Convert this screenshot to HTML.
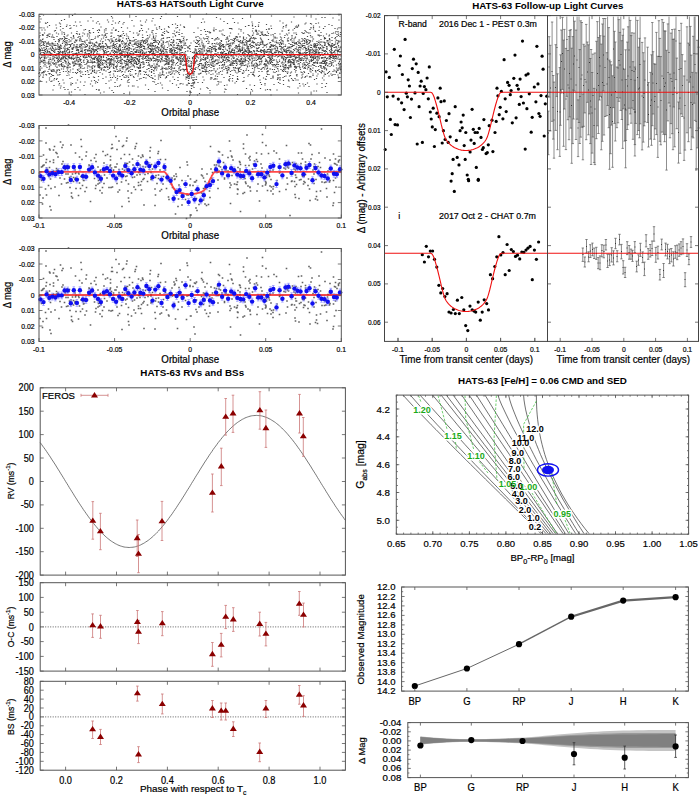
<!DOCTYPE html>
<html><head><meta charset="utf-8"><style>
html,body{margin:0;padding:0;background:#fff;width:700px;height:795px;overflow:hidden}
svg{display:block;font-family:"Liberation Sans",sans-serif}
</style></head><body>
<svg width="700" height="795" viewBox="0 0 700 795">
<path d="M39 73.5h1.2M39.5 50h1.2M39.5 37h1.2M39.5 57h1.2M39.5 76.5h1.2M39.5 45h1.2M39.5 48.5h1.2M39.5 51h1.2M39.5 72.5h1.2M40 44h1.2M40 22h1.2M40 69.5h1.2M40 58h1.2M40 62.5h1.2M40 64h1.2M40 35.5h1.2M40 51.5h1.2M40 50h1.2M40 16.5h1.2M40 49.5h1.2M40 33h1.2M40 70.5h1.2M40.5 59h1.2M40.5 58.5h1.2M40.5 53.5h1.2M40.5 50.5h1.2M40.5 40h1.2M40.5 81h1.2M40.5 75h1.2M40.5 66.5h1.2M40.5 46h1.2M40.5 49.5h1.2M40.5 62h1.2M41 43h1.2M41 19h1.2M41 40.5h1.2M41 52.5h1.2M41 60.5h1.2M41 62h1.2M41.5 45.5h1.2M41.5 57.5h1.2M41.5 48h1.2M41.5 73h1.2M41.5 48h1.2M41.5 61.5h1.2M42 30h1.2M42 61.5h1.2M42 57h1.2M42 50.5h1.2M42 55.5h1.2M42 42h1.2M42.5 34.5h1.2M42.5 72.5h1.2M42.5 49h1.2M42.5 39.5h1.2M42.5 35h1.2M43 45h1.2M43 39h1.2M43 77h1.2M43 50.5h1.2M43 73h1.2M43 41.5h1.2M43 34.5h1.2M43 62h1.2M43 39h1.2M43 60h1.2M43 52.5h1.2M43 77.5h1.2M43 35.5h1.2M43.5 15h1.2M43.5 75h1.2M43.5 42.5h1.2M43.5 60.5h1.2M43.5 45h1.2M43.5 71.5h1.2M43.5 60.5h1.2M43.5 44h1.2M43.5 63h1.2M44 28h1.2M44 55.5h1.2M44 57h1.2M44 72.5h1.2M44 47.5h1.2M44 43.5h1.2M44 53h1.2M44 47.5h1.2M44 66h1.2M44 52.5h1.2M44 48h1.2M44.5 33h1.2M44.5 60.5h1.2M44.5 60h1.2M44.5 45.5h1.2M44.5 58.5h1.2M44.5 58h1.2M44.5 53.5h1.2M44.5 60h1.2M44.5 50.5h1.2M44.5 57.5h1.2M45 49.5h1.2M45 71h1.2M45 42h1.2M45 62.5h1.2M45 51h1.2M45 71.5h1.2M45 63h1.2M45 56h1.2M45 61h1.2M45 30h1.2M45 41.5h1.2M45 64.5h1.2M45.5 51.5h1.2M45.5 42h1.2M45.5 58h1.2M45.5 56h1.2M45.5 23h1.2M45.5 56h1.2M45.5 49.5h1.2M46 53h1.2M46 66h1.2M46 47h1.2M46 74.5h1.2M46 23.5h1.2M46.5 46h1.2M46.5 82h1.2M46.5 58h1.2M46.5 75h1.2M46.5 44h1.2M46.5 53h1.2M46.5 48.5h1.2M47 50h1.2M47 67.5h1.2M47 63h1.2M47 44h1.2M47 37.5h1.2M47 43h1.2M47 55h1.2M47 35.5h1.2M47 53h1.2M47 46.5h1.2M47.5 52h1.2M47.5 51h1.2M47.5 22.5h1.2M47.5 35h1.2M47.5 27h1.2M48 35h1.2M48 71.5h1.2M48 57h1.2M48 43h1.2M48 36h1.2M48 46.5h1.2M48.5 42h1.2M48.5 62h1.2M48.5 64h1.2M48.5 55h1.2M49 34h1.2M49 63h1.2M49 43.5h1.2M49 54.5h1.2M49 59.5h1.2M49 73.5h1.2M49 51.5h1.2M49 53h1.2M49 44.5h1.2M49 61h1.2M49 69.5h1.2M49 49h1.2M49.5 68h1.2M49.5 36.5h1.2M49.5 51.5h1.2M49.5 78h1.2M49.5 54.5h1.2M49.5 66.5h1.2M49.5 78h1.2M49.5 74h1.2M49.5 25.5h1.2M49.5 80h1.2M50 52.5h1.2M50 55.5h1.2M50 73.5h1.2M50 58h1.2M50 65h1.2M50 45.5h1.2M50 34h1.2M50 63.5h1.2M50.5 59.5h1.2M50.5 53h1.2M50.5 55.5h1.2M50.5 58h1.2M50.5 58h1.2M50.5 44h1.2M50.5 48h1.2M51 76.5h1.2M51 49h1.2M51 81.5h1.2M51 53.5h1.2M51 62h1.2M51 70h1.2M51 65h1.2M51.5 74.5h1.2M51.5 37h1.2M51.5 50h1.2M51.5 70.5h1.2M51.5 46h1.2M51.5 50h1.2M51.5 55h1.2M51.5 71.5h1.2M52 71.5h1.2M52 44h1.2M52 43h1.2M52 54h1.2M52 46h1.2M52 50.5h1.2M52 60h1.2M52 81h1.2M52.5 35h1.2M52.5 50.5h1.2M52.5 75.5h1.2M52.5 43h1.2M52.5 47h1.2M52.5 71h1.2M52.5 44h1.2M52.5 48h1.2M52.5 37h1.2M53 48.5h1.2M53 69.5h1.2M53 63.5h1.2M53 37h1.2M53 58h1.2M53 62.5h1.2M53 59h1.2M53 59h1.2M53 48.5h1.2M53 58.5h1.2M53 90h1.2M53 43.5h1.2M53 56.5h1.2M53 55h1.2M53.5 75.5h1.2M53.5 45h1.2M53.5 49h1.2M53.5 51.5h1.2M54 39.5h1.2M54 64.5h1.2M54 51h1.2M54 70h1.2M54 80h1.2M54 37.5h1.2M54 59h1.2M54 71.5h1.2M54 55h1.2M54 70.5h1.2M54 85.5h1.2M54.5 78.5h1.2M54.5 57h1.2M54.5 52.5h1.2M54.5 61h1.2M54.5 60.5h1.2M54.5 45.5h1.2M54.5 50h1.2M54.5 31h1.2M54.5 63.5h1.2M55 52h1.2M55 44h1.2M55 50h1.2M55 57.5h1.2M55.5 66h1.2M55.5 64h1.2M55.5 30.5h1.2M55.5 55.5h1.2M55.5 41.5h1.2M55.5 45.5h1.2M55.5 48h1.2M56 62.5h1.2M56 62.5h1.2M56 14.5h1.2M56 25h1.2M56 72h1.2M56 55.5h1.2M56 49.5h1.2M56 45.5h1.2M56.5 33h1.2M56.5 54h1.2M56.5 73h1.2M56.5 28h1.2M56.5 79.5h1.2M56.5 58.5h1.2M56.5 64h1.2M57 54.5h1.2M57 71h1.2M57 49h1.2M57 56h1.2M57 70h1.2M57 57.5h1.2M57 67.5h1.2M57 67h1.2M57 36.5h1.2M57 78.5h1.2M57.5 45h1.2M57.5 75h1.2M57.5 61h1.2M57.5 58h1.2M57.5 43.5h1.2M57.5 70h1.2M58 60h1.2M58 46.5h1.2M58 49h1.2M58 53.5h1.2M58 51.5h1.2M58 62.5h1.2M58 58.5h1.2M58 53.5h1.2M58 47h1.2M58.5 49.5h1.2M58.5 81.5h1.2M58.5 51.5h1.2M58.5 59.5h1.2M58.5 34h1.2M58.5 41h1.2M58.5 65h1.2M58.5 39.5h1.2M58.5 61.5h1.2M58.5 45h1.2M59 41.5h1.2M59 57h1.2M59 47.5h1.2M59 53.5h1.2M59 55.5h1.2M59 52.5h1.2M59 42h1.2M59 56h1.2M59 54h1.2M59 69.5h1.2M59 49.5h1.2M59 75h1.2M59 39.5h1.2M59 56.5h1.2M59 85h1.2M59.5 60.5h1.2M59.5 61h1.2M59.5 61h1.2M59.5 23h1.2M59.5 49h1.2M59.5 58h1.2M59.5 83.5h1.2M59.5 52.5h1.2M59.5 70.5h1.2M59.5 40.5h1.2M59.5 46.5h1.2M59.5 66h1.2M60 47.5h1.2M60 64.5h1.2M60 74.5h1.2M60 48.5h1.2M60 50h1.2M60 47.5h1.2M60 38.5h1.2M60 54.5h1.2M60 72.5h1.2M60 53h1.2M60 52h1.2M60 48.5h1.2M60.5 26.5h1.2M60.5 51.5h1.2M60.5 59h1.2M60.5 24h1.2M60.5 59.5h1.2M60.5 88h1.2M60.5 30h1.2M60.5 46h1.2M60.5 45h1.2M61 48h1.2M61 39h1.2M61 60h1.2M61 86h1.2M61 61.5h1.2M61.5 64.5h1.2M61.5 65.5h1.2M61.5 66h1.2M61.5 63.5h1.2M61.5 69h1.2M61.5 20.5h1.2M61.5 48.5h1.2M61.5 46h1.2M61.5 58h1.2M61.5 39h1.2M61.5 59h1.2M62 39h1.2M62 34h1.2M62 58.5h1.2M62 52.5h1.2M62 58h1.2M62 55.5h1.2M62 32h1.2M62 57.5h1.2M62 55h1.2M62.5 52.5h1.2M62.5 38.5h1.2M62.5 51.5h1.2M62.5 43.5h1.2M62.5 66.5h1.2M62.5 54h1.2M63 65h1.2M63 62.5h1.2M63 56.5h1.2M63 28.5h1.2M63 53h1.2M63 59h1.2M63 80h1.2M63 42h1.2M63.5 58h1.2M63.5 48h1.2M63.5 69h1.2M63.5 56h1.2M63.5 58h1.2M63.5 40.5h1.2M63.5 71.5h1.2M63.5 57.5h1.2M63.5 67h1.2M64 51.5h1.2M64 32.5h1.2M64 52h1.2M64 67h1.2M64 87.5h1.2M64 36.5h1.2M64 83h1.2M64.5 57h1.2M64.5 46h1.2M64.5 37h1.2M64.5 60.5h1.2M64.5 34.5h1.2M64.5 66h1.2M64.5 39.5h1.2M64.5 41.5h1.2M64.5 19.5h1.2M64.5 51h1.2M64.5 51.5h1.2M64.5 54h1.2M64.5 34h1.2M65 48.5h1.2M65 66.5h1.2M65 89.5h1.2M65 56h1.2M65 38h1.2M65 38.5h1.2M65 43h1.2M65 50h1.2M65 52h1.2M65 61h1.2M65 47h1.2M65 60h1.2M65 49.5h1.2M65.5 54h1.2M65.5 58.5h1.2M65.5 52h1.2M65.5 44.5h1.2M65.5 57.5h1.2M65.5 53.5h1.2M65.5 41h1.2M65.5 61.5h1.2M65.5 63h1.2M65.5 45h1.2M65.5 38.5h1.2M66 55.5h1.2M66 71.5h1.2M66 42.5h1.2M66 52h1.2M66 58.5h1.2M66 56h1.2M66 54.5h1.2M66 38.5h1.2M66.5 62h1.2M66.5 43h1.2M66.5 45h1.2M66.5 26.5h1.2M66.5 51h1.2M66.5 58.5h1.2M67 38.5h1.2M67 25h1.2M67 67h1.2M67 50.5h1.2M67 67.5h1.2M67 59h1.2M67 45h1.2M67 42h1.2M67 48.5h1.2M67 40.5h1.2M67 75.5h1.2M67 64h1.2M67 36h1.2M67 68h1.2M67.5 70h1.2M67.5 54h1.2M67.5 49h1.2M67.5 56h1.2M67.5 49.5h1.2M67.5 56h1.2M67.5 44h1.2M68 73h1.2M68 67h1.2M68 65.5h1.2M68 68h1.2M68 48h1.2M68 52.5h1.2M68 35h1.2M68 60h1.2M68 89.5h1.2M68.5 71.5h1.2M68.5 49.5h1.2M68.5 62h1.2M68.5 65h1.2M68.5 63h1.2M68.5 56.5h1.2M68.5 57.5h1.2M69 75h1.2M69 44.5h1.2M69 42h1.2M69 58h1.2M69 55h1.2M69 56.5h1.2M69 54h1.2M69 39.5h1.2M69.5 52.5h1.2M69.5 50h1.2M69.5 63.5h1.2M69.5 47.5h1.2M69.5 57.5h1.2M69.5 58h1.2M69.5 55.5h1.2M69.5 51.5h1.2M69.5 44.5h1.2M70 41h1.2M70 64h1.2M70 72h1.2M70 67h1.2M70 58.5h1.2M70 64.5h1.2M70 67.5h1.2M70 78.5h1.2M70 28.5h1.2M70 25.5h1.2M70 67.5h1.2M70.5 58h1.2M70.5 45h1.2M70.5 70h1.2M70.5 46.5h1.2M70.5 45.5h1.2M71 85h1.2M71 37.5h1.2M71 41h1.2M71 84.5h1.2M71 95h1.2M71 83h1.2M71 44.5h1.2M71 28h1.2M71.5 52h1.2M71.5 92h1.2M71.5 33h1.2M71.5 59h1.2M71.5 58h1.2M71.5 57h1.2M72 43.5h1.2M72 39h1.2M72 77.5h1.2M72 58h1.2M72 49h1.2M72 48h1.2M72.5 54h1.2M72.5 55h1.2M72.5 51.5h1.2M72.5 54h1.2M72.5 83.5h1.2M72.5 43.5h1.2M72.5 62h1.2M72.5 15.5h1.2M72.5 49.5h1.2M73 56h1.2M73 62.5h1.2M73 49h1.2M73 58.5h1.2M73 72.5h1.2M73 63.5h1.2M73 48h1.2M73 69h1.2M73.5 55.5h1.2M73.5 36.5h1.2M73.5 38h1.2M73.5 35.5h1.2M73.5 47.5h1.2M73.5 59.5h1.2M73.5 45h1.2M73.5 54.5h1.2M73.5 66h1.2M74 62h1.2M74 47h1.2M74 58h1.2M74 25.5h1.2M74 65h1.2M74 38h1.2M74 53.5h1.2M74.5 62h1.2M74.5 42h1.2M74.5 45h1.2M74.5 65h1.2M74.5 58.5h1.2M74.5 65.5h1.2M75 61h1.2M75 63.5h1.2M75 14h1.2M75 89.5h1.2M75 62h1.2M75 42.5h1.2M75 42.5h1.2M75.5 40h1.2M75.5 22h1.2M75.5 63.5h1.2M75.5 72.5h1.2M75.5 53.5h1.2M76 41h1.2M76 64.5h1.2M76 63.5h1.2M76 58h1.2M76 57h1.2M76 83h1.2M76 58h1.2M76 46.5h1.2M76 47h1.2M76 48h1.2M76 54h1.2M76.5 53h1.2M76.5 41h1.2M76.5 40.5h1.2M76.5 33.5h1.2M76.5 60h1.2M76.5 54h1.2M76.5 50.5h1.2M76.5 73.5h1.2M76.5 26h1.2M77 50h1.2M77 49.5h1.2M77 31.5h1.2M77 45h1.2M77 55.5h1.2M77 59h1.2M77 53.5h1.2M77 48h1.2M77 49.5h1.2M77 46.5h1.2M77 44.5h1.2M77 61h1.2M77 40h1.2M77.5 57h1.2M77.5 34h1.2M77.5 72.5h1.2M77.5 80h1.2M77.5 49.5h1.2M77.5 69.5h1.2M77.5 55.5h1.2M77.5 57.5h1.2M78 87.5h1.2M78 64.5h1.2M78 63h1.2M78 50.5h1.2M78 70.5h1.2M78 47.5h1.2M78 37.5h1.2M78 61h1.2M78.5 61.5h1.2M78.5 57.5h1.2M78.5 50.5h1.2M78.5 52.5h1.2M78.5 52.5h1.2M78.5 49.5h1.2M78.5 54h1.2M78.5 52h1.2M79 66h1.2M79 69h1.2M79 59.5h1.2M79 52.5h1.2M79 36.5h1.2M79 61h1.2M79 54h1.2M79.5 71.5h1.2M79.5 64.5h1.2M79.5 34h1.2M79.5 40h1.2M79.5 58h1.2M79.5 34.5h1.2M79.5 66h1.2M79.5 46.5h1.2M79.5 47h1.2M79.5 45h1.2M80 65h1.2M80 38.5h1.2M80 41h1.2M80 59h1.2M80 46.5h1.2M80 54h1.2M80 90h1.2M80 63.5h1.2M80 22h1.2M80 41h1.2M80.5 44.5h1.2M80.5 67h1.2M80.5 71h1.2M80.5 65h1.2M80.5 56.5h1.2M80.5 60.5h1.2M80.5 48h1.2M80.5 37h1.2M80.5 68h1.2M80.5 60.5h1.2M80.5 51.5h1.2M80.5 39h1.2M80.5 73h1.2M80.5 82h1.2M80.5 60h1.2M80.5 76h1.2M80.5 60h1.2M80.5 61h1.2M81 25.5h1.2M81 46h1.2M81 68h1.2M81 59.5h1.2M81 64.5h1.2M81 51.5h1.2M81 50h1.2M81.5 40h1.2M81.5 48h1.2M81.5 40h1.2M81.5 76.5h1.2M81.5 62.5h1.2M81.5 45.5h1.2M81.5 44h1.2M82 66h1.2M82 41.5h1.2M82 54h1.2M82 50.5h1.2M82 44.5h1.2M82 72h1.2M82 51.5h1.2M82.5 52h1.2M82.5 49h1.2M82.5 36h1.2M83 56h1.2M83 41.5h1.2M83 33h1.2M83 74.5h1.2M83 47h1.2M83 56h1.2M83 68.5h1.2M83 43.5h1.2M83.5 57.5h1.2M83.5 61h1.2M83.5 61h1.2M83.5 56.5h1.2M84 60h1.2M84 44.5h1.2M84 30h1.2M84 62.5h1.2M84 85.5h1.2M84.5 53h1.2M84.5 42h1.2M84.5 50.5h1.2M84.5 34h1.2M84.5 68h1.2M84.5 55.5h1.2M85 82h1.2M85 46h1.2M85 41h1.2M85 49.5h1.2M85 64.5h1.2M85 47.5h1.2M85 57h1.2M85 94.5h1.2M85 58h1.2M85.5 74.5h1.2M85.5 29.5h1.2M85.5 43h1.2M85.5 52.5h1.2M85.5 51h1.2M85.5 71.5h1.2M85.5 52.5h1.2M86 53.5h1.2M86 47h1.2M86 49.5h1.2M86 49.5h1.2M86 57.5h1.2M86 46.5h1.2M86.5 64h1.2M86.5 56h1.2M86.5 44.5h1.2M87 40.5h1.2M87 40h1.2M87 46.5h1.2M87 59.5h1.2M87 63h1.2M87 57.5h1.2M87.5 70.5h1.2M87.5 36h1.2M87.5 34h1.2M87.5 61.5h1.2M87.5 45.5h1.2M87.5 54h1.2M87.5 54.5h1.2M87.5 68h1.2M87.5 51h1.2M87.5 45h1.2M87.5 34h1.2M87.5 50h1.2M87.5 66h1.2M88 50h1.2M88 50h1.2M88 72h1.2M88 60.5h1.2M88 62.5h1.2M88 66h1.2M88 54.5h1.2M88 21h1.2M88.5 56h1.2M88.5 62h1.2M88.5 53.5h1.2M88.5 56.5h1.2M88.5 74.5h1.2M88.5 55h1.2M89 66h1.2M89 43h1.2M89 51h1.2M89 54.5h1.2M89 77.5h1.2M89 31h1.2M89 48h1.2M89 42.5h1.2M89 56.5h1.2M89 34h1.2M89 74.5h1.2M89 38h1.2M89 50h1.2M89.5 57h1.2M89.5 48.5h1.2M89.5 53.5h1.2M89.5 36h1.2M89.5 30.5h1.2M89.5 46h1.2M89.5 32.5h1.2M89.5 50.5h1.2M90 70h1.2M90 62.5h1.2M90 42h1.2M90 54h1.2M90 67h1.2M90 47h1.2M90 40h1.2M90 43.5h1.2M90.5 57h1.2M90.5 33h1.2M90.5 55.5h1.2M90.5 42h1.2M90.5 60h1.2M90.5 51h1.2M90.5 84h1.2M91 52.5h1.2M91 17.5h1.2M91 50h1.2M91 43h1.2M91 73.5h1.2M91 62h1.2M91.5 52.5h1.2M91.5 58h1.2M91.5 53h1.2M91.5 51.5h1.2M91.5 39.5h1.2M91.5 57h1.2M91.5 45.5h1.2M91.5 48.5h1.2M91.5 73h1.2M91.5 81h1.2M92 62.5h1.2M92 69h1.2M92 61h1.2M92 51h1.2M92 66.5h1.2M92 62.5h1.2M92 67.5h1.2M92 55h1.2M92.5 86h1.2M92.5 68.5h1.2M92.5 71.5h1.2M92.5 63h1.2M92.5 49.5h1.2M92.5 70.5h1.2M92.5 58.5h1.2M92.5 58.5h1.2M92.5 43h1.2M93 65.5h1.2M93 47h1.2M93 71h1.2M93 44h1.2M93 48.5h1.2M93 49.5h1.2M93 39.5h1.2M93 62h1.2M93 59.5h1.2M93 47h1.2M93 28.5h1.2M93 21h1.2M93.5 58.5h1.2M93.5 53.5h1.2M93.5 32.5h1.2M93.5 77h1.2M93.5 51h1.2M94 52.5h1.2M94 58h1.2M94 46.5h1.2M94 55.5h1.2M94 49.5h1.2M94 62.5h1.2M94 46h1.2M94 50h1.2M94.5 58h1.2M94.5 45h1.2M94.5 44h1.2M94.5 59.5h1.2M94.5 51.5h1.2M94.5 71h1.2M94.5 77.5h1.2M94.5 67h1.2M94.5 80.5h1.2M94.5 58.5h1.2M94.5 72.5h1.2M94.5 70h1.2M94.5 61.5h1.2M94.5 66.5h1.2M95 45h1.2M95 66h1.2M95 57h1.2M95 57.5h1.2M95 51h1.2M95 38.5h1.2M95 54.5h1.2M95 62.5h1.2M95.5 83h1.2M95.5 45.5h1.2M95.5 54.5h1.2M95.5 37h1.2M95.5 57.5h1.2M95.5 49.5h1.2M96 73h1.2M96 81.5h1.2M96 56.5h1.2M96 55h1.2M96 45.5h1.2M96 50.5h1.2M96 47h1.2M96 42.5h1.2M96.5 50.5h1.2M96.5 50h1.2M96.5 73h1.2M96.5 23h1.2M96.5 89.5h1.2M96.5 42h1.2M96.5 58.5h1.2M97 54h1.2M97 59.5h1.2M97 60.5h1.2M97 58.5h1.2M97 71h1.2M97 43h1.2M97 49h1.2M97 53h1.2M97 63h1.2M97.5 51.5h1.2M97.5 46.5h1.2M97.5 58h1.2M97.5 30.5h1.2M97.5 82.5h1.2M97.5 65h1.2M98 61h1.2M98 49h1.2M98 62h1.2M98 61.5h1.2M98 57.5h1.2M98 63h1.2M98 67h1.2M98 48h1.2M98 36h1.2M98 48h1.2M98 59.5h1.2M98 37h1.2M98 21.5h1.2M98 66h1.2M98.5 56.5h1.2M98.5 80h1.2M98.5 46h1.2M98.5 60.5h1.2M98.5 67.5h1.2M98.5 65h1.2M98.5 56.5h1.2M98.5 32.5h1.2M98.5 66h1.2M98.5 64.5h1.2M98.5 59h1.2M98.5 76.5h1.2M99 44h1.2M99 89.5h1.2M99 46h1.2M99 48.5h1.2M99 45h1.2M99 63.5h1.2M99 70.5h1.2M99 61h1.2M99 61.5h1.2M99 54h1.2M99 90.5h1.2M99 29.5h1.2M99 54h1.2M99 55.5h1.2M99.5 61.5h1.2M99.5 64.5h1.2M99.5 55.5h1.2M99.5 61.5h1.2M99.5 45h1.2M99.5 59h1.2M99.5 24h1.2M99.5 68h1.2M99.5 67.5h1.2M99.5 66.5h1.2M99.5 30.5h1.2M99.5 35.5h1.2M100 50h1.2M100 46.5h1.2M100 54.5h1.2M100 55h1.2M100 54.5h1.2M100 56.5h1.2M100 65.5h1.2M100 58h1.2M100 62h1.2M100 67.5h1.2M100 72.5h1.2M100 43.5h1.2M100.5 93h1.2M100.5 41h1.2M100.5 44h1.2M100.5 60.5h1.2M100.5 47.5h1.2M100.5 62.5h1.2M100.5 48h1.2M100.5 55h1.2M101 69h1.2M101 57h1.2M101 63.5h1.2M101 46.5h1.2M101 27h1.2M101 65h1.2M101 59.5h1.2M101 54.5h1.2M101.5 61h1.2M101.5 59h1.2M101.5 57.5h1.2M101.5 69h1.2M101.5 39h1.2M101.5 56.5h1.2M101.5 70h1.2M101.5 47h1.2M101.5 57h1.2M102 68h1.2M102 49h1.2M102 68h1.2M102 46h1.2M102 35h1.2M102.5 47h1.2M102.5 64.5h1.2M102.5 43.5h1.2M102.5 42h1.2M102.5 62.5h1.2M102.5 35h1.2M102.5 74h1.2M103 49.5h1.2M103 63.5h1.2M103 63.5h1.2M103 60.5h1.2M103 65h1.2M103 78.5h1.2M103 41.5h1.2M103.5 56.5h1.2M103.5 56h1.2M103.5 48h1.2M103.5 38h1.2M103.5 46.5h1.2M103.5 50.5h1.2M103.5 57.5h1.2M103.5 60h1.2M103.5 46h1.2M103.5 51h1.2M104 36h1.2M104 92h1.2M104 70.5h1.2M104 52h1.2M104 69.5h1.2M104 67.5h1.2M104 53.5h1.2M104 51h1.2M104 47h1.2M104.5 60.5h1.2M104.5 30h1.2M104.5 53h1.2M104.5 32h1.2M104.5 66.5h1.2M104.5 51.5h1.2M105 63h1.2M105 67h1.2M105 46.5h1.2M105 46.5h1.2M105 35h1.2M105 53h1.2M105 52.5h1.2M105 63h1.2M105.5 43.5h1.2M105.5 35.5h1.2M105.5 48.5h1.2M105.5 61.5h1.2M105.5 34h1.2M105.5 50.5h1.2M105.5 40h1.2M105.5 61.5h1.2M105.5 67.5h1.2M106 83.5h1.2M106 37.5h1.2M106 71h1.2M106 60.5h1.2M106 61h1.2M106 60.5h1.2M106 30h1.2M106 77h1.2M106 44h1.2M106 28.5h1.2M106.5 37h1.2M106.5 62h1.2M106.5 53h1.2M106.5 45h1.2M106.5 64.5h1.2M106.5 57.5h1.2M107 46h1.2M107 51.5h1.2M107 63h1.2M107 33.5h1.2M107 66.5h1.2M107 52h1.2M107 49h1.2M107 49h1.2M107 59h1.2M107 66h1.2M107.5 20h1.2M107.5 55.5h1.2M107.5 55h1.2M107.5 47.5h1.2M107.5 46.5h1.2M107.5 60h1.2M107.5 67.5h1.2M108 47h1.2M108 69.5h1.2M108 60h1.2M108 60h1.2M108 67h1.2M108 39.5h1.2M108 60h1.2M108.5 63h1.2M108.5 58.5h1.2M108.5 22h1.2M108.5 59.5h1.2M108.5 56h1.2M108.5 51.5h1.2M109 58.5h1.2M109 81h1.2M109 72.5h1.2M109 46.5h1.2M109 48h1.2M109 40h1.2M109.5 64.5h1.2M109.5 68h1.2M109.5 41h1.2M109.5 63h1.2M109.5 58.5h1.2M109.5 59h1.2M109.5 54h1.2M109.5 68.5h1.2M109.5 65.5h1.2M109.5 88h1.2M110 67h1.2M110 72.5h1.2M110 62.5h1.2M110 48.5h1.2M110 60.5h1.2M110 61h1.2M110 54h1.2M110 47h1.2M110 75h1.2M110 75h1.2M110 64h1.2M110 61.5h1.2M110.5 59.5h1.2M110.5 43h1.2M110.5 64.5h1.2M110.5 62.5h1.2M110.5 71.5h1.2M110.5 77.5h1.2M110.5 56.5h1.2M110.5 53h1.2M111 63h1.2M111 46h1.2M111 59h1.2M111 36.5h1.2M111 39h1.2M111 63.5h1.2M111 80h1.2M111 60h1.2M111 33h1.2M111.5 55h1.2M111.5 16.5h1.2M111.5 66h1.2M111.5 58.5h1.2M111.5 36h1.2M111.5 61h1.2M111.5 42h1.2M111.5 56.5h1.2M111.5 56.5h1.2M111.5 51h1.2M112 39h1.2M112 90.5h1.2M112 30h1.2M112 50.5h1.2M112 40.5h1.2M112 64.5h1.2M112 59.5h1.2M112 33h1.2M112 24.5h1.2M112.5 77.5h1.2M112.5 64h1.2M112.5 18h1.2M112.5 57h1.2M112.5 54.5h1.2M112.5 46h1.2M112.5 41.5h1.2M112.5 41h1.2M112.5 48h1.2M113 45h1.2M113 41h1.2M113 21h1.2M113 60h1.2M113 52h1.2M113 50h1.2M113.5 92.5h1.2M113.5 68h1.2M113.5 74h1.2M113.5 43.5h1.2M113.5 52.5h1.2M113.5 45.5h1.2M113.5 64.5h1.2M113.5 66h1.2M113.5 28h1.2M113.5 66h1.2M113.5 67.5h1.2M113.5 47.5h1.2M114 44.5h1.2M114 58h1.2M114 47.5h1.2M114 59h1.2M114 68.5h1.2M114 54.5h1.2M114 37.5h1.2M114 61h1.2M114 65h1.2M114 64.5h1.2M114 42h1.2M114 55h1.2M114 63h1.2M114 55.5h1.2M114 76h1.2M114 71h1.2M114.5 51.5h1.2M114.5 50.5h1.2M114.5 54.5h1.2M114.5 46h1.2M114.5 53.5h1.2M114.5 46.5h1.2M115 48.5h1.2M115 86.5h1.2M115 61h1.2M115 71h1.2M115 82.5h1.2M115.5 71.5h1.2M115.5 48.5h1.2M115.5 66.5h1.2M115.5 56.5h1.2M115.5 23h1.2M115.5 61h1.2M115.5 52h1.2M115.5 40h1.2M115.5 52.5h1.2M115.5 30.5h1.2M115.5 77.5h1.2M115.5 44.5h1.2M115.5 30.5h1.2M116 51.5h1.2M116 29.5h1.2M116 41.5h1.2M116 30.5h1.2M116 39.5h1.2M116 41.5h1.2M116 67h1.2M116 57h1.2M116 47h1.2M116 56.5h1.2M116 52h1.2M116.5 39h1.2M116.5 41.5h1.2M116.5 46h1.2M116.5 62.5h1.2M116.5 58.5h1.2M116.5 55h1.2M116.5 68h1.2M116.5 49h1.2M117 80h1.2M117 65.5h1.2M117 56.5h1.2M117 49.5h1.2M117 69.5h1.2M117 58.5h1.2M117 57h1.2M117 52h1.2M117 49.5h1.2M117 50h1.2M117 53h1.2M117 66.5h1.2M117 43.5h1.2M117.5 56h1.2M117.5 64h1.2M117.5 78.5h1.2M117.5 78.5h1.2M117.5 76h1.2M117.5 86.5h1.2M117.5 61.5h1.2M117.5 71.5h1.2M117.5 59h1.2M117.5 52h1.2M118 35.5h1.2M118 41h1.2M118 50h1.2M118 60.5h1.2M118 47.5h1.2M118.5 31.5h1.2M118.5 23h1.2M118.5 62.5h1.2M118.5 40.5h1.2M118.5 71h1.2M118.5 58h1.2M118.5 49.5h1.2M118.5 40h1.2M118.5 48.5h1.2M119 36h1.2M119 52h1.2M119 50.5h1.2M119 52h1.2M119 46.5h1.2M119 40h1.2M119 38h1.2M119 46.5h1.2M119 41h1.2M119 57.5h1.2M119 51.5h1.2M119 50h1.2M119.5 21.5h1.2M119.5 46h1.2M119.5 53.5h1.2M119.5 71h1.2M119.5 41.5h1.2M119.5 62h1.2M119.5 40.5h1.2M119.5 86h1.2M119.5 21.5h1.2M119.5 40.5h1.2M119.5 45h1.2M120 44.5h1.2M120 69h1.2M120 55h1.2M120 45.5h1.2M120 47h1.2M120 53.5h1.2M120 66.5h1.2M120 50.5h1.2M120 36.5h1.2M120 55h1.2M120 76.5h1.2M120 39.5h1.2M120 60.5h1.2M120 40.5h1.2M120 45h1.2M120 45h1.2M120.5 46h1.2M120.5 63.5h1.2M120.5 49h1.2M120.5 50.5h1.2M120.5 70.5h1.2M120.5 49h1.2M120.5 85h1.2M120.5 49.5h1.2M120.5 60h1.2M120.5 50h1.2M120.5 60.5h1.2M120.5 49.5h1.2M120.5 56.5h1.2M120.5 35.5h1.2M120.5 58h1.2M121 36.5h1.2M121 52.5h1.2M121 66h1.2M121 57.5h1.2M121 61.5h1.2M121 53.5h1.2M121 63h1.2M121.5 55.5h1.2M121.5 51h1.2M121.5 72h1.2M121.5 79.5h1.2M121.5 43h1.2M121.5 54h1.2M121.5 41.5h1.2M121.5 60h1.2M121.5 27.5h1.2M122 52h1.2M122 53.5h1.2M122 54h1.2M122 59h1.2M122 68h1.2M122 63h1.2M122 52h1.2M122 35h1.2M122 55.5h1.2M122 64h1.2M122.5 59.5h1.2M122.5 47.5h1.2M122.5 41h1.2M122.5 44h1.2M122.5 40.5h1.2M122.5 75.5h1.2M122.5 71.5h1.2M122.5 54.5h1.2M122.5 75.5h1.2M122.5 67h1.2M122.5 55.5h1.2M122.5 44h1.2M123 67.5h1.2M123 24h1.2M123 31.5h1.2M123 41.5h1.2M123 52h1.2M123 49.5h1.2M123 69h1.2M123 51h1.2M123 38h1.2M123.5 33.5h1.2M123.5 55h1.2M123.5 66.5h1.2M123.5 74.5h1.2M124 46h1.2M124 57h1.2M124 93.5h1.2M124 22.5h1.2M124 67h1.2M124 55h1.2M124 52h1.2M124 77h1.2M124 43h1.2M124 60.5h1.2M124.5 49h1.2M124.5 60.5h1.2M124.5 54.5h1.2M124.5 56.5h1.2M124.5 63h1.2M124.5 35.5h1.2M124.5 56.5h1.2M124.5 43h1.2M124.5 47.5h1.2M125 77.5h1.2M125 72h1.2M125 55.5h1.2M125 54h1.2M125 47.5h1.2M125 44.5h1.2M125 49.5h1.2M125 57.5h1.2M125 57.5h1.2M125 61.5h1.2M125 52h1.2M125.5 43.5h1.2M125.5 61.5h1.2M125.5 65.5h1.2M125.5 67h1.2M125.5 46.5h1.2M125.5 56.5h1.2M126 51h1.2M126 61h1.2M126 61.5h1.2M126 75.5h1.2M126 65h1.2M126 43.5h1.2M126 45h1.2M126 63.5h1.2M126 70h1.2M126.5 48.5h1.2M126.5 38.5h1.2M126.5 43h1.2M126.5 77h1.2M126.5 39h1.2M126.5 55.5h1.2M126.5 69h1.2M126.5 65h1.2M126.5 64h1.2M126.5 61.5h1.2M126.5 62h1.2M126.5 34h1.2M127 52.5h1.2M127 49.5h1.2M127 46h1.2M127 59.5h1.2M127 36h1.2M127 49.5h1.2M127.5 65h1.2M127.5 53h1.2M127.5 41h1.2M127.5 64.5h1.2M127.5 28h1.2M127.5 82h1.2M127.5 56.5h1.2M127.5 69h1.2M127.5 52.5h1.2M127.5 64h1.2M127.5 59.5h1.2M127.5 57h1.2M127.5 62h1.2M127.5 48.5h1.2M127.5 48.5h1.2M127.5 54h1.2M127.5 68h1.2M127.5 58h1.2M127.5 55.5h1.2M128 47h1.2M128 68h1.2M128 51h1.2M128 59.5h1.2M128 80.5h1.2M128 54.5h1.2M128 76h1.2M128.5 44h1.2M128.5 77.5h1.2M128.5 56h1.2M128.5 86h1.2M128.5 71.5h1.2M128.5 55.5h1.2M128.5 60.5h1.2M128.5 66h1.2M128.5 38.5h1.2M128.5 37h1.2M128.5 57h1.2M128.5 44.5h1.2M128.5 45h1.2M128.5 64h1.2M128.5 61.5h1.2M129 55h1.2M129 53h1.2M129 68h1.2M129 62h1.2M129 49.5h1.2M129 48h1.2M129 47.5h1.2M129 79.5h1.2M129 50.5h1.2M129 82.5h1.2M129 44h1.2M129 70.5h1.2M129.5 60h1.2M129.5 45.5h1.2M129.5 47.5h1.2M129.5 62.5h1.2M129.5 43h1.2M129.5 55.5h1.2M129.5 40.5h1.2M129.5 60.5h1.2M129.5 40h1.2M130 42.5h1.2M130 54.5h1.2M130 48.5h1.2M130 74h1.2M130 53h1.2M130 62.5h1.2M130 58h1.2M130 31.5h1.2M130 67h1.2M130 53.5h1.2M130 41h1.2M130.5 71.5h1.2M130.5 43h1.2M130.5 61.5h1.2M130.5 62.5h1.2M130.5 43.5h1.2M130.5 40.5h1.2M130.5 67h1.2M130.5 75.5h1.2M130.5 71.5h1.2M131 69.5h1.2M131 53.5h1.2M131 51.5h1.2M131 56h1.2M131 56.5h1.2M131 64h1.2M131 59.5h1.2M131.5 57h1.2M131.5 49h1.2M131.5 49h1.2M131.5 49h1.2M131.5 57.5h1.2M131.5 61.5h1.2M131.5 56.5h1.2M131.5 63h1.2M131.5 60h1.2M131.5 58h1.2M131.5 63.5h1.2M132 51.5h1.2M132 45h1.2M132 59.5h1.2M132 20.5h1.2M132 54.5h1.2M132 75h1.2M132 66h1.2M132 41h1.2M132.5 58h1.2M132.5 69.5h1.2M132.5 58h1.2M132.5 86h1.2M132.5 41h1.2M133 53.5h1.2M133 57.5h1.2M133 61.5h1.2M133 53h1.2M133 46.5h1.2M133 64.5h1.2M133 60h1.2M133 58.5h1.2M133 55h1.2M133.5 60.5h1.2M133.5 49.5h1.2M133.5 41h1.2M133.5 37.5h1.2M133.5 65.5h1.2M133.5 50h1.2M133.5 53.5h1.2M133.5 33h1.2M133.5 76.5h1.2M133.5 76.5h1.2M134 49h1.2M134 26h1.2M134 53h1.2M134 41h1.2M134 63h1.2M134 54.5h1.2M134 77.5h1.2M134 44.5h1.2M134 66h1.2M134 86h1.2M134.5 44.5h1.2M134.5 67h1.2M134.5 59.5h1.2M134.5 44h1.2M134.5 40h1.2M134.5 63.5h1.2M134.5 57.5h1.2M134.5 63.5h1.2M135 58h1.2M135 51.5h1.2M135 43h1.2M135 62h1.2M135 60.5h1.2M135 49h1.2M135.5 61.5h1.2M135.5 70.5h1.2M135.5 57.5h1.2M135.5 52.5h1.2M135.5 74h1.2M136 58h1.2M136 39.5h1.2M136 44.5h1.2M136 51.5h1.2M136 52.5h1.2M136 43.5h1.2M136 16.5h1.2M136 73.5h1.2M136 47.5h1.2M136 42h1.2M136 63.5h1.2M136.5 51.5h1.2M136.5 64.5h1.2M136.5 62h1.2M136.5 59h1.2M136.5 62h1.2M136.5 62.5h1.2M136.5 52.5h1.2M136.5 63.5h1.2M136.5 63h1.2M136.5 51h1.2M136.5 45h1.2M136.5 56h1.2M137 67h1.2M137 33h1.2M137 49.5h1.2M137 42h1.2M137 50.5h1.2M137 52h1.2M137 80.5h1.2M137 50.5h1.2M137.5 45.5h1.2M137.5 58.5h1.2M137.5 47.5h1.2M137.5 56h1.2M137.5 59.5h1.2M137.5 64.5h1.2M138 67.5h1.2M138 60.5h1.2M138 41h1.2M138 47h1.2M138 43.5h1.2M138 76h1.2M138 35.5h1.2M138 87h1.2M138 35h1.2M138 41h1.2M138.5 74h1.2M138.5 63.5h1.2M138.5 45h1.2M138.5 46.5h1.2M138.5 68.5h1.2M138.5 61.5h1.2M138.5 54.5h1.2M138.5 56h1.2M138.5 68.5h1.2M138.5 46.5h1.2M138.5 52h1.2M138.5 52.5h1.2M139 54.5h1.2M139 62h1.2M139 67.5h1.2M139 50.5h1.2M139 61h1.2M139 72h1.2M139 43h1.2M139 60h1.2M139 34h1.2M139 57h1.2M139 41h1.2M139 50h1.2M139 44.5h1.2M139.5 59.5h1.2M139.5 66h1.2M139.5 70.5h1.2M139.5 46.5h1.2M139.5 59h1.2M139.5 31.5h1.2M139.5 79h1.2M139.5 57h1.2M139.5 56h1.2M139.5 66h1.2M139.5 71h1.2M139.5 59h1.2M139.5 61.5h1.2M139.5 48h1.2M140 68.5h1.2M140 56h1.2M140 52h1.2M140 30.5h1.2M140 63h1.2M140 53h1.2M140.5 53h1.2M140.5 47.5h1.2M140.5 65.5h1.2M140.5 51h1.2M140.5 74h1.2M140.5 44h1.2M140.5 52h1.2M140.5 45.5h1.2M140.5 67h1.2M140.5 70.5h1.2M140.5 46h1.2M140.5 65h1.2M140.5 43h1.2M140.5 67.5h1.2M140.5 21h1.2M140.5 45h1.2M140.5 55.5h1.2M140.5 64.5h1.2M140.5 71.5h1.2M141 42.5h1.2M141 25h1.2M141 51h1.2M141 49.5h1.2M141 56.5h1.2M141 41h1.2M141 47.5h1.2M141 78.5h1.2M141 40.5h1.2M141.5 44.5h1.2M141.5 62.5h1.2M141.5 28.5h1.2M141.5 46.5h1.2M141.5 47h1.2M142 50h1.2M142 58.5h1.2M142 41h1.2M142 54.5h1.2M142 25.5h1.2M142 54h1.2M142 50h1.2M142 45h1.2M142.5 35h1.2M142.5 37.5h1.2M142.5 40h1.2M142.5 30.5h1.2M142.5 52h1.2M142.5 50.5h1.2M142.5 53h1.2M143 56h1.2M143 62.5h1.2M143 37.5h1.2M143 59.5h1.2M143 67.5h1.2M143 57h1.2M143 64h1.2M143 54h1.2M143 58h1.2M143 46h1.2M143 61.5h1.2M143.5 46h1.2M143.5 43h1.2M143.5 43h1.2M143.5 77.5h1.2M143.5 52h1.2M143.5 46.5h1.2M143.5 48.5h1.2M143.5 42h1.2M143.5 41h1.2M144 71.5h1.2M144 66.5h1.2M144 64.5h1.2M144 63h1.2M144 77.5h1.2M144 55.5h1.2M144.5 40.5h1.2M144.5 48h1.2M144.5 49h1.2M144.5 58.5h1.2M144.5 46.5h1.2M144.5 54h1.2M144.5 74.5h1.2M144.5 58.5h1.2M144.5 53h1.2M145 41.5h1.2M145 41.5h1.2M145 43.5h1.2M145.5 72.5h1.2M145.5 53h1.2M145.5 85h1.2M145.5 57.5h1.2M145.5 56.5h1.2M145.5 40h1.2M145.5 43.5h1.2M145.5 22h1.2M146 49h1.2M146 53h1.2M146 42.5h1.2M146 53h1.2M146 58.5h1.2M146 60.5h1.2M146 60.5h1.2M146 56.5h1.2M146 72h1.2M146 78h1.2M146 72h1.2M146.5 74.5h1.2M146.5 62.5h1.2M146.5 20h1.2M146.5 56.5h1.2M146.5 39h1.2M146.5 52h1.2M146.5 32h1.2M147 69.5h1.2M147 60h1.2M147 42h1.2M147 54.5h1.2M147 40.5h1.2M147 60.5h1.2M147 55.5h1.2M147.5 45h1.2M147.5 41h1.2M147.5 44.5h1.2M147.5 35.5h1.2M148 56.5h1.2M148 44h1.2M148 60h1.2M148 75.5h1.2M148 38h1.2M148 57.5h1.2M148 47.5h1.2M148 39h1.2M148 49h1.2M148 65.5h1.2M148 56h1.2M148 56h1.2M148.5 47.5h1.2M148.5 75h1.2M148.5 62.5h1.2M148.5 29h1.2M148.5 89.5h1.2M148.5 47h1.2M148.5 46.5h1.2M148.5 58.5h1.2M148.5 51.5h1.2M148.5 44h1.2M148.5 60.5h1.2M148.5 68.5h1.2M149 68.5h1.2M149 46h1.2M149 64h1.2M149 64.5h1.2M149 51.5h1.2M149 55.5h1.2M149 60.5h1.2M149.5 53h1.2M149.5 71h1.2M149.5 65h1.2M149.5 48.5h1.2M149.5 52h1.2M149.5 45h1.2M149.5 37h1.2M149.5 76.5h1.2M150 59h1.2M150 35h1.2M150 58h1.2M150 61h1.2M150 66h1.2M150.5 49.5h1.2M150.5 59h1.2M150.5 58.5h1.2M150.5 44h1.2M150.5 52.5h1.2M150.5 52.5h1.2M150.5 48.5h1.2M150.5 51h1.2M150.5 52h1.2M150.5 45.5h1.2M151 46h1.2M151 44h1.2M151 77.5h1.2M151 67h1.2M151 45.5h1.2M151 43h1.2M151 46.5h1.2M151 67.5h1.2M151.5 67h1.2M151.5 59h1.2M151.5 60.5h1.2M151.5 50h1.2M151.5 51.5h1.2M151.5 75.5h1.2M151.5 72.5h1.2M151.5 59.5h1.2M151.5 69.5h1.2M151.5 49.5h1.2M151.5 71.5h1.2M151.5 50.5h1.2M152 32.5h1.2M152 21h1.2M152 69.5h1.2M152 51h1.2M152 31h1.2M152 48h1.2M152 39h1.2M152 53.5h1.2M152 65.5h1.2M152.5 46h1.2M152.5 66h1.2M152.5 49h1.2M152.5 43.5h1.2M152.5 78h1.2M152.5 45h1.2M152.5 55h1.2M152.5 78.5h1.2M153 18.5h1.2M153 54h1.2M153 58.5h1.2M153 34h1.2M153 81.5h1.2M153 57h1.2M153 53h1.2M153 50h1.2M153 30.5h1.2M153 78.5h1.2M153 45.5h1.2M153.5 49h1.2M153.5 36.5h1.2M153.5 40.5h1.2M153.5 52h1.2M153.5 37.5h1.2M153.5 57h1.2M153.5 51.5h1.2M153.5 70.5h1.2M153.5 45.5h1.2M153.5 67.5h1.2M153.5 36h1.2M153.5 58h1.2M153.5 61h1.2M153.5 42.5h1.2M154 71h1.2M154 40.5h1.2M154 53.5h1.2M154 46.5h1.2M154 64h1.2M154 38.5h1.2M154 73.5h1.2M154.5 69h1.2M154.5 82h1.2M154.5 49h1.2M154.5 58.5h1.2M154.5 55.5h1.2M154.5 60.5h1.2M154.5 42.5h1.2M154.5 40h1.2M155 79.5h1.2M155 68h1.2M155 66h1.2M155 48h1.2M155 60.5h1.2M155 68.5h1.2M155 40.5h1.2M155 25h1.2M155 76h1.2M155 67.5h1.2M155 54h1.2M155 58.5h1.2M155 42h1.2M155 91.5h1.2M155.5 50.5h1.2M155.5 46h1.2M155.5 40h1.2M155.5 50h1.2M155.5 42h1.2M155.5 61h1.2M155.5 38h1.2M155.5 45.5h1.2M155.5 55.5h1.2M156 84.5h1.2M156 48h1.2M156 33.5h1.2M156 36h1.2M156 67h1.2M156 41h1.2M156 41.5h1.2M156 52h1.2M156 59.5h1.2M156 50.5h1.2M156.5 28h1.2M156.5 64h1.2M156.5 70h1.2M156.5 52h1.2M156.5 59h1.2M157 66h1.2M157 48h1.2M157 47.5h1.2M157 64.5h1.2M157 64.5h1.2M157 56.5h1.2M157 57h1.2M157 29.5h1.2M157 60.5h1.2M157 42.5h1.2M157 68h1.2M157 68h1.2M157.5 64h1.2M157.5 46.5h1.2M157.5 59.5h1.2M157.5 46.5h1.2M157.5 62h1.2M157.5 56h1.2M158 57.5h1.2M158 52.5h1.2M158 40.5h1.2M158 83.5h1.2M158 51.5h1.2M158 48h1.2M158.5 77h1.2M158.5 44.5h1.2M158.5 43.5h1.2M158.5 61.5h1.2M158.5 75h1.2M158.5 79h1.2M158.5 49.5h1.2M159 65.5h1.2M159 60.5h1.2M159 48h1.2M159 66.5h1.2M159 47.5h1.2M159 50.5h1.2M159 59.5h1.2M159 56.5h1.2M159 60.5h1.2M159 56.5h1.2M159.5 57h1.2M159.5 42.5h1.2M159.5 54h1.2M159.5 26.5h1.2M159.5 28h1.2M159.5 41.5h1.2M160 76h1.2M160 73h1.2M160 53.5h1.2M160 55.5h1.2M160 75h1.2M160.5 51h1.2M160.5 50.5h1.2M160.5 62h1.2M160.5 50h1.2M160.5 61h1.2M160.5 83h1.2M160.5 18.5h1.2M160.5 77.5h1.2M160.5 49.5h1.2M160.5 49.5h1.2M161 58.5h1.2M161 40h1.2M161 49h1.2M161 46h1.2M161 53.5h1.2M161 69.5h1.2M161.5 47h1.2M161.5 29.5h1.2M161.5 16.5h1.2M161.5 75h1.2M161.5 44h1.2M161.5 51.5h1.2M161.5 59h1.2M161.5 59.5h1.2M161.5 54h1.2M161.5 52.5h1.2M161.5 56h1.2M161.5 45.5h1.2M161.5 40h1.2M162 68.5h1.2M162 67h1.2M162 58h1.2M162 38.5h1.2M162 47h1.2M162 34.5h1.2M162 51h1.2M162 45.5h1.2M162 59.5h1.2M162 85h1.2M162 35.5h1.2M162 61h1.2M162.5 88h1.2M162.5 51h1.2M162.5 69h1.2M162.5 71h1.2M162.5 57h1.2M162.5 74.5h1.2M162.5 73h1.2M162.5 55h1.2M162.5 61h1.2M163 47h1.2M163 54h1.2M163 44.5h1.2M163 35.5h1.2M163 43h1.2M163 50h1.2M163 72h1.2M163 32.5h1.2M163 47.5h1.2M163 68h1.2M163 55h1.2M163 51.5h1.2M163 54.5h1.2M163 41h1.2M163.5 38h1.2M163.5 75h1.2M163.5 53.5h1.2M163.5 48.5h1.2M163.5 51.5h1.2M163.5 43h1.2M163.5 38.5h1.2M163.5 50h1.2M163.5 42h1.2M164 53h1.2M164 61h1.2M164 75h1.2M164 60.5h1.2M164.5 29h1.2M164.5 65h1.2M164.5 68.5h1.2M164.5 48h1.2M164.5 33.5h1.2M164.5 31.5h1.2M164.5 46h1.2M165 58.5h1.2M165 49.5h1.2M165 61h1.2M165 55.5h1.2M165 53h1.2M165.5 56.5h1.2M165.5 64.5h1.2M165.5 49.5h1.2M165.5 78h1.2M165.5 64h1.2M165.5 56.5h1.2M166 14h1.2M166 42.5h1.2M166 51.5h1.2M166 59.5h1.2M166 50h1.2M166 59.5h1.2M166 69.5h1.2M166 54.5h1.2M166 68h1.2M166 61.5h1.2M166 58h1.2M166 69h1.2M166.5 55.5h1.2M166.5 31h1.2M166.5 59h1.2M166.5 59.5h1.2M166.5 63h1.2M166.5 73h1.2M166.5 76.5h1.2M166.5 77.5h1.2M166.5 56.5h1.2M166.5 64h1.2M167 41.5h1.2M167 63.5h1.2M167 63.5h1.2M167 49.5h1.2M167 59.5h1.2M167 61h1.2M167 53h1.2M167 52h1.2M167 61.5h1.2M167 56.5h1.2M167 60h1.2M167 61.5h1.2M167 38h1.2M167.5 47.5h1.2M167.5 55h1.2M167.5 69h1.2M167.5 32h1.2M167.5 57.5h1.2M168 75.5h1.2M168 55.5h1.2M168 56.5h1.2M168 64.5h1.2M168 42h1.2M168 62.5h1.2M168 90.5h1.2M168 69h1.2M168 37.5h1.2M168.5 62.5h1.2M168.5 26.5h1.2M168.5 59h1.2M168.5 32.5h1.2M168.5 44h1.2M168.5 63.5h1.2M168.5 67h1.2M169 60.5h1.2M169 73h1.2M169 27.5h1.2M169 62.5h1.2M169 62h1.2M169 66.5h1.2M169 64.5h1.2M169 46h1.2M169 27.5h1.2M169 72h1.2M169 58h1.2M169 63.5h1.2M169.5 41h1.2M169.5 51h1.2M169.5 68.5h1.2M169.5 37.5h1.2M169.5 59h1.2M170 51h1.2M170 61.5h1.2M170 48.5h1.2M170 52.5h1.2M170 49h1.2M170 50.5h1.2M170 81h1.2M170.5 52h1.2M170.5 44.5h1.2M170.5 52h1.2M170.5 74.5h1.2M170.5 72h1.2M170.5 49.5h1.2M170.5 45h1.2M171 67h1.2M171 42.5h1.2M171 60.5h1.2M171 67.5h1.2M171 69.5h1.2M171.5 45.5h1.2M171.5 39.5h1.2M171.5 66.5h1.2M171.5 48.5h1.2M171.5 74h1.2M171.5 54h1.2M171.5 52h1.2M171.5 61h1.2M171.5 45h1.2M171.5 57h1.2M171.5 65h1.2M171.5 69h1.2M171.5 50.5h1.2M172 62h1.2M172 60h1.2M172 64.5h1.2M172 51.5h1.2M172 71h1.2M172 60h1.2M172 49.5h1.2M172 61.5h1.2M172 54h1.2M172 53h1.2M172 59h1.2M172 53.5h1.2M172.5 53.5h1.2M172.5 63h1.2M172.5 47h1.2M172.5 50.5h1.2M172.5 43h1.2M172.5 24.5h1.2M172.5 83.5h1.2M172.5 73h1.2M172.5 68h1.2M173 37h1.2M173 56h1.2M173 47h1.2M173 65h1.2M173 57.5h1.2M173 42h1.2M173 33.5h1.2M173 77h1.2M173.5 40.5h1.2M173.5 61h1.2M173.5 71h1.2M173.5 63h1.2M173.5 60h1.2M173.5 42.5h1.2M173.5 40h1.2M173.5 55h1.2M174 56h1.2M174 54h1.2M174 55h1.2M174 53h1.2M174 45.5h1.2M174 68.5h1.2M174 49.5h1.2M174 41h1.2M174 49h1.2M174 62.5h1.2M174 47.5h1.2M174 44.5h1.2M174 71h1.2M174.5 68.5h1.2M174.5 51.5h1.2M174.5 50.5h1.2M174.5 34h1.2M174.5 50.5h1.2M174.5 31h1.2M174.5 74h1.2M174.5 34h1.2M174.5 79.5h1.2M174.5 68h1.2M175 53h1.2M175 54.5h1.2M175 50.5h1.2M175.5 50.5h1.2M175.5 24h1.2M175.5 48h1.2M175.5 65h1.2M175.5 35.5h1.2M175.5 56h1.2M175.5 36h1.2M175.5 56h1.2M176 72h1.2M176 52.5h1.2M176 28h1.2M176 57.5h1.2M176 58.5h1.2M176 70.5h1.2M176.5 43h1.2M176.5 63.5h1.2M176.5 57.5h1.2M176.5 48.5h1.2M176.5 85h1.2M176.5 52.5h1.2M176.5 32.5h1.2M177 56.5h1.2M177 32h1.2M177 57.5h1.2M177 45.5h1.2M177 53.5h1.2M177 39.5h1.2M177 47.5h1.2M177 53h1.2M177 59h1.2M177.5 47.5h1.2M177.5 62.5h1.2M177.5 48h1.2M177.5 27.5h1.2M177.5 25.5h1.2M177.5 58h1.2M177.5 16.5h1.2M177.5 52h1.2M177.5 47.5h1.2M177.5 71.5h1.2M178 65.5h1.2M178 59.5h1.2M178 77.5h1.2M178 45h1.2M178 80.5h1.2M178 39.5h1.2M178 46h1.2M178 49.5h1.2M178.5 87.5h1.2M178.5 45.5h1.2M178.5 73h1.2M178.5 60h1.2M178.5 43.5h1.2M179 48.5h1.2M179 68.5h1.2M179 45.5h1.2M179 68h1.2M179 59h1.2M179 72.5h1.2M179 34.5h1.2M179 61h1.2M179 32.5h1.2M179 70h1.2M179.5 59h1.2M179.5 49.5h1.2M179.5 39.5h1.2M179.5 30h1.2M179.5 41.5h1.2M179.5 74.5h1.2M179.5 57.5h1.2M179.5 34.5h1.2M179.5 47h1.2M179.5 54h1.2M179.5 51h1.2M179.5 59h1.2M180 55.5h1.2M180 41h1.2M180 64h1.2M180 66.5h1.2M180 67h1.2M180 55h1.2M180 84h1.2M180 49h1.2M180 53h1.2M180 57h1.2M180 66.5h1.2M180.5 58.5h1.2M180.5 42h1.2M180.5 25h1.2M180.5 63h1.2M180.5 70.5h1.2M180.5 60.5h1.2M180.5 40h1.2M180.5 41.5h1.2M180.5 61.5h1.2M180.5 50h1.2M181 46h1.2M181 47h1.2M181 53h1.2M181 60.5h1.2M181 83.5h1.2M181 69.5h1.2M181 49.5h1.2M181 64.5h1.2M181 57h1.2M181 50.5h1.2M181 43h1.2M181 59h1.2M181.5 45.5h1.2M181.5 45.5h1.2M181.5 41.5h1.2M181.5 63h1.2M181.5 56h1.2M181.5 48h1.2M182 52.5h1.2M182 42h1.2M182 36.5h1.2M182 61.5h1.2M182 33.5h1.2M182.5 55.5h1.2M182.5 54.5h1.2M182.5 61.5h1.2M182.5 61h1.2M182.5 47h1.2M182.5 48h1.2M182.5 52.5h1.2M182.5 58.5h1.2M183 40.5h1.2M183 65.5h1.2M183 69.5h1.2M183 84h1.2M183 69h1.2M183 59.5h1.2M183.5 75h1.2M183.5 58h1.2M183.5 65h1.2M183.5 38.5h1.2M184 56.5h1.2M184 27h1.2M184 57.5h1.2M184 60.5h1.2M184 37h1.2M184 69.5h1.2M184 40h1.2M184 60h1.2M184 45.5h1.2M184 26.5h1.2M184 42h1.2M184 71h1.2M184 53h1.2M184 44h1.2M184.5 27.5h1.2M184.5 70h1.2M184.5 61.5h1.2M184.5 56h1.2M184.5 55.5h1.2M184.5 65h1.2M185 58.5h1.2M185 54.5h1.2M185 48.5h1.2M185 53h1.2M185 44h1.2M185.5 59h1.2M185.5 65h1.2M185.5 69.5h1.2M185.5 61.5h1.2M185.5 51.5h1.2M185.5 43h1.2M185.5 64h1.2M186 77h1.2M186 62h1.2M186 45.5h1.2M186 79h1.2M186 61h1.2M186 65.5h1.2M186 74.5h1.2M186.5 85h1.2M186.5 69h1.2M186.5 65.5h1.2M186.5 60h1.2M186.5 62h1.2M186.5 40h1.2M186.5 68.5h1.2M186.5 77.5h1.2M186.5 55h1.2M187 64h1.2M187 69.5h1.2M187 77h1.2M187 58.5h1.2M187 39.5h1.2M187 77.5h1.2M187 61.5h1.2M187 63.5h1.2M187 61h1.2M187 71h1.2M187 91.5h1.2M187.5 57h1.2M187.5 47h1.2M187.5 73.5h1.2M187.5 59h1.2M187.5 66h1.2M187.5 75h1.2M187.5 51h1.2M187.5 85h1.2M188 78h1.2M188 66h1.2M188 48h1.2M188 51h1.2M188 76h1.2M188.5 73.5h1.2M188.5 80.5h1.2M188.5 73h1.2M188.5 47h1.2M188.5 83h1.2M188.5 76.5h1.2M188.5 83.5h1.2M188.5 62h1.2M188.5 74h1.2M188.5 60.5h1.2M189 66.5h1.2M189 65h1.2M189 57h1.2M189 78.5h1.2M189.5 78h1.2M189.5 76h1.2M189.5 66.5h1.2M189.5 83.5h1.2M189.5 78h1.2M189.5 95.5h1.2M189.5 46h1.2M189.5 75h1.2M189.5 48.5h1.2M189.5 72h1.2M189.5 58.5h1.2M190 74.5h1.2M190 91h1.2M190 49h1.2M190 45.5h1.2M190 66h1.2M190 67h1.2M190 92h1.2M190 61h1.2M190.5 92h1.2M190.5 69.5h1.2M190.5 73.5h1.2M190.5 51.5h1.2M191 66.5h1.2M191 43h1.2M191 63.5h1.2M191 92.5h1.2M191 85.5h1.2M191.5 64h1.2M191.5 70.5h1.2M191.5 86h1.2M191.5 62h1.2M191.5 62h1.2M191.5 76h1.2M191.5 78h1.2M191.5 68.5h1.2M191.5 65.5h1.2M191.5 88.5h1.2M191.5 67h1.2M191.5 61.5h1.2M192 72.5h1.2M192 83.5h1.2M192 77.5h1.2M192 77.5h1.2M192 71.5h1.2M192 85.5h1.2M192.5 57.5h1.2M192.5 73h1.2M192.5 72h1.2M192.5 52.5h1.2M192.5 58.5h1.2M193 75h1.2M193 80.5h1.2M193 60h1.2M193 69.5h1.2M193 79.5h1.2M193 73.5h1.2M193 73h1.2M193 86h1.2M193 63h1.2M193 68.5h1.2M193 82.5h1.2M193.5 68.5h1.2M193.5 84h1.2M193.5 58h1.2M193.5 56.5h1.2M193.5 80.5h1.2M194 83h1.2M194 75h1.2M194 53h1.2M194 65.5h1.2M194 63.5h1.2M194 71.5h1.2M194 52h1.2M194 61.5h1.2M194 77.5h1.2M194 87.5h1.2M194 41h1.2M194 32.5h1.2M194 73h1.2M194.5 82h1.2M194.5 52.5h1.2M194.5 71.5h1.2M194.5 60.5h1.2M194.5 64h1.2M194.5 63h1.2M194.5 83h1.2M194.5 55.5h1.2M195 69.5h1.2M195 62h1.2M195 49h1.2M195 57h1.2M195 68.5h1.2M195 79.5h1.2M195 53h1.2M195 51h1.2M195.5 63h1.2M195.5 49h1.2M195.5 58.5h1.2M195.5 55h1.2M195.5 42.5h1.2M195.5 46.5h1.2M195.5 69.5h1.2M196 61.5h1.2M196 37h1.2M196 55h1.2M196 46.5h1.2M196 57h1.2M196 49.5h1.2M196 54h1.2M196 67.5h1.2M196 37.5h1.2M196 50.5h1.2M196.5 79.5h1.2M196.5 53h1.2M196.5 56h1.2M196.5 43.5h1.2M196.5 54.5h1.2M196.5 77h1.2M196.5 40h1.2M196.5 52h1.2M196.5 52h1.2M196.5 60h1.2M197 46.5h1.2M197 61h1.2M197 60.5h1.2M197 54h1.2M197 53h1.2M197.5 95h1.2M197.5 53h1.2M197.5 43h1.2M197.5 57h1.2M197.5 40.5h1.2M197.5 54h1.2M197.5 46.5h1.2M198 42h1.2M198 28h1.2M198 64.5h1.2M198 68h1.2M198 82.5h1.2M198 36.5h1.2M198.5 51.5h1.2M198.5 66.5h1.2M198.5 41h1.2M198.5 58h1.2M198.5 41.5h1.2M198.5 49h1.2M198.5 74h1.2M198.5 44.5h1.2M199 54h1.2M199 65h1.2M199.5 40.5h1.2M199.5 38h1.2M199.5 93.5h1.2M199.5 65.5h1.2M199.5 50.5h1.2M199.5 54h1.2M199.5 65.5h1.2M199.5 74h1.2M199.5 44h1.2M199.5 63.5h1.2M199.5 69.5h1.2M199.5 65h1.2M200 63.5h1.2M200 51h1.2M200 70h1.2M200 53h1.2M200 46h1.2M200 54h1.2M200 46.5h1.2M200 61.5h1.2M200 52h1.2M200 48.5h1.2M200.5 89h1.2M200.5 60h1.2M200.5 57h1.2M200.5 73.5h1.2M201 34.5h1.2M201 30.5h1.2M201 55h1.2M201 59h1.2M201 73h1.2M201 39h1.2M201 60.5h1.2M201 39h1.2M201 49h1.2M201 63.5h1.2M201.5 65h1.2M201.5 49h1.2M201.5 22.5h1.2M201.5 63.5h1.2M201.5 49h1.2M201.5 52h1.2M202 67h1.2M202 50h1.2M202 59h1.2M202 65h1.2M202 49h1.2M202 42.5h1.2M202 53.5h1.2M202 68h1.2M202 68.5h1.2M202 41h1.2M202 44h1.2M202 68h1.2M202.5 71h1.2M202.5 71.5h1.2M202.5 46h1.2M202.5 82.5h1.2M202.5 52h1.2M203 59.5h1.2M203 48h1.2M203 19h1.2M203 55h1.2M203 52h1.2M203 52h1.2M203 77h1.2M203 54h1.2M203 45.5h1.2M203 68.5h1.2M203 65.5h1.2M203.5 56h1.2M203.5 44h1.2M203.5 59.5h1.2M203.5 57.5h1.2M203.5 38h1.2M203.5 71.5h1.2M203.5 46h1.2M203.5 65h1.2M204 80h1.2M204 60h1.2M204 68h1.2M204 47h1.2M204 50h1.2M204 67h1.2M204 55.5h1.2M204.5 48h1.2M204.5 66.5h1.2M204.5 39h1.2M204.5 51h1.2M204.5 22h1.2M204.5 29.5h1.2M204.5 67h1.2M205 71.5h1.2M205 46h1.2M205 59h1.2M205 54.5h1.2M205 58.5h1.2M205 63h1.2M205 69.5h1.2M205 66h1.2M205.5 64h1.2M205.5 65h1.2M205.5 58.5h1.2M205.5 31.5h1.2M205.5 62.5h1.2M205.5 58h1.2M205.5 60h1.2M205.5 72h1.2M205.5 71h1.2M205.5 54h1.2M205.5 58.5h1.2M206 38.5h1.2M206 64h1.2M206 57.5h1.2M206 34.5h1.2M206 59h1.2M206 54h1.2M206 67h1.2M206 53.5h1.2M206.5 55h1.2M206.5 61.5h1.2M206.5 71.5h1.2M206.5 14h1.2M206.5 68h1.2M206.5 50h1.2M206.5 41.5h1.2M206.5 74h1.2M206.5 53h1.2M206.5 70h1.2M207 67.5h1.2M207 36.5h1.2M207 87.5h1.2M207 53h1.2M207 51h1.2M207.5 57h1.2M207.5 58.5h1.2M207.5 65h1.2M207.5 38.5h1.2M207.5 62.5h1.2M207.5 51.5h1.2M207.5 31.5h1.2M208 40h1.2M208 58h1.2M208 56h1.2M208 71.5h1.2M208 43.5h1.2M208 50.5h1.2M208 48.5h1.2M208 55h1.2M208 88.5h1.2M208 48h1.2M208.5 64.5h1.2M208.5 37h1.2M208.5 50.5h1.2M208.5 55h1.2M209 41.5h1.2M209 62h1.2M209 32h1.2M209 73h1.2M209 51.5h1.2M209 43h1.2M209 52h1.2M209 66.5h1.2M209 52h1.2M209.5 51h1.2M209.5 46.5h1.2M209.5 70.5h1.2M209.5 32h1.2M209.5 49h1.2M209.5 60h1.2M209.5 60h1.2M209.5 50.5h1.2M209.5 65h1.2M210 33h1.2M210 51h1.2M210 90.5h1.2M210 93h1.2M210 48.5h1.2M210.5 55.5h1.2M210.5 55h1.2M210.5 57h1.2M210.5 79h1.2M210.5 63h1.2M210.5 63h1.2M210.5 46.5h1.2M210.5 32.5h1.2M211 55.5h1.2M211 79h1.2M211 64.5h1.2M211 52h1.2M211 63h1.2M211 74.5h1.2M211 67.5h1.2M211 57.5h1.2M211 71h1.2M211 77.5h1.2M211 53h1.2M211.5 50h1.2M211.5 59.5h1.2M211.5 47.5h1.2M211.5 60h1.2M211.5 65.5h1.2M211.5 49h1.2M211.5 56h1.2M212 38.5h1.2M212 51.5h1.2M212 78h1.2M212 59h1.2M212 62h1.2M212 44h1.2M212 70.5h1.2M212.5 56h1.2M212.5 61.5h1.2M212.5 47.5h1.2M212.5 38.5h1.2M212.5 43.5h1.2M212.5 58h1.2M213 65.5h1.2M213 59h1.2M213 58h1.2M213 58.5h1.2M213 63h1.2M213 63.5h1.2M213 66.5h1.2M213 64h1.2M213 46h1.2M213 57h1.2M213 74h1.2M213 61.5h1.2M213 46h1.2M213 49h1.2M213.5 49h1.2M213.5 55.5h1.2M213.5 30h1.2M214 66.5h1.2M214 61h1.2M214 30h1.2M214 46.5h1.2M214 48.5h1.2M214 70h1.2M214 68.5h1.2M214 79.5h1.2M214 46.5h1.2M214 31h1.2M214 28h1.2M214.5 43.5h1.2M214.5 61.5h1.2M214.5 40h1.2M214.5 40h1.2M214.5 62h1.2M215 53.5h1.2M215 50h1.2M215 56.5h1.2M215 65h1.2M215 48h1.2M215 40h1.2M215 46h1.2M215 78.5h1.2M215.5 61h1.2M215.5 49h1.2M215.5 76h1.2M215.5 51.5h1.2M215.5 50.5h1.2M215.5 60h1.2M215.5 72h1.2M215.5 79h1.2M215.5 50h1.2M216 44h1.2M216 38.5h1.2M216 60h1.2M216 39h1.2M216 46.5h1.2M216 29.5h1.2M216 71h1.2M216 51h1.2M216.5 54h1.2M216.5 17.5h1.2M216.5 63.5h1.2M216.5 55.5h1.2M216.5 49.5h1.2M217 64h1.2M217 85h1.2M217 43h1.2M217 60h1.2M217 74h1.2M217 39h1.2M217 79h1.2M217.5 63.5h1.2M217.5 60h1.2M217.5 69h1.2M217.5 37.5h1.2M217.5 76.5h1.2M217.5 56.5h1.2M218 54h1.2M218 52.5h1.2M218 63.5h1.2M218 44.5h1.2M218 62h1.2M218 44.5h1.2M218 81.5h1.2M218.5 39h1.2M218.5 48.5h1.2M218.5 57.5h1.2M218.5 49h1.2M218.5 84h1.2M219 82h1.2M219 39h1.2M219 54.5h1.2M219 48h1.2M219 56h1.2M219 62.5h1.2M219 74h1.2M219 47.5h1.2M219 72.5h1.2M219 48h1.2M219 43.5h1.2M219 60h1.2M219.5 68h1.2M219.5 65.5h1.2M219.5 58h1.2M219.5 55h1.2M219.5 49h1.2M219.5 45.5h1.2M219.5 31h1.2M220 49.5h1.2M220 46.5h1.2M220 42.5h1.2M220 45h1.2M220 44.5h1.2M220 47h1.2M220.5 49h1.2M220.5 48.5h1.2M220.5 52.5h1.2M220.5 19h1.2M220.5 49.5h1.2M220.5 71.5h1.2M220.5 62h1.2M221 31h1.2M221 53h1.2M221 53.5h1.2M221 48h1.2M221 43.5h1.2M221 46.5h1.2M221 40.5h1.2M221 57h1.2M221 82h1.2M221.5 52h1.2M221.5 45.5h1.2M221.5 57.5h1.2M221.5 55.5h1.2M221.5 58h1.2M221.5 40.5h1.2M221.5 62.5h1.2M221.5 41.5h1.2M222 65.5h1.2M222 67.5h1.2M222 34h1.2M222 74.5h1.2M222 55h1.2M222 58h1.2M222 68.5h1.2M222 74.5h1.2M222 57h1.2M222 54.5h1.2M222.5 61.5h1.2M222.5 44.5h1.2M222.5 52.5h1.2M222.5 56.5h1.2M222.5 53.5h1.2M222.5 49.5h1.2M222.5 71h1.2M222.5 64.5h1.2M223 61h1.2M223 52.5h1.2M223 59.5h1.2M223 30h1.2M223 45.5h1.2M223 49.5h1.2M223 35h1.2M223 46.5h1.2M223.5 55h1.2M223.5 60h1.2M223.5 60.5h1.2M223.5 47.5h1.2M223.5 52h1.2M223.5 50h1.2M223.5 67h1.2M223.5 44.5h1.2M223.5 65h1.2M224 21.5h1.2M224 77.5h1.2M224 57h1.2M224 58h1.2M224 58h1.2M224 54h1.2M224 69.5h1.2M224 46.5h1.2M224.5 56.5h1.2M224.5 64h1.2M224.5 92h1.2M224.5 65h1.2M224.5 35.5h1.2M224.5 62.5h1.2M224.5 57.5h1.2M224.5 51.5h1.2M224.5 85.5h1.2M225 60.5h1.2M225 47h1.2M225 56h1.2M225 89h1.2M225.5 68h1.2M225.5 49h1.2M225.5 60h1.2M225.5 53.5h1.2M226 89.5h1.2M226 55.5h1.2M226 45h1.2M226 39.5h1.2M226 68.5h1.2M226 58h1.2M226 66.5h1.2M226.5 62h1.2M226.5 55h1.2M226.5 68.5h1.2M226.5 59h1.2M226.5 38h1.2M226.5 57.5h1.2M226.5 57.5h1.2M226.5 42h1.2M226.5 53.5h1.2M227 70h1.2M227 44h1.2M227 38h1.2M227 70.5h1.2M227 85h1.2M227 50h1.2M227 73h1.2M227.5 39h1.2M227.5 71h1.2M227.5 50.5h1.2M227.5 59.5h1.2M227.5 37h1.2M227.5 44.5h1.2M227.5 61h1.2M227.5 71h1.2M227.5 44.5h1.2M227.5 23.5h1.2M227.5 73h1.2M227.5 72.5h1.2M227.5 55h1.2M228 39h1.2M228 57h1.2M228 56.5h1.2M228 68h1.2M228 57.5h1.2M228 66h1.2M228.5 52.5h1.2M228.5 61h1.2M228.5 67.5h1.2M228.5 55h1.2M228.5 46.5h1.2M228.5 41.5h1.2M228.5 53.5h1.2M228.5 60h1.2M228.5 44h1.2M228.5 69.5h1.2M229 51.5h1.2M229 80.5h1.2M229 40.5h1.2M229 70h1.2M229 58h1.2M229 79.5h1.2M229 54.5h1.2M229 48h1.2M229 54h1.2M229 57.5h1.2M229 46.5h1.2M229 51.5h1.2M229 58h1.2M229 45h1.2M229.5 28.5h1.2M229.5 60.5h1.2M229.5 45.5h1.2M229.5 81h1.2M229.5 76.5h1.2M229.5 48h1.2M229.5 51h1.2M229.5 68h1.2M229.5 49h1.2M229.5 36h1.2M229.5 49h1.2M230 78.5h1.2M230 52h1.2M230 65h1.2M230 62h1.2M230 64.5h1.2M230 55h1.2M230 43.5h1.2M230 48h1.2M230 65.5h1.2M230.5 53h1.2M230.5 33h1.2M230.5 28.5h1.2M230.5 45h1.2M230.5 71.5h1.2M230.5 74.5h1.2M231 64.5h1.2M231 39.5h1.2M231 46h1.2M231 56h1.2M231 65.5h1.2M231 52h1.2M231 63.5h1.2M231 43h1.2M231 52.5h1.2M231 64h1.2M231.5 28.5h1.2M231.5 52h1.2M231.5 59h1.2M231.5 62h1.2M231.5 55.5h1.2M231.5 51h1.2M232 49.5h1.2M232 55h1.2M232 29h1.2M232 70.5h1.2M232 50.5h1.2M232.5 64h1.2M232.5 57h1.2M232.5 40h1.2M232.5 63h1.2M232.5 63h1.2M232.5 52.5h1.2M232.5 40h1.2M232.5 44h1.2M232.5 55h1.2M232.5 81h1.2M232.5 49h1.2M232.5 78.5h1.2M232.5 57h1.2M233 50.5h1.2M233 49h1.2M233 75.5h1.2M233 63h1.2M233 63h1.2M233 43h1.2M233 42.5h1.2M233 62h1.2M233 65.5h1.2M233 60.5h1.2M233 18.5h1.2M233.5 67.5h1.2M233.5 56h1.2M233.5 58.5h1.2M233.5 52.5h1.2M233.5 54.5h1.2M233.5 40.5h1.2M234 38.5h1.2M234 70h1.2M234 57.5h1.2M234 43h1.2M234 58.5h1.2M234 53.5h1.2M234 57.5h1.2M234 63.5h1.2M234 61.5h1.2M234 68h1.2M234.5 63.5h1.2M234.5 39h1.2M234.5 41.5h1.2M234.5 51h1.2M234.5 22.5h1.2M234.5 52.5h1.2M234.5 50h1.2M234.5 50h1.2M234.5 40h1.2M234.5 53h1.2M235 47.5h1.2M235 60.5h1.2M235 70.5h1.2M235 53h1.2M235 83h1.2M235.5 38.5h1.2M235.5 55h1.2M235.5 37h1.2M235.5 67.5h1.2M235.5 72h1.2M235.5 61h1.2M236 46.5h1.2M236 60h1.2M236 60h1.2M236 62h1.2M236 61h1.2M236 68.5h1.2M236 48.5h1.2M236 45.5h1.2M236.5 45.5h1.2M236.5 36.5h1.2M236.5 40h1.2M236.5 81.5h1.2M236.5 56h1.2M236.5 62h1.2M236.5 65.5h1.2M236.5 63.5h1.2M237 62h1.2M237 53h1.2M237 59h1.2M237 51.5h1.2M237 62h1.2M237 58.5h1.2M237 47.5h1.2M237 37.5h1.2M237 73h1.2M237.5 46.5h1.2M237.5 76.5h1.2M237.5 40h1.2M237.5 37h1.2M237.5 59.5h1.2M237.5 79.5h1.2M237.5 49h1.2M237.5 64h1.2M237.5 94.5h1.2M237.5 54.5h1.2M237.5 78.5h1.2M238 54.5h1.2M238 68.5h1.2M238 40h1.2M238 23h1.2M238 68h1.2M238 49h1.2M238 79.5h1.2M238.5 70.5h1.2M238.5 50.5h1.2M238.5 69.5h1.2M238.5 60h1.2M238.5 34h1.2M238.5 72h1.2M238.5 46.5h1.2M238.5 41.5h1.2M238.5 51.5h1.2M238.5 57h1.2M239 53.5h1.2M239 71.5h1.2M239 61.5h1.2M239 60h1.2M239 50.5h1.2M239 68.5h1.2M239 29h1.2M239 45.5h1.2M239 44.5h1.2M239 46.5h1.2M239.5 68h1.2M239.5 51h1.2M239.5 61h1.2M239.5 49.5h1.2M239.5 55h1.2M239.5 41.5h1.2M239.5 48h1.2M240 37h1.2M240 71.5h1.2M240 36.5h1.2M240 49h1.2M240 62h1.2M240 67.5h1.2M240 64.5h1.2M240 43h1.2M240 46.5h1.2M240.5 50h1.2M240.5 52h1.2M240.5 63.5h1.2M240.5 51h1.2M240.5 42h1.2M240.5 40.5h1.2M240.5 61h1.2M241 56.5h1.2M241 66h1.2M241 29.5h1.2M241 60h1.2M241 69.5h1.2M241 31h1.2M241 61.5h1.2M241 59.5h1.2M241 56h1.2M241 58.5h1.2M241.5 59.5h1.2M241.5 59h1.2M241.5 64h1.2M241.5 50.5h1.2M242 63.5h1.2M242 48h1.2M242 54.5h1.2M242 43.5h1.2M242 58h1.2M242 62.5h1.2M242 50h1.2M242 50h1.2M242 42.5h1.2M242 65.5h1.2M242.5 49h1.2M242.5 73h1.2M242.5 41h1.2M242.5 61h1.2M242.5 49.5h1.2M242.5 52.5h1.2M242.5 41.5h1.2M242.5 61.5h1.2M242.5 18.5h1.2M242.5 53h1.2M242.5 47h1.2M242.5 73.5h1.2M242.5 50.5h1.2M242.5 54h1.2M243 52.5h1.2M243 81.5h1.2M243 64h1.2M243 54h1.2M243 42.5h1.2M243 54h1.2M243 55h1.2M243 73.5h1.2M243 63h1.2M243 45h1.2M243.5 37h1.2M243.5 59h1.2M243.5 40h1.2M243.5 61.5h1.2M243.5 37.5h1.2M243.5 52.5h1.2M243.5 70.5h1.2M243.5 38.5h1.2M243.5 33h1.2M244 56h1.2M244 55h1.2M244 65.5h1.2M244 81h1.2M244 51.5h1.2M244 43h1.2M244 61h1.2M244 72h1.2M244 77.5h1.2M244 48h1.2M244.5 51h1.2M244.5 44.5h1.2M244.5 53h1.2M244.5 65.5h1.2M244.5 59h1.2M245 61h1.2M245 57h1.2M245 53.5h1.2M245 45h1.2M245 39.5h1.2M245 49.5h1.2M245 54h1.2M245 45.5h1.2M245 62h1.2M245.5 51.5h1.2M245.5 58h1.2M245.5 26.5h1.2M245.5 65h1.2M245.5 50.5h1.2M245.5 60.5h1.2M245.5 42h1.2M245.5 59.5h1.2M246 70.5h1.2M246 51h1.2M246 55h1.2M246 65h1.2M246.5 43h1.2M246.5 88.5h1.2M246.5 69h1.2M246.5 38h1.2M246.5 43h1.2M246.5 51h1.2M246.5 52h1.2M246.5 40.5h1.2M246.5 45h1.2M247 44h1.2M247 60.5h1.2M247 42h1.2M247 54.5h1.2M247 47h1.2M247 52h1.2M247 56.5h1.2M247 48.5h1.2M247.5 67h1.2M247.5 66h1.2M247.5 50h1.2M247.5 41.5h1.2M247.5 46h1.2M247.5 55.5h1.2M248 76h1.2M248 52.5h1.2M248 58h1.2M248 48h1.2M248 47.5h1.2M248 58h1.2M248 64h1.2M248 34.5h1.2M248 41h1.2M248.5 41h1.2M248.5 46.5h1.2M248.5 25.5h1.2M248.5 50h1.2M248.5 53.5h1.2M248.5 48.5h1.2M248.5 61.5h1.2M248.5 70.5h1.2M248.5 58.5h1.2M248.5 41.5h1.2M249 41.5h1.2M249 56h1.2M249 50.5h1.2M249 35.5h1.2M249 74.5h1.2M249 25.5h1.2M249 63h1.2M249 54.5h1.2M249 51h1.2M249 49h1.2M249 52h1.2M249.5 59h1.2M249.5 66h1.2M249.5 60h1.2M249.5 52.5h1.2M249.5 41h1.2M249.5 40h1.2M249.5 50.5h1.2M249.5 51h1.2M249.5 51h1.2M249.5 57h1.2M249.5 36h1.2M249.5 44.5h1.2M249.5 59h1.2M250 40h1.2M250 45h1.2M250 85h1.2M250 51.5h1.2M250 56.5h1.2M250 52.5h1.2M250 56h1.2M250 55h1.2M250 52.5h1.2M250 39h1.2M250.5 52h1.2M250.5 46.5h1.2M250.5 38.5h1.2M250.5 60h1.2M250.5 44h1.2M250.5 41h1.2M251 37h1.2M251 72.5h1.2M251 48h1.2M251.5 58h1.2M251.5 54.5h1.2M251.5 53h1.2M251.5 89.5h1.2M251.5 63h1.2M251.5 51.5h1.2M251.5 38h1.2M251.5 45.5h1.2M251.5 56h1.2M251.5 58h1.2M251.5 55h1.2M252 22h1.2M252 66h1.2M252 56h1.2M252 65.5h1.2M252 47.5h1.2M252 56h1.2M252 64h1.2M252 62h1.2M252 42.5h1.2M252.5 24h1.2M252.5 41h1.2M252.5 91h1.2M252.5 31h1.2M252.5 74.5h1.2M252.5 59h1.2M252.5 68.5h1.2M252.5 45.5h1.2M252.5 35.5h1.2M252.5 26h1.2M252.5 31h1.2M252.5 61h1.2M252.5 25.5h1.2M252.5 53h1.2M253 56h1.2M253 28.5h1.2M253 35h1.2M253 46h1.2M253 42h1.2M253 38.5h1.2M253 58h1.2M253 73h1.2M253.5 74.5h1.2M253.5 65h1.2M253.5 66h1.2M253.5 43h1.2M253.5 50.5h1.2M253.5 72h1.2M253.5 33h1.2M253.5 42h1.2M253.5 37.5h1.2M253.5 46.5h1.2M254 60.5h1.2M254 66h1.2M254 51.5h1.2M254 72h1.2M254 75.5h1.2M254.5 42.5h1.2M254.5 39h1.2M254.5 85.5h1.2M254.5 52h1.2M254.5 68h1.2M254.5 52h1.2M254.5 51h1.2M254.5 58h1.2M254.5 70h1.2M254.5 76h1.2M254.5 52h1.2M254.5 47h1.2M254.5 64h1.2M254.5 47h1.2M255 60h1.2M255 53.5h1.2M255 67.5h1.2M255 60h1.2M255 38h1.2M255 67.5h1.2M255.5 44h1.2M255.5 55h1.2M255.5 31h1.2M255.5 66h1.2M255.5 26.5h1.2M256 30h1.2M256 66h1.2M256 63h1.2M256 38.5h1.2M256 58h1.2M256 45h1.2M256 56h1.2M256.5 48h1.2M256.5 30.5h1.2M256.5 63.5h1.2M256.5 31.5h1.2M256.5 53.5h1.2M256.5 60.5h1.2M256.5 54.5h1.2M256.5 51h1.2M256.5 45.5h1.2M257 66.5h1.2M257 55.5h1.2M257 64h1.2M257 65h1.2M257 34.5h1.2M257 44h1.2M257 33h1.2M257 48.5h1.2M257 50h1.2M257.5 59.5h1.2M257.5 33h1.2M257.5 50.5h1.2M257.5 64.5h1.2M257.5 68h1.2M258 45h1.2M258 57h1.2M258 65.5h1.2M258 42.5h1.2M258 51.5h1.2M258 56h1.2M258 48.5h1.2M258 57h1.2M258.5 59h1.2M258.5 34h1.2M258.5 48h1.2M258.5 58.5h1.2M258.5 76.5h1.2M258.5 26.5h1.2M258.5 25h1.2M259 31h1.2M259 51.5h1.2M259 22.5h1.2M259 68.5h1.2M259 47.5h1.2M259 71.5h1.2M259 57.5h1.2M259 45h1.2M259.5 65h1.2M259.5 61.5h1.2M259.5 45.5h1.2M259.5 75.5h1.2M259.5 56.5h1.2M259.5 55h1.2M259.5 62h1.2M259.5 58h1.2M260 35.5h1.2M260 64h1.2M260 59h1.2M260 80h1.2M260 43h1.2M260.5 35.5h1.2M260.5 44.5h1.2M260.5 50.5h1.2M260.5 51.5h1.2M260.5 82.5h1.2M260.5 38h1.2M260.5 43h1.2M260.5 88.5h1.2M261 55.5h1.2M261 69.5h1.2M261 57h1.2M261 32h1.2M261 44.5h1.2M261 42h1.2M261 39h1.2M261 59.5h1.2M261 64h1.2M261 61.5h1.2M261 49.5h1.2M261 55.5h1.2M261 58.5h1.2M261 52h1.2M261.5 62h1.2M261.5 58.5h1.2M261.5 52.5h1.2M261.5 40h1.2M261.5 33h1.2M261.5 50.5h1.2M261.5 61h1.2M261.5 61h1.2M261.5 69h1.2M261.5 84.5h1.2M262 61h1.2M262 42h1.2M262 34.5h1.2M262 54.5h1.2M262 71.5h1.2M262.5 43h1.2M262.5 41h1.2M262.5 68h1.2M262.5 57.5h1.2M262.5 32h1.2M262.5 50.5h1.2M262.5 34h1.2M263 47.5h1.2M263 44h1.2M263 51h1.2M263 35h1.2M263 44.5h1.2M263 42h1.2M263 44h1.2M263 56.5h1.2M263 56h1.2M263.5 56.5h1.2M263.5 78h1.2M263.5 51.5h1.2M263.5 51h1.2M263.5 67.5h1.2M264 46h1.2M264 35.5h1.2M264 50h1.2M264 64.5h1.2M264 55.5h1.2M264 56.5h1.2M264 54.5h1.2M264 52h1.2M264 53h1.2M264 56.5h1.2M264.5 53.5h1.2M264.5 63.5h1.2M264.5 56.5h1.2M264.5 45h1.2M264.5 45.5h1.2M264.5 64h1.2M264.5 49.5h1.2M264.5 69h1.2M265 34.5h1.2M265 45.5h1.2M265 51h1.2M265 85h1.2M265 52h1.2M265 67h1.2M265 64h1.2M265 83.5h1.2M265 65h1.2M265.5 34.5h1.2M265.5 61.5h1.2M265.5 59h1.2M265.5 90h1.2M265.5 79h1.2M266 45h1.2M266 66h1.2M266 52h1.2M266 79.5h1.2M266 35.5h1.2M266 64h1.2M266 65.5h1.2M266 60.5h1.2M266.5 44.5h1.2M266.5 47h1.2M266.5 24.5h1.2M266.5 76.5h1.2M266.5 60h1.2M266.5 35.5h1.2M266.5 65h1.2M266.5 52.5h1.2M266.5 69h1.2M266.5 29.5h1.2M267 61h1.2M267 73h1.2M267 51h1.2M267 61.5h1.2M267 71.5h1.2M267.5 74.5h1.2M267.5 68h1.2M267.5 55h1.2M267.5 32h1.2M267.5 44h1.2M267.5 62h1.2M267.5 49.5h1.2M267.5 44h1.2M267.5 89.5h1.2M267.5 66h1.2M267.5 68.5h1.2M267.5 52h1.2M268 57.5h1.2M268 63h1.2M268 63.5h1.2M268 55.5h1.2M268 71.5h1.2M268 63h1.2M268 70.5h1.2M268 35.5h1.2M268.5 39.5h1.2M268.5 55h1.2M268.5 49.5h1.2M268.5 33.5h1.2M269 57h1.2M269 74.5h1.2M269 29.5h1.2M269 64h1.2M269 49h1.2M269 62h1.2M269 28.5h1.2M269 53h1.2M269 57.5h1.2M269 57.5h1.2M269 51.5h1.2M269.5 61h1.2M269.5 56h1.2M269.5 58h1.2M269.5 58h1.2M269.5 43h1.2M270 52h1.2M270 60.5h1.2M270 58h1.2M270 69h1.2M270 47.5h1.2M270 89.5h1.2M270 46.5h1.2M270 59h1.2M270 49.5h1.2M270.5 63.5h1.2M270.5 69h1.2M270.5 47.5h1.2M270.5 90h1.2M270.5 42.5h1.2M270.5 50h1.2M270.5 49.5h1.2M270.5 58h1.2M270.5 59.5h1.2M270.5 62.5h1.2M270.5 59h1.2M271 35h1.2M271 46h1.2M271 95h1.2M271 55h1.2M271 52.5h1.2M271 44.5h1.2M271 78.5h1.2M271 61h1.2M271 51.5h1.2M271 26h1.2M271 46.5h1.2M271 56h1.2M271 51h1.2M271.5 52h1.2M271.5 28.5h1.2M271.5 61h1.2M271.5 45h1.2M271.5 52h1.2M271.5 62h1.2M271.5 45.5h1.2M271.5 16h1.2M271.5 59.5h1.2M271.5 53h1.2M272 49h1.2M272 64.5h1.2M272 57h1.2M272 58h1.2M272 40.5h1.2M272 50h1.2M272 57.5h1.2M272.5 55h1.2M272.5 46h1.2M272.5 53.5h1.2M272.5 56h1.2M272.5 40h1.2M272.5 69.5h1.2M272.5 55h1.2M272.5 58.5h1.2M272.5 62.5h1.2M272.5 53.5h1.2M273 78h1.2M273 45h1.2M273 65h1.2M273 76h1.2M273 60.5h1.2M273 56h1.2M273 41.5h1.2M273 66h1.2M273 77h1.2M273 34.5h1.2M273.5 46.5h1.2M273.5 46h1.2M273.5 40h1.2M273.5 36h1.2M273.5 54h1.2M273.5 72h1.2M273.5 60h1.2M274 49h1.2M274 64.5h1.2M274 38h1.2M274 84.5h1.2M274.5 60h1.2M274.5 69.5h1.2M274.5 45.5h1.2M274.5 52.5h1.2M274.5 64.5h1.2M275 72.5h1.2M275 54h1.2M275 65h1.2M275 42h1.2M275 67h1.2M275 52h1.2M275 33.5h1.2M275 65h1.2M275 48h1.2M275 37h1.2M275 52.5h1.2M275 56.5h1.2M275.5 52.5h1.2M275.5 52h1.2M275.5 45h1.2M275.5 65.5h1.2M275.5 38h1.2M275.5 49h1.2M275.5 65.5h1.2M276 50.5h1.2M276 46.5h1.2M276 55.5h1.2M276 52.5h1.2M276.5 64.5h1.2M276.5 41h1.2M276.5 67h1.2M276.5 50.5h1.2M276.5 71.5h1.2M276.5 42.5h1.2M276.5 60h1.2M276.5 50.5h1.2M276.5 52h1.2M276.5 67h1.2M277 47h1.2M277 64.5h1.2M277 55h1.2M277 61.5h1.2M277 63h1.2M277 43h1.2M277 90h1.2M277 38h1.2M277.5 79.5h1.2M277.5 50h1.2M277.5 48.5h1.2M277.5 68.5h1.2M277.5 48h1.2M277.5 57h1.2M278 62.5h1.2M278 74.5h1.2M278 69h1.2M278 43h1.2M278 78.5h1.2M278 66.5h1.2M278 77.5h1.2M278 75.5h1.2M278 51h1.2M278.5 56.5h1.2M278.5 71h1.2M278.5 52h1.2M278.5 53h1.2M278.5 64.5h1.2M278.5 82.5h1.2M279 43h1.2M279 56h1.2M279.5 40.5h1.2M279.5 44.5h1.2M279.5 51.5h1.2M279.5 46.5h1.2M279.5 60h1.2M279.5 55h1.2M279.5 61.5h1.2M280 55h1.2M280 80h1.2M280 79h1.2M280 21h1.2M280 46h1.2M280 74.5h1.2M280 83.5h1.2M280 46.5h1.2M280 52h1.2M280 77.5h1.2M280 34h1.2M280.5 66h1.2M280.5 66.5h1.2M280.5 37h1.2M280.5 49h1.2M280.5 52.5h1.2M280.5 42.5h1.2M281 52.5h1.2M281 43.5h1.2M281 39.5h1.2M281 69.5h1.2M281 56h1.2M281 46.5h1.2M281 42h1.2M281.5 56h1.2M281.5 47h1.2M281.5 50h1.2M281.5 47h1.2M281.5 58h1.2M281.5 38h1.2M281.5 44.5h1.2M281.5 63h1.2M282 58h1.2M282 40.5h1.2M282 53h1.2M282 43.5h1.2M282 31h1.2M282 52h1.2M282 63h1.2M282 57.5h1.2M282 48.5h1.2M282 48h1.2M282 56.5h1.2M282.5 70.5h1.2M282.5 71h1.2M282.5 31h1.2M282.5 58h1.2M282.5 53.5h1.2M282.5 52h1.2M282.5 62h1.2M282.5 53.5h1.2M283 66.5h1.2M283 77.5h1.2M283 41h1.2M283 23h1.2M283 56h1.2M283 47.5h1.2M283 65h1.2M283 42h1.2M283 65h1.2M283 28h1.2M283 64.5h1.2M283.5 69.5h1.2M283.5 58h1.2M283.5 60h1.2M283.5 44h1.2M283.5 80.5h1.2M283.5 49.5h1.2M283.5 71.5h1.2M283.5 59h1.2M283.5 26.5h1.2M283.5 84.5h1.2M284 63h1.2M284 51h1.2M284 50h1.2M284 67h1.2M284 58h1.2M284 68h1.2M284 46.5h1.2M284 63h1.2M284 49h1.2M284.5 70h1.2M284.5 68h1.2M284.5 76.5h1.2M284.5 51.5h1.2M284.5 50.5h1.2M284.5 37.5h1.2M284.5 56.5h1.2M284.5 70h1.2M285 35.5h1.2M285 60h1.2M285 51h1.2M285 65.5h1.2M285.5 61h1.2M285.5 59.5h1.2M285.5 45h1.2M285.5 46.5h1.2M285.5 57.5h1.2M285.5 71.5h1.2M285.5 69h1.2M285.5 67.5h1.2M285.5 62h1.2M285.5 64.5h1.2M286 52.5h1.2M286 52h1.2M286 51h1.2M286 52.5h1.2M286 65h1.2M286 54.5h1.2M286 51.5h1.2M286 49.5h1.2M286 25.5h1.2M286 57.5h1.2M286 59h1.2M286 66h1.2M286 65.5h1.2M286 27h1.2M286 76h1.2M286.5 52h1.2M286.5 53h1.2M286.5 34h1.2M286.5 58h1.2M286.5 25h1.2M286.5 34h1.2M286.5 51h1.2M287 52.5h1.2M287 52h1.2M287 48.5h1.2M287 55.5h1.2M287 72h1.2M287 68h1.2M287 50.5h1.2M287.5 67.5h1.2M287.5 73.5h1.2M287.5 35h1.2M287.5 55.5h1.2M287.5 57.5h1.2M287.5 39h1.2M287.5 41h1.2M288 48h1.2M288 40.5h1.2M288 56h1.2M288 86.5h1.2M288 63h1.2M288 72h1.2M288 50.5h1.2M288 61.5h1.2M288 47h1.2M288.5 60.5h1.2M288.5 60h1.2M288.5 80h1.2M288.5 61h1.2M288.5 68h1.2M288.5 30.5h1.2M288.5 62h1.2M288.5 38h1.2M288.5 41h1.2M288.5 69h1.2M289 50h1.2M289 81h1.2M289 51h1.2M289 43.5h1.2M289 33h1.2M289 62.5h1.2M289 30h1.2M289 50.5h1.2M289 65.5h1.2M289 56h1.2M289 48h1.2M289 67h1.2M289 54.5h1.2M289 57.5h1.2M289.5 59.5h1.2M289.5 87h1.2M289.5 54h1.2M289.5 47h1.2M289.5 52.5h1.2M289.5 47.5h1.2M289.5 76h1.2M290 47h1.2M290 61.5h1.2M290 60.5h1.2M290 60h1.2M290 52.5h1.2M290 62h1.2M290 47h1.2M290 67h1.2M290 56h1.2M290 55.5h1.2M290.5 75.5h1.2M290.5 65.5h1.2M290.5 51h1.2M290.5 64.5h1.2M290.5 57.5h1.2M290.5 44.5h1.2M290.5 63h1.2M290.5 40h1.2M290.5 73h1.2M290.5 64.5h1.2M291 51.5h1.2M291 66.5h1.2M291 67h1.2M291 56h1.2M291 48h1.2M291 51h1.2M291 57h1.2M291 39.5h1.2M291 61.5h1.2M291 54h1.2M291 65h1.2M291 55h1.2M291.5 78.5h1.2M291.5 57h1.2M291.5 46.5h1.2M291.5 57h1.2M291.5 54h1.2M291.5 62h1.2M291.5 22h1.2M291.5 72h1.2M292 38.5h1.2M292 52.5h1.2M292 37h1.2M292 44.5h1.2M292 35.5h1.2M292 63h1.2M292 59.5h1.2M292 41h1.2M292 52h1.2M292.5 46.5h1.2M292.5 52.5h1.2M292.5 46h1.2M292.5 42.5h1.2M292.5 80h1.2M292.5 62.5h1.2M293 56.5h1.2M293 63h1.2M293 30h1.2M293 54h1.2M293 55h1.2M293 60h1.2M293 59h1.2M293 56.5h1.2M293 45.5h1.2M293.5 49.5h1.2M293.5 80.5h1.2M293.5 60.5h1.2M293.5 64.5h1.2M293.5 52h1.2M293.5 54h1.2M293.5 63h1.2M293.5 62.5h1.2M294 63.5h1.2M294 39h1.2M294 62.5h1.2M294 17h1.2M294 33h1.2M294 61h1.2M294 56.5h1.2M294 45.5h1.2M294 41h1.2M294 62h1.2M294 39h1.2M294 42.5h1.2M294.5 66.5h1.2M294.5 69.5h1.2M294.5 43.5h1.2M294.5 55.5h1.2M294.5 28.5h1.2M294.5 50.5h1.2M294.5 64.5h1.2M295 38h1.2M295 66.5h1.2M295 67.5h1.2M295 57h1.2M295 60h1.2M295 49h1.2M295 55h1.2M295 66h1.2M295 59.5h1.2M295 78.5h1.2M295 44h1.2M295.5 57.5h1.2M295.5 57h1.2M295.5 54.5h1.2M295.5 37h1.2M295.5 43h1.2M295.5 72h1.2M295.5 27h1.2M295.5 66.5h1.2M295.5 58.5h1.2M296 70.5h1.2M296 68h1.2M296 48.5h1.2M296 80h1.2M296 68.5h1.2M296 33h1.2M296.5 52h1.2M296.5 47h1.2M296.5 42.5h1.2M296.5 34.5h1.2M296.5 43.5h1.2M296.5 62h1.2M296.5 58h1.2M296.5 57h1.2M296.5 75h1.2M296.5 67.5h1.2M296.5 26h1.2M297 66.5h1.2M297 27.5h1.2M297 60.5h1.2M297 74.5h1.2M297 49.5h1.2M297 44.5h1.2M297 76h1.2M297.5 57.5h1.2M297.5 50h1.2M297.5 27h1.2M297.5 55h1.2M298 41.5h1.2M298 80h1.2M298 51.5h1.2M298 61h1.2M298 88h1.2M298 61.5h1.2M298 64h1.2M298.5 48h1.2M298.5 50.5h1.2M298.5 26h1.2M298.5 50.5h1.2M298.5 25h1.2M298.5 45.5h1.2M298.5 93h1.2M298.5 52.5h1.2M299 55.5h1.2M299 43.5h1.2M299 56.5h1.2M299 66.5h1.2M299 54h1.2M299 59h1.2M299 57.5h1.2M299 61h1.2M299 54h1.2M299 63.5h1.2M299 40h1.2M299 52.5h1.2M299 49.5h1.2M299 59.5h1.2M299 42.5h1.2M299 43.5h1.2M299 47.5h1.2M299.5 53h1.2M299.5 67h1.2M299.5 83.5h1.2M299.5 40h1.2M299.5 55.5h1.2M299.5 46h1.2M299.5 65h1.2M299.5 53h1.2M299.5 59h1.2M300 52h1.2M300 86h1.2M300 53.5h1.2M300 58h1.2M300 68h1.2M300 42h1.2M300 55h1.2M300 67.5h1.2M300 47.5h1.2M300.5 53h1.2M300.5 50h1.2M300.5 58.5h1.2M300.5 60.5h1.2M300.5 62.5h1.2M300.5 69.5h1.2M300.5 43.5h1.2M301 45h1.2M301 48h1.2M301 47h1.2M301 59.5h1.2M301 72h1.2M301 54h1.2M301 47h1.2M301 55h1.2M301 54h1.2M301.5 60.5h1.2M301.5 54h1.2M301.5 55h1.2M301.5 78h1.2M301.5 60h1.2M301.5 54h1.2M302 41.5h1.2M302 32.5h1.2M302 72.5h1.2M302 75h1.2M302 60h1.2M302 58.5h1.2M302 57.5h1.2M302 57.5h1.2M302 45h1.2M302 38.5h1.2M302.5 45.5h1.2M302.5 67h1.2M302.5 46.5h1.2M302.5 55h1.2M302.5 40h1.2M302.5 64h1.2M302.5 77h1.2M302.5 45.5h1.2M303 49h1.2M303 40h1.2M303 66h1.2M303 53.5h1.2M303 53h1.2M303 33.5h1.2M303 84h1.2M303 33.5h1.2M303 43.5h1.2M303 74h1.2M303.5 33.5h1.2M303.5 40h1.2M303.5 54.5h1.2M303.5 45.5h1.2M303.5 60.5h1.2M304 47.5h1.2M304 62.5h1.2M304 56.5h1.2M304 68.5h1.2M304 47.5h1.2M304 64h1.2M304 58.5h1.2M304 59h1.2M304 45.5h1.2M304 58.5h1.2M304 45.5h1.2M304 71.5h1.2M304 86h1.2M304.5 54.5h1.2M304.5 67.5h1.2M304.5 41h1.2M304.5 43.5h1.2M304.5 40.5h1.2M304.5 65h1.2M304.5 52.5h1.2M304.5 38.5h1.2M304.5 56.5h1.2M304.5 64h1.2M304.5 67.5h1.2M304.5 72.5h1.2M304.5 33h1.2M305 55.5h1.2M305 57h1.2M305 24h1.2M305 77.5h1.2M305 42h1.2M305 54h1.2M305 64.5h1.2M305 46h1.2M305 30.5h1.2M305 46h1.2M305 47.5h1.2M305 55.5h1.2M305.5 76.5h1.2M305.5 48h1.2M305.5 84.5h1.2M305.5 39h1.2M305.5 51h1.2M305.5 68.5h1.2M305.5 49h1.2M305.5 65h1.2M305.5 67h1.2M306 58.5h1.2M306 60.5h1.2M306 62h1.2M306 58h1.2M306 23h1.2M306 52.5h1.2M306 53.5h1.2M306 31.5h1.2M306.5 40.5h1.2M306.5 59h1.2M306.5 50.5h1.2M306.5 65.5h1.2M306.5 43h1.2M306.5 42h1.2M306.5 16h1.2M306.5 55h1.2M306.5 50h1.2M306.5 52.5h1.2M306.5 48.5h1.2M306.5 50h1.2M307 32.5h1.2M307 62.5h1.2M307 59h1.2M307 56h1.2M307 76h1.2M307 39.5h1.2M307 41.5h1.2M307 50h1.2M307 44.5h1.2M307 55h1.2M307 42h1.2M307.5 52.5h1.2M307.5 58h1.2M307.5 50h1.2M307.5 42h1.2M307.5 69h1.2M307.5 64.5h1.2M307.5 83h1.2M307.5 36.5h1.2M308 64h1.2M308 67h1.2M308 44h1.2M308 54.5h1.2M308 47h1.2M308.5 47h1.2M308.5 67.5h1.2M308.5 48.5h1.2M308.5 33h1.2M308.5 40h1.2M308.5 73.5h1.2M308.5 49h1.2M308.5 49.5h1.2M309 65.5h1.2M309 60h1.2M309 46h1.2M309 63.5h1.2M309 43.5h1.2M309 51h1.2M309 51.5h1.2M309 86.5h1.2M309 67h1.2M309.5 42.5h1.2M309.5 40.5h1.2M309.5 63h1.2M309.5 53h1.2M309.5 77h1.2M309.5 53.5h1.2M309.5 63h1.2M309.5 61.5h1.2M309.5 53.5h1.2M309.5 55.5h1.2M310 71h1.2M310 49.5h1.2M310 29.5h1.2M310 51h1.2M310 33h1.2M310 52h1.2M310 76.5h1.2M310 49.5h1.2M310 42h1.2M310 50.5h1.2M310 49.5h1.2M310 40.5h1.2M310 52.5h1.2M310 69h1.2M310.5 41h1.2M310.5 57.5h1.2M310.5 35.5h1.2M310.5 23.5h1.2M310.5 45h1.2M310.5 68.5h1.2M310.5 56.5h1.2M310.5 47.5h1.2M311 37h1.2M311 69.5h1.2M311 54h1.2M311 60h1.2M311 50h1.2M311 27.5h1.2M311 77h1.2M311 61h1.2M311 45h1.2M311 66h1.2M311 47.5h1.2M311 28h1.2M311 72h1.2M311.5 55.5h1.2M311.5 59.5h1.2M311.5 61.5h1.2M311.5 24h1.2M311.5 47.5h1.2M311.5 45.5h1.2M311.5 60.5h1.2M311.5 50h1.2M312 58h1.2M312 52.5h1.2M312 56h1.2M312 57h1.2M312.5 60.5h1.2M312.5 52h1.2M312.5 49h1.2M312.5 64.5h1.2M312.5 41h1.2M312.5 70.5h1.2M312.5 37h1.2M313 65h1.2M313 57.5h1.2M313 74h1.2M313 54h1.2M313 50h1.2M313 75.5h1.2M313 39h1.2M313 68h1.2M313.5 62.5h1.2M313.5 59h1.2M313.5 60h1.2M313.5 52h1.2M313.5 46h1.2M313.5 57h1.2M313.5 29h1.2M313.5 27.5h1.2M313.5 39h1.2M313.5 50.5h1.2M313.5 26h1.2M313.5 54h1.2M314 54h1.2M314 44h1.2M314 47h1.2M314 55h1.2M314 63.5h1.2M314 54h1.2M314 91h1.2M314 58h1.2M314 56.5h1.2M314 65.5h1.2M314 44.5h1.2M314.5 46h1.2M314.5 65.5h1.2M314.5 62.5h1.2M314.5 51.5h1.2M314.5 79.5h1.2M314.5 45.5h1.2M315 53.5h1.2M315 53.5h1.2M315 55h1.2M315 47.5h1.2M315 31h1.2M315 50h1.2M315 47h1.2M315 43.5h1.2M315 58.5h1.2M315.5 58.5h1.2M315.5 51h1.2M315.5 62h1.2M315.5 70.5h1.2M315.5 46h1.2M315.5 71h1.2M315.5 51h1.2M315.5 71h1.2M315.5 57.5h1.2M315.5 52.5h1.2M315.5 31.5h1.2M315.5 44.5h1.2M315.5 45.5h1.2M316 23.5h1.2M316 66.5h1.2M316 63h1.2M316 19h1.2M316 62.5h1.2M316 72h1.2M316 57h1.2M316 56.5h1.2M316 51h1.2M316 54h1.2M316 49h1.2M316 52h1.2M316.5 54h1.2M316.5 60h1.2M316.5 47.5h1.2M316.5 52.5h1.2M316.5 91h1.2M316.5 46h1.2M316.5 78.5h1.2M317 76h1.2M317 50h1.2M317 41.5h1.2M317 50h1.2M317 43.5h1.2M317 49.5h1.2M317 84h1.2M317 45.5h1.2M317 52h1.2M317.5 56.5h1.2M317.5 59h1.2M317.5 70.5h1.2M317.5 62h1.2M317.5 45.5h1.2M317.5 63.5h1.2M317.5 62.5h1.2M318 74h1.2M318 60.5h1.2M318 35h1.2M318 56.5h1.2M318 54h1.2M318 57.5h1.2M318 14.5h1.2M318 44.5h1.2M318 70.5h1.2M318 55h1.2M318.5 52.5h1.2M318.5 51h1.2M318.5 42.5h1.2M318.5 47.5h1.2M318.5 48h1.2M318.5 66.5h1.2M318.5 23h1.2M319 53.5h1.2M319 41h1.2M319 35h1.2M319 59h1.2M319 30.5h1.2M319 69.5h1.2M319 35.5h1.2M319.5 49h1.2M319.5 58h1.2M319.5 56h1.2M319.5 49.5h1.2M319.5 63h1.2M319.5 63h1.2M319.5 52.5h1.2M319.5 36h1.2M319.5 71.5h1.2M319.5 27h1.2M319.5 43h1.2M320 48h1.2M320 52.5h1.2M320 45h1.2M320 65.5h1.2M320.5 44.5h1.2M320.5 55.5h1.2M320.5 42h1.2M320.5 47.5h1.2M321 39.5h1.2M321 32.5h1.2M321 72.5h1.2M321 65.5h1.2M321 42h1.2M321 63.5h1.2M321 72h1.2M321 62.5h1.2M321 67.5h1.2M321 66.5h1.2M321 48.5h1.2M321 35.5h1.2M321.5 62.5h1.2M321.5 72.5h1.2M321.5 73h1.2M321.5 57.5h1.2M321.5 58h1.2M322 52.5h1.2M322 70.5h1.2M322 53h1.2M322 63h1.2M322 42h1.2M322 87.5h1.2M322 83.5h1.2M322 17.5h1.2M322 45.5h1.2M322 50h1.2M322 58.5h1.2M322 68.5h1.2M322 70.5h1.2M322 57.5h1.2M322 46h1.2M322.5 50.5h1.2M322.5 71.5h1.2M322.5 78h1.2M322.5 61.5h1.2M322.5 57.5h1.2M323 60.5h1.2M323 50h1.2M323 47h1.2M323 48h1.2M323 60.5h1.2M323 55.5h1.2M323 63.5h1.2M323 61.5h1.2M323.5 67h1.2M323.5 28.5h1.2M323.5 63.5h1.2M323.5 36h1.2M323.5 66.5h1.2M324 51.5h1.2M324 50.5h1.2M324 42h1.2M324 42.5h1.2M324 47.5h1.2M324 59h1.2M324 72h1.2M324 61.5h1.2M324 57.5h1.2M324 80h1.2M324 68h1.2M324 47.5h1.2M324 76h1.2M324.5 69h1.2M324.5 67h1.2M324.5 61h1.2M324.5 38h1.2M324.5 45.5h1.2M324.5 62.5h1.2M324.5 37.5h1.2M324.5 61h1.2M324.5 53.5h1.2M324.5 39h1.2M324.5 74h1.2M324.5 63.5h1.2M325 51.5h1.2M325 44.5h1.2M325 57h1.2M325 62h1.2M325 26.5h1.2M325 43.5h1.2M325 45.5h1.2M325 17.5h1.2M325 38h1.2M325 74h1.2M325 42.5h1.2M325.5 64h1.2M325.5 60.5h1.2M325.5 57h1.2M325.5 86.5h1.2M325.5 53h1.2M325.5 74.5h1.2M325.5 38.5h1.2M325.5 65.5h1.2M325.5 68h1.2M325.5 61.5h1.2M325.5 57.5h1.2M325.5 50.5h1.2M326 63.5h1.2M326 64.5h1.2M326.5 70h1.2M326.5 46.5h1.2M326.5 58.5h1.2M326.5 69h1.2M326.5 83.5h1.2M326.5 51.5h1.2M326.5 34h1.2M326.5 54.5h1.2M326.5 48h1.2M326.5 60h1.2M326.5 62.5h1.2M327 58.5h1.2M327 63h1.2M327 49.5h1.2M327 48.5h1.2M327 60.5h1.2M327 42h1.2M327 63h1.2M327 54.5h1.2M327 46.5h1.2M327 40.5h1.2M327 92.5h1.2M327 48h1.2M327.5 73.5h1.2M327.5 53h1.2M327.5 58h1.2M327.5 65.5h1.2M328 40.5h1.2M328 66h1.2M328 43.5h1.2M328 54h1.2M328 41h1.2M328.5 44h1.2M328.5 44.5h1.2M328.5 43h1.2M328.5 72.5h1.2M329 64h1.2M329 57h1.2M329 36h1.2M329 59h1.2M329 45.5h1.2M329 76h1.2M329 24.5h1.2M329.5 44.5h1.2M329.5 56.5h1.2M329.5 38.5h1.2M329.5 35h1.2M329.5 55h1.2M329.5 39.5h1.2M329.5 58.5h1.2M329.5 71.5h1.2M329.5 50.5h1.2M330 42h1.2M330 46h1.2M330 63.5h1.2M330 55.5h1.2M330 66.5h1.2M330 61.5h1.2M330 52h1.2M330 14.5h1.2M330 40h1.2M330.5 57.5h1.2M330.5 59h1.2M330.5 56.5h1.2M331 52h1.2M331 74h1.2M331 51.5h1.2M331 55.5h1.2M331 53h1.2M331 47h1.2M331 62h1.2M331 49.5h1.2M331 46.5h1.2M331 45.5h1.2M331 55.5h1.2M331.5 65.5h1.2M331.5 54h1.2M331.5 65h1.2M331.5 49h1.2M331.5 44h1.2M331.5 46h1.2M331.5 50h1.2M331.5 48h1.2M331.5 52.5h1.2M331.5 54.5h1.2M331.5 57.5h1.2M331.5 63h1.2M331.5 52.5h1.2M332 45.5h1.2M332 54.5h1.2M332 50.5h1.2M332 64h1.2M332 54.5h1.2M332 75.5h1.2M332 25.5h1.2M332 33.5h1.2M332 40.5h1.2M332 37.5h1.2M332.5 60.5h1.2M332.5 43.5h1.2M332.5 56h1.2M332.5 46.5h1.2M332.5 53h1.2M333 55.5h1.2M333 18h1.2M333 55h1.2M333 62.5h1.2M333 45h1.2M333 58.5h1.2M333 57h1.2M333 74.5h1.2M333 71.5h1.2M333.5 58.5h1.2M333.5 55h1.2M333.5 56.5h1.2M333.5 66h1.2M333.5 33h1.2M333.5 52.5h1.2M334 70h1.2M334 61h1.2M334 47.5h1.2M334 52h1.2M334 57h1.2M334 45h1.2M334 57.5h1.2M334 45.5h1.2M334.5 56.5h1.2M334.5 51h1.2M334.5 51.5h1.2M334.5 47.5h1.2M334.5 59h1.2M334.5 44.5h1.2M335 74.5h1.2M335 56.5h1.2M335 28.5h1.2M335 53h1.2M335 53h1.2M335 71h1.2M335 71h1.2M335 38.5h1.2M335.5 50h1.2M335.5 42h1.2M335.5 44h1.2M335.5 37.5h1.2M335.5 56h1.2M335.5 33h1.2M335.5 58.5h1.2M335.5 61h1.2M336 55h1.2M336 40h1.2M336 50.5h1.2M336 31.5h1.2M336 57h1.2M336 47.5h1.2M336 46.5h1.2M336.5 47h1.2M336.5 65h1.2M336.5 56.5h1.2M336.5 68h1.2M336.5 71.5h1.2M336.5 72.5h1.2M337 40.5h1.2M337 49h1.2M337 70h1.2M337 58h1.2M337 34.5h1.2M337 59h1.2M337 36.5h1.2M337.5 53h1.2M337.5 29h1.2M337.5 50.5h1.2M337.5 43h1.2M337.5 51.5h1.2M337.5 44h1.2M338 70.5h1.2M338 75h1.2M338 55h1.2M338 31.5h1.2M338 32h1.2M338 69h1.2M338 55h1.2M338 43h1.2M338 31.5h1.2M338.5 50h1.2M338.5 51h1.2M338.5 35.5h1.2M338.5 45.5h1.2M338.5 47h1.2M338.5 51.5h1.2M338.5 41h1.2M338.5 78h1.2M338.5 35.5h1.2M338.5 77h1.2M338.5 57h1.2M338.5 63.5h1.2M338.5 47h1.2M338.5 34h1.2M338.5 51h1.2M338.5 50.5h1.2M339 59.5h1.2M339 51.5h1.2M339 59h1.2M339 15h1.2M339 65h1.2M339 20h1.2M339 63h1.2M339 69h1.2M339 42h1.2M339.5 52h1.2M339.5 67h1.2M339.5 73h1.2M339.5 55h1.2M339.5 49.5h1.2M339.5 61.5h1.2M340 48h1.2M340 77.5h1.2M340 52h1.2M340 65h1.2M340 73.5h1.2M340 36.5h1.2M340 60h1.2M340 64.5h1.2M340.5 52h1.2M340.5 69.5h1.2M340.5 47h1.2M340.5 59h1.2M340.5 70h1.2M340.5 65h1.2M340.5 68h1.2M340.5 63.5h1.2M340.5 32.5h1.2M340.5 34.5h1.2M341 51.5h1.2M341 47h1.2M341 66.5h1.2M341 56h1.2M341 72h1.2M341 69.5h1.2" stroke="#2a2a2a" stroke-width="1.2" transform="translate(-0.6 0)" stroke-opacity="0.85"/>
<path d="M39 54.7 L184.8 54.7 L185 54.8 L185.2 55.4 L185.4 56.3 L185.5 57.5 L185.7 58.9 L185.9 60.4 L186.1 62 L186.2 63.7 L186.4 65.4 L186.6 66.9 L186.8 68.4 L186.9 69.7 L187.1 70.5 L187.3 71.1 L187.5 71.5 L187.6 71.9 L187.8 72.3 L188 72.6 L188.1 72.9 L188.3 73.1 L188.5 73.3 L188.7 73.5 L188.8 73.7 L189 73.8 L189.2 73.9 L189.4 74 L189.5 74.1 L189.7 74.1 L189.9 74.1 L190.1 74.2 L190.2 74.1 L190.4 74.1 L190.6 74.1 L190.8 74 L190.9 73.9 L191.1 73.8 L191.3 73.7 L191.4 73.5 L191.6 73.3 L191.8 73.1 L192 72.9 L192.1 72.6 L192.3 72.3 L192.5 71.9 L192.7 71.5 L192.8 71.1 L193 70.5 L193.2 69.7 L193.4 68.4 L193.5 66.9 L193.7 65.4 L193.9 63.7 L194.1 62 L194.2 60.4 L194.4 58.9 L194.6 57.5 L194.7 56.3 L194.9 55.4 L195.1 54.8 L195.3 54.7 L341.3 54.7" fill="none" stroke="#f01010" stroke-width="1.3"/>
<rect x="39" y="14.3" width="302.3" height="80.7" fill="none" stroke="#555" stroke-width="1"/>
<path d="M69.2 95v-3.5M69.2 14.3v3.5M129.7 95v-3.5M129.7 14.3v3.5M190.2 95v-3.5M190.2 14.3v3.5M250.6 95v-3.5M250.6 14.3v3.5M311.1 95v-3.5M311.1 14.3v3.5M39 14.3h3.5M341.3 14.3h-3.5M39 27.8h3.5M341.3 27.8h-3.5M39 41.2h3.5M341.3 41.2h-3.5M39 54.7h3.5M341.3 54.7h-3.5M39 68.1h3.5M341.3 68.1h-3.5M39 81.5h3.5M341.3 81.5h-3.5M39 95h3.5M341.3 95h-3.5" stroke="#555" stroke-width="0.8" fill="none"/>
<text x="34.6" y="17" font-size="7.6" text-anchor="end" textLength="15.59" lengthAdjust="spacingAndGlyphs" stroke="#000" stroke-width="0.2">-0.03</text>
<text x="34.6" y="30.4" font-size="7.6" text-anchor="end" textLength="15.59" lengthAdjust="spacingAndGlyphs" stroke="#000" stroke-width="0.2">-0.02</text>
<text x="34.6" y="43.9" font-size="7.6" text-anchor="end" textLength="15.59" lengthAdjust="spacingAndGlyphs" stroke="#000" stroke-width="0.2">-0.01</text>
<text x="34.6" y="57.4" font-size="7.6" text-anchor="end" textLength="3.8" lengthAdjust="spacingAndGlyphs" stroke="#000" stroke-width="0.2">0</text>
<text x="34.6" y="70.8" font-size="7.6" text-anchor="end" textLength="13.31" lengthAdjust="spacingAndGlyphs" stroke="#000" stroke-width="0.2">0.01</text>
<text x="34.6" y="84.2" font-size="7.6" text-anchor="end" textLength="13.31" lengthAdjust="spacingAndGlyphs" stroke="#000" stroke-width="0.2">0.02</text>
<text x="34.6" y="97.7" font-size="7.6" text-anchor="end" textLength="13.31" lengthAdjust="spacingAndGlyphs" stroke="#000" stroke-width="0.2">0.03</text>
<text x="69.2" y="105.2" font-size="7.6" text-anchor="middle" textLength="11.79" lengthAdjust="spacingAndGlyphs" stroke="#000" stroke-width="0.2">-0.4</text>
<text x="129.7" y="105.2" font-size="7.6" text-anchor="middle" textLength="11.79" lengthAdjust="spacingAndGlyphs" stroke="#000" stroke-width="0.2">-0.2</text>
<text x="190.2" y="105.2" font-size="7.6" text-anchor="middle" textLength="3.8" lengthAdjust="spacingAndGlyphs" stroke="#000" stroke-width="0.2">0</text>
<text x="250.6" y="105.2" font-size="7.6" text-anchor="middle" textLength="9.51" lengthAdjust="spacingAndGlyphs" stroke="#000" stroke-width="0.2">0.2</text>
<text x="311.1" y="105.2" font-size="7.6" text-anchor="middle" textLength="9.51" lengthAdjust="spacingAndGlyphs" stroke="#000" stroke-width="0.2">0.4</text>
<text x="190.2" y="115.6" font-size="10.2" text-anchor="middle" textLength="57.7" lengthAdjust="spacingAndGlyphs" stroke="#000" stroke-width="0.2">Orbital phase</text>
<text x="11.3" y="54.6" font-size="10" text-anchor="middle" textLength="26.5" lengthAdjust="spacingAndGlyphs" transform="rotate(-90 11.3 54.6)" stroke="#000" stroke-width="0.2">&#916; mag</text>
<path d="M39.5 173h1.6M40 195h1.6M41.5 167h1.6M41.5 180.5h1.6M42.5 166.5h1.6M42.5 179h1.6M42.5 204h1.6M43 198h1.6M43 165.5h1.6M43.5 155h1.6M44 165h1.6M45.5 189h1.6M46 162.5h1.6M46 143h1.6M46 128h1.6M46.5 195h1.6M46.5 159.5h1.6M46.5 168h1.6M47.5 169.5h1.6M48.5 185.5h1.6M48.5 176h1.6M49.5 149h1.6M49.5 167.5h1.6M50 161.5h1.6M50 206.5h1.6M50 150h1.6M50.5 179h1.6M51 210h1.6M51 188.5h1.6M52.5 174.5h1.6M53 172h1.6M53.5 162.5h1.6M53.5 171h1.6M53.5 160h1.6M53.5 150h1.6M54.5 146.5h1.6M55 187h1.6M56 152.5h1.6M56.5 170.5h1.6M56.5 168.5h1.6M57 153.5h1.6M58 157h1.6M58 170h1.6M59 195.5h1.6M60 178h1.6M60.5 142h1.6M61.5 184h1.6M62 164h1.6M62 147.5h1.6M63 145h1.6M63 161.5h1.6M64.5 166h1.6M64.5 179h1.6M65.5 169.5h1.6M66 174h1.6M66.5 183h1.6M67 165.5h1.6M68 182.5h1.6M68 174h1.6M68.5 125h1.6M69 168h1.6M69.5 166.5h1.6M69.5 177.5h1.6M70 187.5h1.6M70.5 179.5h1.6M71 145h1.6M71 176.5h1.6M71.5 193h1.6M71.5 196.5h1.6M72.5 198h1.6M72.5 174h1.6M73.5 181.5h1.6M73.5 177.5h1.6M75 179h1.6M75 170h1.6M75 179.5h1.6M75.5 173.5h1.6M75.5 178h1.6M75.5 153h1.6M76 172.5h1.6M76 188.5h1.6M78.5 195.5h1.6M78.5 173h1.6M79 174h1.6M79.5 183h1.6M79.5 157h1.6M80.5 188.5h1.6M81 139.5h1.6M81 176.5h1.6M81.5 146.5h1.6M82 159.5h1.6M82.5 185.5h1.6M83 178h1.6M83.5 180.5h1.6M84 180.5h1.6M85 191.5h1.6M85.5 175.5h1.6M86 156h1.6M86.5 187.5h1.6M86.5 152h1.6M87.5 177h1.6M89 165h1.6M89.5 165.5h1.6M90.5 201.5h1.6M91 168.5h1.6M91 160.5h1.6M91 169h1.6M92.5 166h1.6M94.5 158h1.6M94.5 178.5h1.6M95.5 188.5h1.6M96 161.5h1.6M96 154.5h1.6M96 185.5h1.6M98 184h1.6M98 167h1.6M98.5 180.5h1.6M98.5 177.5h1.6M99.5 183h1.6M100 190.5h1.6M100 178h1.6M100 179.5h1.6M100 171.5h1.6M100.5 170h1.6M100.5 176.5h1.6M100.5 170.5h1.6M101 181.5h1.6M102 193h1.6M102.5 187.5h1.6M103 151.5h1.6M104 163h1.6M104 183.5h1.6M104.5 175h1.6M105.5 155.5h1.6M107 178h1.6M107.5 154.5h1.6M107.5 172h1.6M109 172h1.6M109 170h1.6M109 187.5h1.6M110 166h1.6M110.5 156.5h1.6M110.5 165h1.6M110.5 160h1.6M111 187.5h1.6M111.5 168h1.6M111.5 148.5h1.6M112 144.5h1.6M112.5 148h1.6M112.5 187h1.6M113.5 170h1.6M113.5 171.5h1.6M115 167h1.6M116 167h1.6M116 136.5h1.6M117 164h1.6M117 183.5h1.6M117 149.5h1.6M118 192h1.6M119 169.5h1.6M119 141h1.6M119 176h1.6M119.5 190h1.6M121 158.5h1.6M121.5 182h1.6M121.5 175h1.6M122 206.5h1.6M122.5 169h1.6M122.5 146.5h1.6M123.5 145.5h1.6M123.5 175h1.6M124.5 170.5h1.6M124.5 154.5h1.6M125 163.5h1.6M125.5 176.5h1.6M126 163.5h1.6M126 180.5h1.6M126.5 141h1.6M127 138h1.6M127 176h1.6M127 168.5h1.6M127.5 163.5h1.6M128 191h1.6M128.5 184h1.6M128.5 198h1.6M129 201.5h1.6M129.5 154.5h1.6M129.5 162h1.6M131.5 193h1.6M132.5 177.5h1.6M132.5 159h1.6M133 165h1.6M134 187h1.6M134.5 177h1.6M135 148.5h1.6M135.5 146.5h1.6M135.5 189.5h1.6M136.5 143.5h1.6M137 175h1.6M137.5 163h1.6M138.5 172.5h1.6M138.5 156h1.6M138.5 182.5h1.6M138.5 185.5h1.6M139.5 172h1.6M140 165h1.6M140 170h1.6M140 174.5h1.6M140.5 185h1.6M141 157.5h1.6M141.5 181.5h1.6M141.5 190h1.6M142.5 155h1.6M143 156.5h1.6M143 179.5h1.6M143 166.5h1.6M144 178.5h1.6M144 205h1.6M145 174.5h1.6M145.5 167h1.6M146.5 161h1.6M147.5 181.5h1.6M148 173.5h1.6M148 164h1.6M149.5 169.5h1.6M150 157.5h1.6M150 151h1.6M150.5 147.5h1.6M151 172.5h1.6M151 171.5h1.6M151 179.5h1.6M151.5 179h1.6M151.5 164.5h1.6M152.5 169h1.6M153 176.5h1.6M155 189h1.6M155 205.5h1.6M155.5 177.5h1.6M155.5 195h1.6M156 175.5h1.6M157 183.5h1.6M158 153.5h1.6M158.5 175h1.6M158.5 178.5h1.6M158.5 151.5h1.6M160 191h1.6M160 170h1.6M160.5 159.5h1.6M161 140.5h1.6M161.5 189.5h1.6M161.5 179.5h1.6M163 184h1.6M163.5 176.5h1.6M164 165h1.6M165.5 170h1.6M165.5 159.5h1.6M166.5 188.5h1.6M168.5 197h1.6M168.5 180.5h1.6M169 199.5h1.6M171.5 184.5h1.6M172 178h1.6M172.5 187.5h1.6M174 188.5h1.6M174 197h1.6M174 176h1.6M174.5 198h1.6M174.5 179.5h1.6M175 179h1.6M175.5 190.5h1.6M175.5 214h1.6M176 174h1.6M176.5 176.5h1.6M178 206.5h1.6M178.5 199h1.6M179 185h1.6M180 167.5h1.6M182 197h1.6M182 205h1.6M182 180.5h1.6M182 194h1.6M184 184h1.6M185.5 199.5h1.6M185.5 185h1.6M186.5 218.5h1.6M187 162h1.6M187 195h1.6M187.5 165h1.6M188 176h1.6M188.5 195h1.6M190 185h1.6M190 185.5h1.6M190.5 215h1.6M190.5 179h1.6M191 215h1.6M191.5 193.5h1.6M193 185.5h1.6M194.5 182h1.6M195.5 182h1.6M195.5 190h1.6M196 208h1.6M196.5 180.5h1.6M196.5 198.5h1.6M197 210.5h1.6M199 204.5h1.6M201.5 175h1.6M201.5 193h1.6M202 169h1.6M202.5 176h1.6M203 195h1.6M203.5 178h1.6M203.5 188.5h1.6M203.5 200h1.6M203.5 193.5h1.6M205 181.5h1.6M205 188h1.6M205 204h1.6M206.5 205.5h1.6M207 174h1.6M208.5 204.5h1.6M209.5 184h1.6M209.5 182h1.6M209.5 191h1.6M210 197.5h1.6M210.5 146.5h1.6M211 169h1.6M212 178.5h1.6M212 182h1.6M212.5 181h1.6M212.5 172.5h1.6M213.5 180.5h1.6M214.5 165h1.6M215.5 167.5h1.6M216.5 165h1.6M217 172.5h1.6M217.5 162.5h1.6M218 188.5h1.6M218 180h1.6M218.5 151.5h1.6M218.5 172h1.6M219 166h1.6M219 171h1.6M219.5 152h1.6M220.5 167h1.6M222 169.5h1.6M222 173.5h1.6M222 172h1.6M222.5 155h1.6M223.5 162.5h1.6M224.5 179h1.6M224.5 178h1.6M225.5 170h1.6M226 170h1.6M228 171h1.6M228 157.5h1.6M229.5 141h1.6M230 183h1.6M230 187.5h1.6M230.5 203.5h1.6M230.5 151h1.6M231 168.5h1.6M231 185h1.6M231.5 156h1.6M232 175.5h1.6M232 157h1.6M233 160h1.6M234.5 171h1.6M234.5 184h1.6M236.5 184.5h1.6M237 184.5h1.6M237.5 194h1.6M237.5 182h1.6M237.5 189h1.6M238 167.5h1.6M238 189.5h1.6M239.5 161.5h1.6M240 171h1.6M240 162.5h1.6M240 169h1.6M240.5 164.5h1.6M240.5 211.5h1.6M241 178h1.6M243 193.5h1.6M243.5 148.5h1.6M243.5 144h1.6M244 172.5h1.6M244.5 192.5h1.6M245 178.5h1.6M245.5 154h1.6M245.5 165.5h1.6M245.5 182h1.6M246 183.5h1.6M247 135h1.6M248 186h1.6M249 165.5h1.6M249 158h1.6M249.5 170.5h1.6M250 187h1.6M250 187.5h1.6M250 156.5h1.6M250 160h1.6M250.5 191h1.6M252.5 169h1.6M253.5 164h1.6M254.5 161h1.6M256.5 159.5h1.6M256.5 175h1.6M256.5 153h1.6M257 191h1.6M257.5 161.5h1.6M258 184h1.6M259.5 201h1.6M261 164h1.6M261.5 154h1.6M262 168h1.6M262.5 134.5h1.6M262.5 142.5h1.6M262.5 186h1.6M264 171.5h1.6M265.5 181.5h1.6M265.5 185h1.6M266 182.5h1.6M266 183.5h1.6M266 145.5h1.6M266.5 175.5h1.6M266.5 177.5h1.6M267.5 190.5h1.6M267.5 171.5h1.6M268.5 153.5h1.6M269 175h1.6M269.5 176.5h1.6M270 171.5h1.6M270 186h1.6M270 170.5h1.6M271 179.5h1.6M271 191h1.6M271.5 187h1.6M273 194h1.6M273 170h1.6M273 189h1.6M273.5 186.5h1.6M274 151h1.6M276.5 183.5h1.6M276.5 153h1.6M277 180.5h1.6M279.5 173h1.6M279.5 191.5h1.6M279.5 159h1.6M280 172h1.6M284 168h1.6M285.5 169h1.6M286 162.5h1.6M286 189.5h1.6M286.5 145.5h1.6M287 165.5h1.6M287 178h1.6M287.5 167h1.6M287.5 184h1.6M288.5 168h1.6M290 215.5h1.6M290.5 164.5h1.6M291 173h1.6M291.5 174.5h1.6M291.5 181.5h1.6M292 181h1.6M292.5 162.5h1.6M294 169h1.6M294.5 181.5h1.6M295 194.5h1.6M295 186.5h1.6M295.5 175h1.6M295.5 197.5h1.6M295.5 170h1.6M296 166.5h1.6M296 177.5h1.6M296 163.5h1.6M296.5 177.5h1.6M296.5 184.5h1.6M298.5 153h1.6M298.5 168h1.6M299 198.5h1.6M299.5 180h1.6M301 179.5h1.6M301 163.5h1.6M301.5 153h1.6M302.5 159h1.6M302.5 176h1.6M303.5 184h1.6M303.5 176.5h1.6M303.5 175.5h1.6M304 176.5h1.6M304 181.5h1.6M305 182.5h1.6M305.5 174.5h1.6M305.5 162h1.6M305.5 165h1.6M308 185.5h1.6M308.5 179h1.6M309 143.5h1.6M309.5 189h1.6M310 200.5h1.6M310.5 145h1.6M311 159h1.6M312 154.5h1.6M312 180.5h1.6M313 170h1.6M314 166.5h1.6M314 174h1.6M314 183.5h1.6M314.5 164h1.6M315.5 199h1.6M316 179.5h1.6M316.5 196.5h1.6M316.5 168h1.6M316.5 191.5h1.6M317.5 200h1.6M318 166.5h1.6M319 153h1.6M319.5 162.5h1.6M320.5 191h1.6M320.5 167.5h1.6M321.5 129h1.6M322 182h1.6M324.5 182.5h1.6M325 158h1.6M326 182h1.6M326 177.5h1.6M326.5 188.5h1.6M327 197h1.6M327.5 174h1.6M328 171h1.6M329.5 169h1.6M329.5 182h1.6M330 180.5h1.6M330 160h1.6M333 205.5h1.6M333.5 203h1.6M333.5 154h1.6M333.5 173.5h1.6M333.5 180.5h1.6M334.5 163.5h1.6M334.5 192.5h1.6M335.5 164h1.6M335.5 159h1.6M335.5 178h1.6M336 187h1.6M336 172h1.6M337 165h1.6M338.5 162h1.6M338.5 161h1.6M339.5 160h1.6M341.5 169.5h1.6" stroke="#444" stroke-width="1.6" transform="translate(-0.8 0)" stroke-opacity="0.85"/>
<path d="M40.5 172.7v6.8M39.2 172.7h2.6M39.2 179.5h2.6M43.5 175.4v6.8M42.2 175.4h2.6M42.2 182.2h2.6M46.6 167.8v6.8M45.3 167.8h2.6M45.3 174.6h2.6M49.4 171v6.8M48.1 171h2.6M48.1 177.8h2.6M52.3 169.9v6.8M51 169.9h2.6M51 176.7h2.6M55.4 170.8v6.8M54.1 170.8h2.6M54.1 177.6h2.6M58.6 168.7v6.8M57.3 168.7h2.6M57.3 175.5h2.6M61.7 168.7v6.8M60.4 168.7h2.6M60.4 175.5h2.6M64.6 163.9v6.8M63.3 163.9h2.6M63.3 170.7h2.6M67.7 163.9v6.8M66.4 163.9h2.6M66.4 170.7h2.6M70.8 176.5v6.8M69.5 176.5h2.6M69.5 183.3h2.6M73.8 163.6v6.8M72.5 163.6h2.6M72.5 170.4h2.6M76.9 176.2v6.8M75.6 176.2h2.6M75.6 183h2.6M79.9 163.6v6.8M78.6 163.6h2.6M78.6 170.4h2.6M82.9 172.7v6.8M81.6 172.7h2.6M81.6 179.5h2.6M86 173.3v6.8M84.7 173.3h2.6M84.7 180.1h2.6M89.1 166.2v6.8M87.8 166.2h2.6M87.8 173h2.6M92.1 163.9v6.8M90.8 163.9h2.6M90.8 170.7h2.6M94.9 169v6.8M93.6 169h2.6M93.6 175.8h2.6M98 172.2v6.8M96.7 172.2h2.6M96.7 179h2.6M100.9 175.4v6.8M99.6 175.4h2.6M99.6 182.2h2.6M103.9 165.9v6.8M102.6 165.9h2.6M102.6 172.7h2.6M106.9 164.7v6.8M105.6 164.7h2.6M105.6 171.5h2.6M110 167.6v6.8M108.7 167.6h2.6M108.7 174.4h2.6M113.1 172.2v6.8M111.8 172.2h2.6M111.8 179h2.6M116.1 175v6.8M114.8 175h2.6M114.8 181.8h2.6M119.3 169.9v6.8M118 169.9h2.6M118 176.7h2.6M122.2 172.2v6.8M120.9 172.2h2.6M120.9 179h2.6M125.3 162.5v6.8M124 162.5h2.6M124 169.3h2.6M128.4 166.7v6.8M127.1 166.7h2.6M127.1 173.5h2.6M131.6 169.9v6.8M130.3 169.9h2.6M130.3 176.7h2.6M134.4 165.9v6.8M133.1 165.9h2.6M133.1 172.7h2.6M137.5 160.7v6.8M136.2 160.7h2.6M136.2 167.5h2.6M140.4 166.2v6.8M139.1 166.2h2.6M139.1 173h2.6M143.3 167v6.8M142 167h2.6M142 173.8h2.6M146.4 159.4v6.8M145.1 159.4h2.6M145.1 166.2h2.6M149.3 162.7v6.8M148 162.7h2.6M148 169.5h2.6M152.5 173.9v6.8M151.2 173.9h2.6M151.2 180.7h2.6M155.3 163v6.8M154 163h2.6M154 169.8h2.6M158.4 159.6v6.8M157.1 159.6h2.6M157.1 166.4h2.6M161.5 176.2v6.8M160.2 176.2h2.6M160.2 183h2.6M164.5 163.6v6.8M163.2 163.6h2.6M163.2 170.4h2.6M167.4 174.1v6.8M166.1 174.1h2.6M166.1 180.9h2.6M170.6 177.3v6.8M169.3 177.3h2.6M169.3 184.1h2.6M173.6 195.3v6.8M172.3 195.3h2.6M172.3 202.1h2.6M176.6 188.7v6.8M175.3 188.7h2.6M175.3 195.5h2.6M179.6 186.7v6.8M178.3 186.7h2.6M178.3 193.5h2.6M182.6 192.7v6.8M181.3 192.7h2.6M181.3 199.5h2.6M185.6 180.7v6.8M184.3 180.7h2.6M184.3 187.5h2.6M188.6 198.7v6.8M187.3 198.7h2.6M187.3 205.5h2.6M191.7 190.6v6.8M190.4 190.6h2.6M190.4 197.4h2.6M194.6 196.2v6.8M193.3 196.2h2.6M193.3 203h2.6M197.6 185.9v6.8M196.3 185.9h2.6M196.3 192.7h2.6M200.8 197v6.8M199.5 197h2.6M199.5 203.8h2.6M203.8 191.9v6.8M202.5 191.9h2.6M202.5 198.7h2.6M206.6 182.9v6.8M205.3 182.9h2.6M205.3 189.7h2.6M210 181.6v6.8M208.7 181.6h2.6M208.7 188.4h2.6M213 177.7v6.8M211.7 177.7h2.6M211.7 184.5h2.6M216.1 166v6.8M214.8 166h2.6M214.8 172.8h2.6M219 158v6.8M217.7 158h2.6M217.7 164.8h2.6M222.1 170v6.8M220.8 170h2.6M220.8 176.8h2.6M225.1 164v6.8M223.8 164h2.6M223.8 170.8h2.6M228.1 172v6.8M226.8 172h2.6M226.8 178.8h2.6M231.2 164.9v6.8M229.9 164.9h2.6M229.9 171.7h2.6M234.2 166.9v6.8M232.9 166.9h2.6M232.9 173.7h2.6M237.3 171.2v6.8M236 171.2h2.6M236 178h2.6M240.4 172.3v6.8M239.1 172.3h2.6M239.1 179.1h2.6M243.3 172.7v6.8M242 172.7h2.6M242 179.5h2.6M246.2 167.5v6.8M244.9 167.5h2.6M244.9 174.3h2.6M249.3 170v6.8M248 170h2.6M248 176.8h2.6M252.1 174.9v6.8M250.8 174.9h2.6M250.8 181.7h2.6M255.2 161.7v6.8M253.9 161.7h2.6M253.9 168.5h2.6M258.2 170.8v6.8M256.9 170.8h2.6M256.9 177.6h2.6M261.3 170.8v6.8M260 170.8h2.6M260 177.6h2.6M264.4 174v6.8M263.1 174h2.6M263.1 180.8h2.6M267.3 169.2v6.8M266 169.2h2.6M266 176h2.6M270.4 163.5v6.8M269.1 163.5h2.6M269.1 170.3h2.6M273.3 162.3v6.8M272 162.3h2.6M272 169.1h2.6M276.5 180.7v6.8M275.2 180.7h2.6M275.2 187.5h2.6M279.6 163.7v6.8M278.3 163.7h2.6M278.3 170.5h2.6M282.4 172v6.8M281.1 172h2.6M281.1 178.8h2.6M285.5 160.9v6.8M284.2 160.9h2.6M284.2 167.7h2.6M288.5 160.1v6.8M287.2 160.1h2.6M287.2 166.9h2.6M291.6 169.5v6.8M290.3 169.5h2.6M290.3 176.3h2.6M294.4 162v6.8M293.1 162h2.6M293.1 168.8h2.6M297.5 164.1v6.8M296.2 164.1h2.6M296.2 170.9h2.6M300.5 164.9v6.8M299.2 164.9h2.6M299.2 171.7h2.6M303.5 170.8v6.8M302.2 170.8h2.6M302.2 177.6h2.6M306.5 164.4v6.8M305.2 164.4h2.6M305.2 171.2h2.6M309.5 161.6v6.8M308.2 161.6h2.6M308.2 168.4h2.6M312.5 176.8v6.8M311.2 176.8h2.6M311.2 183.6h2.6M315.5 164.6v6.8M314.2 164.6h2.6M314.2 171.4h2.6M318.5 169.1v6.8M317.2 169.1h2.6M317.2 175.9h2.6M321.5 172.1v6.8M320.2 172.1h2.6M320.2 178.9h2.6M324.5 172.6v6.8M323.2 172.6h2.6M323.2 179.4h2.6M327.8 175.1v6.8M326.5 175.1h2.6M326.5 181.9h2.6M330.8 165.1v6.8M329.5 165.1h2.6M329.5 171.9h2.6M334 170.4v6.8M332.7 170.4h2.6M332.7 177.2h2.6M336.8 170.8v6.8M335.5 170.8h2.6M335.5 177.6h2.6M340 165.8v6.8M338.7 165.8h2.6M338.7 172.6h2.6" stroke="#8a8aff" stroke-width="0.7" fill="none"/>
<path d="M39 171.8 L163.6 171.8 L164.3 171.8 L164.9 172.2 L165.6 172.8 L166.2 173.7 L166.9 174.7 L167.5 175.8 L168.2 177.1 L168.9 178.4 L169.5 179.7 L170.2 181.2 L170.8 182.6 L171.5 184 L172.1 185.4 L172.8 186.7 L173.4 187.9 L174.1 188.9 L174.7 189.7 L175.4 190.2 L176 190.7 L176.7 191.1 L177.3 191.5 L178 191.8 L178.6 192.1 L179.3 192.3 L179.9 192.6 L180.6 192.8 L181.2 193 L181.9 193.2 L182.5 193.3 L183.2 193.5 L183.8 193.6 L184.5 193.7 L185.1 193.8 L185.8 193.9 L186.4 194 L187.1 194 L187.7 194 L188.4 194.1 L189 194.1 L189.7 194.1 L190.3 194.1 L191 194.1 L191.7 194 L192.3 194 L193 194 L193.6 193.9 L194.3 193.8 L194.9 193.7 L195.6 193.6 L196.2 193.5 L196.9 193.3 L197.5 193.2 L198.2 193 L198.8 192.8 L199.5 192.6 L200.1 192.3 L200.8 192.1 L201.4 191.8 L202.1 191.5 L202.7 191.1 L203.4 190.7 L204 190.2 L204.7 189.7 L205.3 188.9 L206 187.9 L206.6 186.7 L207.3 185.4 L207.9 184 L208.6 182.6 L209.2 181.2 L209.9 179.7 L210.5 178.4 L211.2 177.1 L211.8 175.8 L212.5 174.7 L213.1 173.7 L213.8 172.8 L214.4 172.2 L215.1 171.8 L215.8 171.8 L341.3 171.8" fill="none" stroke="#ff3535" stroke-width="1.8" stroke-opacity="0.9"/>
<g fill="#1010f0"><circle cx="40.5" cy="176.1" r="2.2"/><circle cx="43.5" cy="178.8" r="2.2"/><circle cx="46.6" cy="171.2" r="2.2"/><circle cx="49.4" cy="174.4" r="2.2"/><circle cx="52.3" cy="173.3" r="2.2"/><circle cx="55.4" cy="174.2" r="2.2"/><circle cx="58.6" cy="172.1" r="2.2"/><circle cx="61.7" cy="172.1" r="2.2"/><circle cx="64.6" cy="167.3" r="2.2"/><circle cx="67.7" cy="167.3" r="2.2"/><circle cx="70.8" cy="179.9" r="2.2"/><circle cx="73.8" cy="167" r="2.2"/><circle cx="76.9" cy="179.6" r="2.2"/><circle cx="79.9" cy="167" r="2.2"/><circle cx="82.9" cy="176.1" r="2.2"/><circle cx="86" cy="176.7" r="2.2"/><circle cx="89.1" cy="169.6" r="2.2"/><circle cx="92.1" cy="167.3" r="2.2"/><circle cx="94.9" cy="172.4" r="2.2"/><circle cx="98" cy="175.6" r="2.2"/><circle cx="100.9" cy="178.8" r="2.2"/><circle cx="103.9" cy="169.3" r="2.2"/><circle cx="106.9" cy="168.1" r="2.2"/><circle cx="110" cy="171" r="2.2"/><circle cx="113.1" cy="175.6" r="2.2"/><circle cx="116.1" cy="178.4" r="2.2"/><circle cx="119.3" cy="173.3" r="2.2"/><circle cx="122.2" cy="175.6" r="2.2"/><circle cx="125.3" cy="165.9" r="2.2"/><circle cx="128.4" cy="170.1" r="2.2"/><circle cx="131.6" cy="173.3" r="2.2"/><circle cx="134.4" cy="169.3" r="2.2"/><circle cx="137.5" cy="164.1" r="2.2"/><circle cx="140.4" cy="169.6" r="2.2"/><circle cx="143.3" cy="170.4" r="2.2"/><circle cx="146.4" cy="162.8" r="2.2"/><circle cx="149.3" cy="166.1" r="2.2"/><circle cx="152.5" cy="177.3" r="2.2"/><circle cx="155.3" cy="166.4" r="2.2"/><circle cx="158.4" cy="163" r="2.2"/><circle cx="161.5" cy="179.6" r="2.2"/><circle cx="164.5" cy="167" r="2.2"/><circle cx="167.4" cy="177.5" r="2.2"/><circle cx="170.6" cy="180.7" r="2.2"/><circle cx="173.6" cy="198.7" r="2.2"/><circle cx="176.6" cy="192.1" r="2.2"/><circle cx="179.6" cy="190.1" r="2.2"/><circle cx="182.6" cy="196.1" r="2.2"/><circle cx="185.6" cy="184.1" r="2.2"/><circle cx="188.6" cy="202.1" r="2.2"/><circle cx="191.7" cy="194" r="2.2"/><circle cx="194.6" cy="199.6" r="2.2"/><circle cx="197.6" cy="189.3" r="2.2"/><circle cx="200.8" cy="200.4" r="2.2"/><circle cx="203.8" cy="195.3" r="2.2"/><circle cx="206.6" cy="186.3" r="2.2"/><circle cx="210" cy="185" r="2.2"/><circle cx="213" cy="181.1" r="2.2"/><circle cx="216.1" cy="169.4" r="2.2"/><circle cx="219" cy="161.4" r="2.2"/><circle cx="222.1" cy="173.4" r="2.2"/><circle cx="225.1" cy="167.4" r="2.2"/><circle cx="228.1" cy="175.4" r="2.2"/><circle cx="231.2" cy="168.3" r="2.2"/><circle cx="234.2" cy="170.3" r="2.2"/><circle cx="237.3" cy="174.6" r="2.2"/><circle cx="240.4" cy="175.7" r="2.2"/><circle cx="243.3" cy="176.1" r="2.2"/><circle cx="246.2" cy="170.9" r="2.2"/><circle cx="249.3" cy="173.4" r="2.2"/><circle cx="252.1" cy="178.3" r="2.2"/><circle cx="255.2" cy="165.1" r="2.2"/><circle cx="258.2" cy="174.2" r="2.2"/><circle cx="261.3" cy="174.2" r="2.2"/><circle cx="264.4" cy="177.4" r="2.2"/><circle cx="267.3" cy="172.6" r="2.2"/><circle cx="270.4" cy="166.9" r="2.2"/><circle cx="273.3" cy="165.7" r="2.2"/><circle cx="276.5" cy="184.1" r="2.2"/><circle cx="279.6" cy="167.1" r="2.2"/><circle cx="282.4" cy="175.4" r="2.2"/><circle cx="285.5" cy="164.3" r="2.2"/><circle cx="288.5" cy="163.5" r="2.2"/><circle cx="291.6" cy="172.9" r="2.2"/><circle cx="294.4" cy="165.4" r="2.2"/><circle cx="297.5" cy="167.5" r="2.2"/><circle cx="300.5" cy="168.3" r="2.2"/><circle cx="303.5" cy="174.2" r="2.2"/><circle cx="306.5" cy="167.8" r="2.2"/><circle cx="309.5" cy="165" r="2.2"/><circle cx="312.5" cy="180.2" r="2.2"/><circle cx="315.5" cy="168" r="2.2"/><circle cx="318.5" cy="172.5" r="2.2"/><circle cx="321.5" cy="175.5" r="2.2"/><circle cx="324.5" cy="176" r="2.2"/><circle cx="327.8" cy="178.5" r="2.2"/><circle cx="330.8" cy="168.5" r="2.2"/><circle cx="334" cy="173.8" r="2.2"/><circle cx="336.8" cy="174.2" r="2.2"/><circle cx="340" cy="169.2" r="2.2"/></g>
<rect x="39" y="125.5" width="302.3" height="92.5" fill="none" stroke="#555" stroke-width="1"/>
<path d="M39 218v-3.5M39 125.5v3.5M114.6 218v-3.5M114.6 125.5v3.5M190.2 218v-3.5M190.2 125.5v3.5M265.7 218v-3.5M265.7 125.5v3.5M341.3 218v-3.5M341.3 125.5v3.5M39 125.5h3.5M341.3 125.5h-3.5M39 140.9h3.5M341.3 140.9h-3.5M39 156.3h3.5M341.3 156.3h-3.5M39 171.8h3.5M341.3 171.8h-3.5M39 187.2h3.5M341.3 187.2h-3.5M39 202.6h3.5M341.3 202.6h-3.5M39 218h3.5M341.3 218h-3.5" stroke="#555" stroke-width="0.8" fill="none"/>
<text x="34.6" y="128.2" font-size="7.6" text-anchor="end" textLength="15.59" lengthAdjust="spacingAndGlyphs" stroke="#000" stroke-width="0.2">-0.03</text>
<text x="34.6" y="143.6" font-size="7.6" text-anchor="end" textLength="15.59" lengthAdjust="spacingAndGlyphs" stroke="#000" stroke-width="0.2">-0.02</text>
<text x="34.6" y="159" font-size="7.6" text-anchor="end" textLength="15.59" lengthAdjust="spacingAndGlyphs" stroke="#000" stroke-width="0.2">-0.01</text>
<text x="34.6" y="174.4" font-size="7.6" text-anchor="end" textLength="3.8" lengthAdjust="spacingAndGlyphs" stroke="#000" stroke-width="0.2">0</text>
<text x="34.6" y="189.9" font-size="7.6" text-anchor="end" textLength="13.31" lengthAdjust="spacingAndGlyphs" stroke="#000" stroke-width="0.2">0.01</text>
<text x="34.6" y="205.3" font-size="7.6" text-anchor="end" textLength="13.31" lengthAdjust="spacingAndGlyphs" stroke="#000" stroke-width="0.2">0.02</text>
<text x="34.6" y="220.7" font-size="7.6" text-anchor="end" textLength="13.31" lengthAdjust="spacingAndGlyphs" stroke="#000" stroke-width="0.2">0.03</text>
<text x="39" y="228.2" font-size="7.6" text-anchor="middle" textLength="11.79" lengthAdjust="spacingAndGlyphs" stroke="#000" stroke-width="0.2">-0.1</text>
<text x="114.6" y="228.2" font-size="7.6" text-anchor="middle" textLength="15.59" lengthAdjust="spacingAndGlyphs" stroke="#000" stroke-width="0.2">-0.05</text>
<text x="190.2" y="228.2" font-size="7.6" text-anchor="middle" textLength="3.8" lengthAdjust="spacingAndGlyphs" stroke="#000" stroke-width="0.2">0</text>
<text x="265.7" y="228.2" font-size="7.6" text-anchor="middle" textLength="13.31" lengthAdjust="spacingAndGlyphs" stroke="#000" stroke-width="0.2">0.05</text>
<text x="341.3" y="228.2" font-size="7.6" text-anchor="middle" textLength="9.51" lengthAdjust="spacingAndGlyphs" stroke="#000" stroke-width="0.2">0.1</text>
<text x="190.2" y="239" font-size="10.2" text-anchor="middle" textLength="57.7" lengthAdjust="spacingAndGlyphs" stroke="#000" stroke-width="0.2">Orbital phase</text>
<text x="11.3" y="171.8" font-size="10" text-anchor="middle" textLength="26.5" lengthAdjust="spacingAndGlyphs" transform="rotate(-90 11.3 171.8)" stroke="#000" stroke-width="0.2">&#916; mag</text>
<path d="M39.5 296h1.6M40 318.5h1.6M41.5 290.5h1.6M41.5 303.5h1.6M42.5 290h1.6M42.5 302.5h1.6M42.5 327.5h1.6M43 321.5h1.6M43 289h1.6M43.5 278.5h1.6M44 288.5h1.6M45.5 312.5h1.6M46 286h1.6M46 266h1.6M46 251h1.6M46.5 318.5h1.6M46.5 282.5h1.6M46.5 291.5h1.6M47.5 292.5h1.6M48.5 309h1.6M48.5 299h1.6M49.5 272h1.6M49.5 291h1.6M50 284.5h1.6M50 330h1.6M50 273h1.6M50.5 302.5h1.6M51 333.5h1.6M51 312h1.6M52.5 297.5h1.6M53 295h1.6M53.5 286h1.6M53.5 294h1.6M53.5 283h1.6M53.5 273h1.6M54.5 269.5h1.6M55 310h1.6M56 276h1.6M56.5 294h1.6M56.5 291.5h1.6M57 276.5h1.6M58 280h1.6M58 293h1.6M59 318.5h1.6M60 301.5h1.6M60.5 265h1.6M61.5 307h1.6M62 287h1.6M62 270.5h1.6M63 268.5h1.6M63 285h1.6M64.5 289h1.6M64.5 302.5h1.6M65.5 293h1.6M66 297.5h1.6M66.5 306.5h1.6M67 289h1.6M68 306h1.6M68 297.5h1.6M68.5 248h1.6M69 291.5h1.6M69.5 289.5h1.6M69.5 301h1.6M70 310.5h1.6M70.5 302.5h1.6M71 268h1.6M71 300h1.6M71.5 316.5h1.6M71.5 320h1.6M72.5 321.5h1.6M72.5 297h1.6M73.5 305h1.6M73.5 300.5h1.6M75 302h1.6M75 293h1.6M75 303h1.6M75.5 297h1.6M75.5 301.5h1.6M75.5 276h1.6M76 295.5h1.6M76 311.5h1.6M78.5 319h1.6M78.5 296h1.6M79 297.5h1.6M79.5 306h1.6M79.5 280.5h1.6M80.5 311.5h1.6M81 262.5h1.6M81 300h1.6M81.5 269.5h1.6M82 283h1.6M82.5 309h1.6M83 301.5h1.6M83.5 304h1.6M84 303.5h1.6M85 315h1.6M85.5 298.5h1.6M86 279h1.6M86.5 311h1.6M86.5 275h1.6M87.5 300h1.6M89 288h1.6M89.5 288.5h1.6M90.5 325h1.6M91 292h1.6M91 283.5h1.6M91 292h1.6M92.5 289h1.6M94.5 281h1.6M94.5 302h1.6M95.5 312h1.6M96 284.5h1.6M96 277.5h1.6M96 308.5h1.6M98 307h1.6M98 290h1.6M98.5 303.5h1.6M98.5 301h1.6M99.5 306h1.6M100 314h1.6M100 301.5h1.6M100 303h1.6M100 294.5h1.6M100.5 293.5h1.6M100.5 299.5h1.6M100.5 293.5h1.6M101 304.5h1.6M102 316.5h1.6M102.5 310.5h1.6M103 274.5h1.6M104 286h1.6M104 307h1.6M104.5 298.5h1.6M105.5 279h1.6M107 301h1.6M107.5 278h1.6M107.5 295h1.6M109 295.5h1.6M109 293.5h1.6M109 310.5h1.6M110 289.5h1.6M110.5 279.5h1.6M110.5 288h1.6M110.5 283h1.6M111 311h1.6M111.5 291.5h1.6M111.5 271.5h1.6M112 267.5h1.6M112.5 271.5h1.6M112.5 310.5h1.6M113.5 293h1.6M113.5 295h1.6M115 290h1.6M116 290h1.6M116 259.5h1.6M117 287h1.6M117 307h1.6M117 272.5h1.6M118 315.5h1.6M119 292.5h1.6M119 264h1.6M119 299h1.6M119.5 313.5h1.6M121 281.5h1.6M121.5 305.5h1.6M121.5 298.5h1.6M122 329.5h1.6M122.5 292.5h1.6M122.5 269.5h1.6M123.5 268.5h1.6M123.5 298.5h1.6M124.5 294h1.6M124.5 277.5h1.6M125 287h1.6M125.5 300h1.6M126 287h1.6M126 304h1.6M126.5 264h1.6M127 261h1.6M127 299h1.6M127 291.5h1.6M127.5 286.5h1.6M128 314.5h1.6M128.5 307.5h1.6M128.5 321.5h1.6M129 325h1.6M129.5 277.5h1.6M129.5 285h1.6M131.5 316h1.6M132.5 301h1.6M132.5 282.5h1.6M133 288h1.6M134 310h1.6M134.5 300h1.6M135 271.5h1.6M135.5 269.5h1.6M135.5 313h1.6M136.5 266.5h1.6M137 298h1.6M137.5 286h1.6M138.5 295.5h1.6M138.5 279h1.6M138.5 306h1.6M138.5 308.5h1.6M139.5 295.5h1.6M140 288.5h1.6M140 293h1.6M140 297.5h1.6M140.5 308.5h1.6M141 280.5h1.6M141.5 304.5h1.6M141.5 313.5h1.6M142.5 278h1.6M143 279.5h1.6M143 303h1.6M143 290h1.6M144 301.5h1.6M144 328.5h1.6M145 297.5h1.6M145.5 290.5h1.6M146.5 284.5h1.6M147.5 305h1.6M148 296.5h1.6M148 287.5h1.6M149.5 292.5h1.6M150 280.5h1.6M150 274h1.6M150.5 270.5h1.6M151 296h1.6M151 294.5h1.6M151 303h1.6M151.5 302h1.6M151.5 287.5h1.6M152.5 292.5h1.6M153 299.5h1.6M155 312.5h1.6M155 329h1.6M155.5 301h1.6M155.5 318.5h1.6M156 298.5h1.6M157 306.5h1.6M158 276.5h1.6M158.5 298h1.6M158.5 302h1.6M158.5 274.5h1.6M160 314h1.6M160 293.5h1.6M160.5 282.5h1.6M161 263.5h1.6M161.5 313h1.6M161.5 302.5h1.6M163 307h1.6M163.5 299.5h1.6M164 288h1.6M165.5 292.5h1.6M165.5 282h1.6M166.5 310h1.6M168.5 315h1.6M168.5 298h1.6M169 316h1.6M171.5 295h1.6M172 288h1.6M172.5 296h1.6M174 295h1.6M174 303.5h1.6M174 282h1.6M174.5 303.5h1.6M174.5 285h1.6M175 284h1.6M175.5 295.5h1.6M175.5 319h1.6M176 278.5h1.6M176.5 280.5h1.6M177.5 328.5h1.6M178 309.5h1.6M178.5 302h1.6M179 287.5h1.6M180 270h1.6M182 299h1.6M182 307h1.6M182 282h1.6M182 296h1.6M184 285h1.6M185.5 300.5h1.6M185.5 286.5h1.6M186.5 319.5h1.6M187 263h1.6M187 296h1.6M187.5 265.5h1.6M188 277h1.6M188.5 295.5h1.6M190 285.5h1.6M190 286.5h1.6M190.5 316h1.6M190.5 280h1.6M191 316h1.6M191.5 294.5h1.6M193 286.5h1.6M194 327h1.6M194.5 283h1.6M195 334h1.6M195.5 283.5h1.6M195.5 291.5h1.6M196 309.5h1.6M196.5 282h1.6M196.5 300h1.6M197 312h1.6M199 307h1.6M201.5 278.5h1.6M201.5 296.5h1.6M202 272.5h1.6M202.5 280h1.6M203 299h1.6M203.5 282h1.6M203.5 293h1.6M203.5 304.5h1.6M203.5 298h1.6M205 287h1.6M205 293.5h1.6M205 310h1.6M206.5 313.5h1.6M207 283.5h1.6M208.5 316.5h1.6M209.5 299h1.6M209.5 296.5h1.6M209.5 306h1.6M210 313h1.6M210.5 262.5h1.6M211 287h1.6M212 298h1.6M212 302h1.6M212.5 301h1.6M212.5 293h1.6M213.5 302.5h1.6M214.5 288h1.6M215.5 291h1.6M216.5 288.5h1.6M217 295.5h1.6M217.5 286h1.6M218 312h1.6M218 303h1.6M218.5 274.5h1.6M218.5 295.5h1.6M219 289h1.6M219 294.5h1.6M219.5 275.5h1.6M220.5 290h1.6M222 293h1.6M222 296.5h1.6M222 295h1.6M222.5 278h1.6M223.5 285.5h1.6M224.5 302.5h1.6M224.5 301.5h1.6M225.5 293.5h1.6M226 293h1.6M228 294.5h1.6M228 280.5h1.6M229.5 264.5h1.6M230 306h1.6M230 310.5h1.6M230.5 327h1.6M230.5 274h1.6M231 291.5h1.6M231 308.5h1.6M231.5 279h1.6M232 299h1.6M232 280h1.6M233 283.5h1.6M234.5 294.5h1.6M234.5 307h1.6M236.5 308h1.6M237 307.5h1.6M237.5 317.5h1.6M237.5 305.5h1.6M237.5 312h1.6M238 290.5h1.6M238 312.5h1.6M239.5 285h1.6M240 294.5h1.6M240 285.5h1.6M240 292h1.6M240.5 287.5h1.6M240.5 335h1.6M241 301h1.6M243 317h1.6M243.5 271.5h1.6M243.5 267h1.6M244 295.5h1.6M244.5 316h1.6M245 302h1.6M245.5 277h1.6M245.5 288.5h1.6M245.5 305.5h1.6M246 307h1.6M247 258h1.6M248 309h1.6M249 288.5h1.6M249 281h1.6M249.5 293.5h1.6M250 310h1.6M250 311h1.6M250 279.5h1.6M250 283h1.6M250.5 314.5h1.6M252.5 292h1.6M253.5 287.5h1.6M254.5 284h1.6M256.5 283h1.6M256.5 298h1.6M256.5 276h1.6M257 314.5h1.6M257.5 285h1.6M258 307h1.6M259.5 324h1.6M261 287.5h1.6M261.5 277h1.6M262 291h1.6M262.5 257.5h1.6M262.5 266h1.6M262.5 309h1.6M264 294.5h1.6M265.5 305h1.6M265.5 308h1.6M266 306h1.6M266 307h1.6M266 268.5h1.6M266.5 298.5h1.6M266.5 301h1.6M267.5 313.5h1.6M267.5 294.5h1.6M268.5 276.5h1.6M269 298h1.6M269.5 300h1.6M270 294.5h1.6M270 309h1.6M270 293.5h1.6M271 303h1.6M271 314h1.6M271.5 310.5h1.6M273 317.5h1.6M273 293h1.6M273 312.5h1.6M273.5 310h1.6M274 274.5h1.6M276.5 306.5h1.6M276.5 276.5h1.6M277 304h1.6M279.5 296.5h1.6M279.5 314.5h1.6M279.5 282.5h1.6M280 295.5h1.6M284 291.5h1.6M285.5 292h1.6M286 286h1.6M286 313h1.6M286.5 268.5h1.6M287 288.5h1.6M287 301h1.6M287.5 290h1.6M287.5 307h1.6M288.5 291h1.6M290 339h1.6M290.5 288h1.6M291 296h1.6M291.5 297.5h1.6M291.5 305h1.6M292 304.5h1.6M292.5 286h1.6M294 292h1.6M294.5 305h1.6M295 318h1.6M295 310h1.6M295.5 298.5h1.6M295.5 321h1.6M295.5 293h1.6M296 289.5h1.6M296 301h1.6M296 286.5h1.6M296.5 301h1.6M296.5 307.5h1.6M298.5 276.5h1.6M298.5 291h1.6M299 322h1.6M299.5 303.5h1.6M301 302.5h1.6M301 286.5h1.6M301.5 276h1.6M302.5 282.5h1.6M302.5 299h1.6M303.5 307.5h1.6M303.5 300h1.6M303.5 299h1.6M304 299.5h1.6M304 305h1.6M305 305.5h1.6M305.5 298h1.6M305.5 285.5h1.6M305.5 288h1.6M308 308.5h1.6M308.5 302h1.6M309 266.5h1.6M309.5 312.5h1.6M310 324h1.6M310.5 268h1.6M311 282h1.6M312 278h1.6M312 303.5h1.6M313 293.5h1.6M314 289.5h1.6M314 297.5h1.6M314 307h1.6M314.5 287h1.6M315.5 322.5h1.6M316 302.5h1.6M316.5 320h1.6M316.5 291.5h1.6M316.5 315h1.6M317.5 323.5h1.6M318 289.5h1.6M319 276h1.6M319.5 285.5h1.6M320.5 314h1.6M320.5 291h1.6M321.5 252h1.6M322 305.5h1.6M324.5 305.5h1.6M325 281.5h1.6M326 305h1.6M326 301h1.6M326.5 312h1.6M327 320.5h1.6M327.5 297h1.6M328 294.5h1.6M329.5 292.5h1.6M329.5 305h1.6M330 303.5h1.6M330 283.5h1.6M333 329h1.6M333.5 326.5h1.6M333.5 277h1.6M333.5 296.5h1.6M333.5 304h1.6M334.5 286.5h1.6M334.5 316h1.6M335.5 287h1.6M335.5 282.5h1.6M335.5 301h1.6M336 310.5h1.6M336 295.5h1.6M337 288.5h1.6M338.5 285.5h1.6M338.5 284h1.6M339.5 283h1.6M341.5 292.5h1.6" stroke="#444" stroke-width="1.6" transform="translate(-0.8 0)" stroke-opacity="0.85"/>
<path d="M40.5 296v6.8M39.2 296h2.6M39.2 302.8h2.6M43.5 298.7v6.8M42.2 298.7h2.6M42.2 305.5h2.6M46.6 291v6.8M45.3 291h2.6M45.3 297.8h2.6M49.4 294.3v6.8M48.1 294.3h2.6M48.1 301.1h2.6M52.3 293.2v6.8M51 293.2h2.6M51 300h2.6M55.4 294.1v6.8M54.1 294.1h2.6M54.1 300.9h2.6M58.6 292v6.8M57.3 292h2.6M57.3 298.8h2.6M61.7 292v6.8M60.4 292h2.6M60.4 298.8h2.6M64.6 287.1v6.8M63.3 287.1h2.6M63.3 293.9h2.6M67.7 287.1v6.8M66.4 287.1h2.6M66.4 293.9h2.6M70.8 299.8v6.8M69.5 299.8h2.6M69.5 306.6h2.6M73.8 286.8v6.8M72.5 286.8h2.6M72.5 293.6h2.6M76.9 299.5v6.8M75.6 299.5h2.6M75.6 306.3h2.6M79.9 286.8v6.8M78.6 286.8h2.6M78.6 293.6h2.6M82.9 296v6.8M81.6 296h2.6M81.6 302.8h2.6M86 296.6v6.8M84.7 296.6h2.6M84.7 303.4h2.6M89.1 289.4v6.8M87.8 289.4h2.6M87.8 296.2h2.6M92.1 287.1v6.8M90.8 287.1h2.6M90.8 293.9h2.6M94.9 292.3v6.8M93.6 292.3h2.6M93.6 299.1h2.6M98 295.5v6.8M96.7 295.5h2.6M96.7 302.3h2.6M100.9 298.7v6.8M99.6 298.7h2.6M99.6 305.5h2.6M103.9 289.1v6.8M102.6 289.1h2.6M102.6 295.9h2.6M106.9 287.9v6.8M105.6 287.9h2.6M105.6 294.7h2.6M110 290.8v6.8M108.7 290.8h2.6M108.7 297.6h2.6M113.1 295.5v6.8M111.8 295.5h2.6M111.8 302.3h2.6M116.1 298.3v6.8M114.8 298.3h2.6M114.8 305.1h2.6M119.3 293.2v6.8M118 293.2h2.6M118 300h2.6M122.2 295.5v6.8M120.9 295.5h2.6M120.9 302.3h2.6M125.3 285.7v6.8M124 285.7h2.6M124 292.5h2.6M128.4 289.9v6.8M127.1 289.9h2.6M127.1 296.7h2.6M131.6 293.2v6.8M130.3 293.2h2.6M130.3 300h2.6M134.4 289.1v6.8M133.1 289.1h2.6M133.1 295.9h2.6M137.5 283.9v6.8M136.2 283.9h2.6M136.2 290.7h2.6M140.4 289.4v6.8M139.1 289.4h2.6M139.1 296.2h2.6M143.3 290.2v6.8M142 290.2h2.6M142 297h2.6M146.4 282.6v6.8M145.1 282.6h2.6M145.1 289.4h2.6M149.3 285.9v6.8M148 285.9h2.6M148 292.7h2.6M152.5 297.2v6.8M151.2 297.2h2.6M151.2 304h2.6M155.3 286.2v6.8M154 286.2h2.6M154 293h2.6M158.4 282.8v6.8M157.1 282.8h2.6M157.1 289.6h2.6M161.5 299.5v6.8M160.2 299.5h2.6M160.2 306.3h2.6M164.5 286.7v6.8M163.2 286.7h2.6M163.2 293.5h2.6M167.4 293.6v6.8M166.1 293.6h2.6M166.1 300.4h2.6M170.6 290.2v6.8M169.3 290.2h2.6M169.3 297h2.6M173.6 302.1v6.8M172.3 302.1h2.6M172.3 308.9h2.6M176.6 292.6v6.8M175.3 292.6h2.6M175.3 299.4h2.6M179.6 289.2v6.8M178.3 289.2h2.6M178.3 296h2.6M182.6 294.4v6.8M181.3 294.4h2.6M181.3 301.2h2.6M185.6 281.8v6.8M184.3 281.8h2.6M184.3 288.6h2.6M188.6 299.7v6.8M187.3 299.7h2.6M187.3 306.5h2.6M191.7 291.6v6.8M190.4 291.6h2.6M190.4 298.4h2.6M194.6 297.5v6.8M193.3 297.5h2.6M193.3 304.3h2.6M197.6 287.7v6.8M196.3 287.7h2.6M196.3 294.5h2.6M200.8 300v6.8M199.5 300h2.6M199.5 306.8h2.6M203.8 296.5v6.8M202.5 296.5h2.6M202.5 303.3h2.6M206.6 291.1v6.8M205.3 291.1h2.6M205.3 297.9h2.6M210 297.1v6.8M208.7 297.1h2.6M208.7 303.9h2.6M213 298.8v6.8M211.7 298.8h2.6M211.7 305.6h2.6M216.1 289.2v6.8M214.8 289.2h2.6M214.8 296h2.6M219 281.2v6.8M217.7 281.2h2.6M217.7 288h2.6M222.1 293.3v6.8M220.8 293.3h2.6M220.8 300.1h2.6M225.1 287.2v6.8M223.8 287.2h2.6M223.8 294h2.6M228.1 295.3v6.8M226.8 295.3h2.6M226.8 302.1h2.6M231.2 288.1v6.8M229.9 288.1h2.6M229.9 294.9h2.6M234.2 290.1v6.8M232.9 290.1h2.6M232.9 296.9h2.6M237.3 294.5v6.8M236 294.5h2.6M236 301.3h2.6M240.4 295.6v6.8M239.1 295.6h2.6M239.1 302.4h2.6M243.3 296v6.8M242 296h2.6M242 302.8h2.6M246.2 290.7v6.8M244.9 290.7h2.6M244.9 297.5h2.6M249.3 293.3v6.8M248 293.3h2.6M248 300.1h2.6M252.1 298.2v6.8M250.8 298.2h2.6M250.8 305h2.6M255.2 284.9v6.8M253.9 284.9h2.6M253.9 291.7h2.6M258.2 294.1v6.8M256.9 294.1h2.6M256.9 300.9h2.6M261.3 294.1v6.8M260 294.1h2.6M260 300.9h2.6M264.4 297.3v6.8M263.1 297.3h2.6M263.1 304.1h2.6M267.3 292.5v6.8M266 292.5h2.6M266 299.3h2.6M270.4 286.7v6.8M269.1 286.7h2.6M269.1 293.5h2.6M273.3 285.5v6.8M272 285.5h2.6M272 292.3h2.6M276.5 304v6.8M275.2 304h2.6M275.2 310.8h2.6M279.6 286.9v6.8M278.3 286.9h2.6M278.3 293.7h2.6M282.4 295.3v6.8M281.1 295.3h2.6M281.1 302.1h2.6M285.5 284.1v6.8M284.2 284.1h2.6M284.2 290.9h2.6M288.5 283.3v6.8M287.2 283.3h2.6M287.2 290.1h2.6M291.6 292.8v6.8M290.3 292.8h2.6M290.3 299.6h2.6M294.4 285.2v6.8M293.1 285.2h2.6M293.1 292h2.6M297.5 287.3v6.8M296.2 287.3h2.6M296.2 294.1h2.6M300.5 288.1v6.8M299.2 288.1h2.6M299.2 294.9h2.6M303.5 294.1v6.8M302.2 294.1h2.6M302.2 300.9h2.6M306.5 287.6v6.8M305.2 287.6h2.6M305.2 294.4h2.6M309.5 284.8v6.8M308.2 284.8h2.6M308.2 291.6h2.6M312.5 300.1v6.8M311.2 300.1h2.6M311.2 306.9h2.6M315.5 287.8v6.8M314.2 287.8h2.6M314.2 294.6h2.6M318.5 292.4v6.8M317.2 292.4h2.6M317.2 299.2h2.6M321.5 295.4v6.8M320.2 295.4h2.6M320.2 302.2h2.6M324.5 295.9v6.8M323.2 295.9h2.6M323.2 302.7h2.6M327.8 298.4v6.8M326.5 298.4h2.6M326.5 305.2h2.6M330.8 288.3v6.8M329.5 288.3h2.6M329.5 295.1h2.6M334 293.7v6.8M332.7 293.7h2.6M332.7 300.5h2.6M336.8 294.1v6.8M335.5 294.1h2.6M335.5 300.9h2.6M340 289v6.8M338.7 289h2.6M338.7 295.8h2.6" stroke="#8a8aff" stroke-width="0.7" fill="none"/>
<path d="M39 295 L341.3 295" fill="none" stroke="#f01010" stroke-width="1.3"/>
<g fill="#1010f0"><circle cx="40.5" cy="299.4" r="2.2"/><circle cx="43.5" cy="302.1" r="2.2"/><circle cx="46.6" cy="294.4" r="2.2"/><circle cx="49.4" cy="297.7" r="2.2"/><circle cx="52.3" cy="296.6" r="2.2"/><circle cx="55.4" cy="297.5" r="2.2"/><circle cx="58.6" cy="295.4" r="2.2"/><circle cx="61.7" cy="295.4" r="2.2"/><circle cx="64.6" cy="290.5" r="2.2"/><circle cx="67.7" cy="290.5" r="2.2"/><circle cx="70.8" cy="303.2" r="2.2"/><circle cx="73.8" cy="290.2" r="2.2"/><circle cx="76.9" cy="302.9" r="2.2"/><circle cx="79.9" cy="290.2" r="2.2"/><circle cx="82.9" cy="299.4" r="2.2"/><circle cx="86" cy="300" r="2.2"/><circle cx="89.1" cy="292.8" r="2.2"/><circle cx="92.1" cy="290.5" r="2.2"/><circle cx="94.9" cy="295.7" r="2.2"/><circle cx="98" cy="298.9" r="2.2"/><circle cx="100.9" cy="302.1" r="2.2"/><circle cx="103.9" cy="292.5" r="2.2"/><circle cx="106.9" cy="291.3" r="2.2"/><circle cx="110" cy="294.2" r="2.2"/><circle cx="113.1" cy="298.9" r="2.2"/><circle cx="116.1" cy="301.7" r="2.2"/><circle cx="119.3" cy="296.6" r="2.2"/><circle cx="122.2" cy="298.9" r="2.2"/><circle cx="125.3" cy="289.1" r="2.2"/><circle cx="128.4" cy="293.3" r="2.2"/><circle cx="131.6" cy="296.6" r="2.2"/><circle cx="134.4" cy="292.5" r="2.2"/><circle cx="137.5" cy="287.3" r="2.2"/><circle cx="140.4" cy="292.8" r="2.2"/><circle cx="143.3" cy="293.6" r="2.2"/><circle cx="146.4" cy="286" r="2.2"/><circle cx="149.3" cy="289.3" r="2.2"/><circle cx="152.5" cy="300.6" r="2.2"/><circle cx="155.3" cy="289.6" r="2.2"/><circle cx="158.4" cy="286.2" r="2.2"/><circle cx="161.5" cy="302.9" r="2.2"/><circle cx="164.5" cy="290.1" r="2.2"/><circle cx="167.4" cy="297" r="2.2"/><circle cx="170.6" cy="293.6" r="2.2"/><circle cx="173.6" cy="305.5" r="2.2"/><circle cx="176.6" cy="296" r="2.2"/><circle cx="179.6" cy="292.6" r="2.2"/><circle cx="182.6" cy="297.8" r="2.2"/><circle cx="185.6" cy="285.2" r="2.2"/><circle cx="188.6" cy="303.1" r="2.2"/><circle cx="191.7" cy="295" r="2.2"/><circle cx="194.6" cy="300.9" r="2.2"/><circle cx="197.6" cy="291.1" r="2.2"/><circle cx="200.8" cy="303.4" r="2.2"/><circle cx="203.8" cy="299.9" r="2.2"/><circle cx="206.6" cy="294.5" r="2.2"/><circle cx="210" cy="300.5" r="2.2"/><circle cx="213" cy="302.2" r="2.2"/><circle cx="216.1" cy="292.6" r="2.2"/><circle cx="219" cy="284.6" r="2.2"/><circle cx="222.1" cy="296.7" r="2.2"/><circle cx="225.1" cy="290.6" r="2.2"/><circle cx="228.1" cy="298.7" r="2.2"/><circle cx="231.2" cy="291.5" r="2.2"/><circle cx="234.2" cy="293.5" r="2.2"/><circle cx="237.3" cy="297.9" r="2.2"/><circle cx="240.4" cy="299" r="2.2"/><circle cx="243.3" cy="299.4" r="2.2"/><circle cx="246.2" cy="294.1" r="2.2"/><circle cx="249.3" cy="296.7" r="2.2"/><circle cx="252.1" cy="301.6" r="2.2"/><circle cx="255.2" cy="288.3" r="2.2"/><circle cx="258.2" cy="297.5" r="2.2"/><circle cx="261.3" cy="297.5" r="2.2"/><circle cx="264.4" cy="300.7" r="2.2"/><circle cx="267.3" cy="295.9" r="2.2"/><circle cx="270.4" cy="290.1" r="2.2"/><circle cx="273.3" cy="288.9" r="2.2"/><circle cx="276.5" cy="307.4" r="2.2"/><circle cx="279.6" cy="290.3" r="2.2"/><circle cx="282.4" cy="298.7" r="2.2"/><circle cx="285.5" cy="287.5" r="2.2"/><circle cx="288.5" cy="286.7" r="2.2"/><circle cx="291.6" cy="296.2" r="2.2"/><circle cx="294.4" cy="288.6" r="2.2"/><circle cx="297.5" cy="290.7" r="2.2"/><circle cx="300.5" cy="291.5" r="2.2"/><circle cx="303.5" cy="297.5" r="2.2"/><circle cx="306.5" cy="291" r="2.2"/><circle cx="309.5" cy="288.2" r="2.2"/><circle cx="312.5" cy="303.5" r="2.2"/><circle cx="315.5" cy="291.2" r="2.2"/><circle cx="318.5" cy="295.8" r="2.2"/><circle cx="321.5" cy="298.8" r="2.2"/><circle cx="324.5" cy="299.3" r="2.2"/><circle cx="327.8" cy="301.8" r="2.2"/><circle cx="330.8" cy="291.7" r="2.2"/><circle cx="334" cy="297.1" r="2.2"/><circle cx="336.8" cy="297.5" r="2.2"/><circle cx="340" cy="292.4" r="2.2"/></g>
<rect x="39" y="248.5" width="302.3" height="93" fill="none" stroke="#555" stroke-width="1"/>
<path d="M39 341.5v-3.5M39 248.5v3.5M114.6 341.5v-3.5M114.6 248.5v3.5M190.2 341.5v-3.5M190.2 248.5v3.5M265.7 341.5v-3.5M265.7 248.5v3.5M341.3 341.5v-3.5M341.3 248.5v3.5M39 248.5h3.5M341.3 248.5h-3.5M39 264h3.5M341.3 264h-3.5M39 279.5h3.5M341.3 279.5h-3.5M39 295h3.5M341.3 295h-3.5M39 310.5h3.5M341.3 310.5h-3.5M39 326h3.5M341.3 326h-3.5M39 341.5h3.5M341.3 341.5h-3.5" stroke="#555" stroke-width="0.8" fill="none"/>
<text x="34.6" y="251.2" font-size="7.6" text-anchor="end" textLength="15.59" lengthAdjust="spacingAndGlyphs" stroke="#000" stroke-width="0.2">-0.03</text>
<text x="34.6" y="266.7" font-size="7.6" text-anchor="end" textLength="15.59" lengthAdjust="spacingAndGlyphs" stroke="#000" stroke-width="0.2">-0.02</text>
<text x="34.6" y="282.2" font-size="7.6" text-anchor="end" textLength="15.59" lengthAdjust="spacingAndGlyphs" stroke="#000" stroke-width="0.2">-0.01</text>
<text x="34.6" y="297.7" font-size="7.6" text-anchor="end" textLength="3.8" lengthAdjust="spacingAndGlyphs" stroke="#000" stroke-width="0.2">0</text>
<text x="34.6" y="313.2" font-size="7.6" text-anchor="end" textLength="13.31" lengthAdjust="spacingAndGlyphs" stroke="#000" stroke-width="0.2">0.01</text>
<text x="34.6" y="328.7" font-size="7.6" text-anchor="end" textLength="13.31" lengthAdjust="spacingAndGlyphs" stroke="#000" stroke-width="0.2">0.02</text>
<text x="34.6" y="344.2" font-size="7.6" text-anchor="end" textLength="13.31" lengthAdjust="spacingAndGlyphs" stroke="#000" stroke-width="0.2">0.03</text>
<text x="39" y="351.7" font-size="7.6" text-anchor="middle" textLength="11.79" lengthAdjust="spacingAndGlyphs" stroke="#000" stroke-width="0.2">-0.1</text>
<text x="114.6" y="351.7" font-size="7.6" text-anchor="middle" textLength="15.59" lengthAdjust="spacingAndGlyphs" stroke="#000" stroke-width="0.2">-0.05</text>
<text x="190.2" y="351.7" font-size="7.6" text-anchor="middle" textLength="3.8" lengthAdjust="spacingAndGlyphs" stroke="#000" stroke-width="0.2">0</text>
<text x="265.7" y="351.7" font-size="7.6" text-anchor="middle" textLength="13.31" lengthAdjust="spacingAndGlyphs" stroke="#000" stroke-width="0.2">0.05</text>
<text x="341.3" y="351.7" font-size="7.6" text-anchor="middle" textLength="9.51" lengthAdjust="spacingAndGlyphs" stroke="#000" stroke-width="0.2">0.1</text>
<text x="190.2" y="362.5" font-size="10.2" text-anchor="middle" textLength="57.7" lengthAdjust="spacingAndGlyphs" stroke="#000" stroke-width="0.2">Orbital phase</text>
<text x="11.3" y="295" font-size="10" text-anchor="middle" textLength="26.5" lengthAdjust="spacingAndGlyphs" transform="rotate(-90 11.3 295)" stroke="#000" stroke-width="0.2">&#916; mag</text>
<text x="190.2" y="6.9" font-size="9.8" text-anchor="middle" font-weight="bold" textLength="147" lengthAdjust="spacingAndGlyphs">HATS-63 HATSouth Light Curve</text>
<path d="M548.3 111.1V154.7M547.1 111.1h2.4M547.1 154.7h2.4M549.2 36.7V97.1M548 36.7h2.4M548 97.1h2.4M550.3 45.3V130.9M549.1 45.3h2.4M549.1 130.9h2.4M552.1 22V121.3M550.9 22h2.4M550.9 121.3h2.4M553.2 75.5V139.1M552 75.5h2.4M552 139.1h2.4M554 82.1V158.2M552.8 82.1h2.4M552.8 158.2h2.4M555.7 44.7V130.4M554.5 44.7h2.4M554.5 130.4h2.4M556.8 16.6V96.4M555.6 96.4h2.4M557.5 73.8V149.7M556.3 73.8h2.4M556.3 149.7h2.4M559.8 67.6V156.4M558.6 67.6h2.4M558.6 156.4h2.4M560.5 54.8V125.3M559.3 54.8h2.4M559.3 125.3h2.4M561.3 30V93M560.1 30h2.4M560.1 93h2.4M562.5 17.4V89.4M561.3 17.4h2.4M561.3 89.4h2.4M563.6 40.1V146.3M562.4 40.1h2.4M562.4 146.3h2.4M564.3 29.4V109M563.1 29.4h2.4M563.1 109h2.4M565.9 48.4V149.6M564.7 48.4h2.4M564.7 149.6h2.4M566.8 16.6V96.3M565.6 96.3h2.4M567.9 50.5V119.7M566.7 50.5h2.4M566.7 119.7h2.4M569 36.5V139.7M567.8 36.5h2.4M567.8 139.7h2.4M569.7 30.4V116.9M568.5 30.4h2.4M568.5 116.9h2.4M570.8 29.7V128.1M569.6 29.7h2.4M569.6 128.1h2.4M571.7 48.2V163.3M570.5 48.2h2.4M570.5 163.3h2.4M572.8 36.6V143.6M571.6 36.6h2.4M571.6 143.6h2.4M573.5 16.6V119M572.3 119h2.4M574.6 21.2V91.1M573.4 21.2h2.4M573.4 91.1h2.4M576 30.1V139.5M574.8 30.1h2.4M574.8 139.5h2.4M577.1 16.6V119.2M575.9 119.2h2.4M578.1 99.9V156.6M576.9 99.9h2.4M576.9 156.6h2.4M579 16.6V122.5M577.8 122.5h2.4M579.8 49.6V143.5M578.6 49.6h2.4M578.6 143.5h2.4M580.8 20.8V137.1M579.6 20.8h2.4M579.6 137.1h2.4M581.8 22.5V127.2M580.6 22.5h2.4M580.6 127.2h2.4M582.9 94V159.8M581.7 94h2.4M581.7 159.8h2.4M583.7 44.3V126.3M582.5 44.3h2.4M582.5 126.3h2.4M584.8 46V112.9M583.6 46h2.4M583.6 112.9h2.4M586.2 24.4V139.7M585 24.4h2.4M585 139.7h2.4M587.3 42V102.3M586.1 42h2.4M586.1 102.3h2.4M588.4 44.8V134.8M587.2 44.8h2.4M587.2 134.8h2.4M589.3 16.6V113.9M588.1 113.9h2.4M590.3 58.5V143.6M589.1 58.5h2.4M589.1 143.6h2.4M591.1 49.5V164.5M589.9 49.5h2.4M589.9 164.5h2.4M592.1 72.5V153.1M590.9 72.5h2.4M590.9 153.1h2.4M592.9 54.1V137M591.7 54.1h2.4M591.7 137h2.4M594.1 88.4V162.6M592.9 88.4h2.4M592.9 162.6h2.4M594.9 53V164.6M593.7 53h2.4M593.7 164.6h2.4M596.4 41.3V138.7M595.2 41.3h2.4M595.2 138.7h2.4M597.3 21.6V125.8M596.1 21.6h2.4M596.1 125.8h2.4M598.4 37.5V133.5M597.2 37.5h2.4M597.2 133.5h2.4M599.5 16.6V100M598.3 100h2.4M600.2 35.7V96.3M599 35.7h2.4M599 96.3h2.4M601.3 44.1V149.8M600.1 44.1h2.4M600.1 149.8h2.4M602.4 24V141.3M601.2 24h2.4M601.2 141.3h2.4M603.3 18.5V91M602.1 18.5h2.4M602.1 91h2.4M604 36.2V135M602.8 36.2h2.4M602.8 135h2.4M605.2 18.5V116.5M604 18.5h2.4M604 116.5h2.4M606.9 52.7V115.6M605.7 52.7h2.4M605.7 115.6h2.4M607.6 16.6V105.5M606.4 105.5h2.4M608.8 27.6V127.7M607.6 27.6h2.4M607.6 127.7h2.4M609.6 60.1V169.3M608.4 60.1h2.4M608.4 169.3h2.4M610.6 61.7V153.7M609.4 61.7h2.4M609.4 153.7h2.4M611.5 64.9V125.1M610.3 64.9h2.4M610.3 125.1h2.4M612.6 75.8V167.3M611.4 75.8h2.4M611.4 167.3h2.4M613.4 16.6V107.6M612.2 107.6h2.4M614.5 31.3V123.4M613.3 31.3h2.4M613.3 123.4h2.4M615.3 42V141M614.1 42h2.4M614.1 141h2.4M616.9 67V127.7M615.7 67h2.4M615.7 127.7h2.4M618 16.6V122.8M616.8 122.8h2.4M618.9 19.6V101.3M617.7 19.6h2.4M617.7 101.3h2.4M619.9 32.4V98M618.7 32.4h2.4M618.7 98h2.4M620.8 16.6V110.4M619.6 110.4h2.4M621.8 40.7V119.5M620.6 40.7h2.4M620.6 119.5h2.4M622.7 35.3V148.4M621.5 35.3h2.4M621.5 148.4h2.4M623.3 29.1V108.8M622.1 29.1h2.4M622.1 108.8h2.4M624.6 69.1V141.1M623.4 69.1h2.4M623.4 141.1h2.4M625.6 49.8V167.8M624.4 49.8h2.4M624.4 167.8h2.4M625.9 79.5V140.5M624.7 79.5h2.4M624.7 140.5h2.4M627.3 42.1V129.5M626.1 42.1h2.4M626.1 129.5h2.4M628.1 26.8V124.8M626.9 26.8h2.4M626.9 124.8h2.4M629.1 16.6V108.2M627.9 108.2h2.4M630.2 20.4V113.9M629 20.4h2.4M629 113.9h2.4M631.1 35.6V123.2M629.9 35.6h2.4M629.9 123.2h2.4M631.9 32.8V108.1M630.7 32.8h2.4M630.7 108.1h2.4M633 61.7V139.3M631.8 61.7h2.4M631.8 139.3h2.4M634 33.1V109.5M632.8 33.1h2.4M632.8 109.5h2.4M634.9 67V156M633.7 67h2.4M633.7 156h2.4M634.9 80.2V144.6M633.7 80.2h2.4M633.7 144.6h2.4M635.7 16.6V123.4M634.5 123.4h2.4M637.4 20.4V134.6M636.2 20.4h2.4M636.2 134.6h2.4M638.7 47.2V130.5M637.5 47.2h2.4M637.5 130.5h2.4M639.5 38.3V137.8M638.3 38.3h2.4M638.3 137.8h2.4M640.1 16.6V123.8M638.9 123.8h2.4M642.1 42.4V149.9M640.9 42.4h2.4M640.9 149.9h2.4M643.3 52.7V142.1M642.1 52.7h2.4M642.1 142.1h2.4M644.2 61V125.8M643 61h2.4M643 125.8h2.4M645 37.9V121.9M643.8 37.9h2.4M643.8 121.9h2.4M647.6 47.2V122.5M646.4 47.2h2.4M646.4 122.5h2.4M648.5 82.5V147M647.3 82.5h2.4M647.3 147h2.4M650.4 72.4V139.1M649.2 72.4h2.4M649.2 139.1h2.4M651.5 54.8V145.3M650.3 54.8h2.4M650.3 145.3h2.4M652.3 22.5V125.7M651.1 22.5h2.4M651.1 125.7h2.4M653.1 51.7V114M651.9 51.7h2.4M651.9 114h2.4M654.3 63.8V139.3M653.1 63.8h2.4M653.1 139.3h2.4M655.2 64.3V128.9M654 64.3h2.4M654 128.9h2.4M656.4 32.4V134.6M655.2 32.4h2.4M655.2 134.6h2.4M657.8 56.3V157.4M656.6 56.3h2.4M656.6 157.4h2.4M658.9 20.7V92.5M657.7 20.7h2.4M657.7 92.5h2.4M659.9 38.4V141.3M658.7 38.4h2.4M658.7 141.3h2.4M660.8 56.6V144.8M659.6 56.6h2.4M659.6 144.8h2.4M662.1 19.6V132.1M660.9 19.6h2.4M660.9 132.1h2.4M663.5 22.4V134.3M662.3 22.4h2.4M662.3 134.3h2.4M664.6 30.9V141.7M663.4 30.9h2.4M663.4 141.7h2.4M665.4 31.1V134.6M664.2 31.1h2.4M664.2 134.6h2.4M666.5 50.3V170.1M665.3 50.3h2.4M665.3 170.1h2.4M667.9 23.9V120.9M666.7 23.9h2.4M666.7 120.9h2.4M669 16.6V103M667.8 103h2.4M670 74.1V137.8M668.8 74.1h2.4M668.8 137.8h2.4M671 33.1V123.6M669.8 33.1h2.4M669.8 123.6h2.4M672.2 29.5V133.7M671 29.5h2.4M671 133.7h2.4M673 39.4V149.7M671.8 39.4h2.4M671.8 149.7h2.4M673.8 39.1V107M672.6 39.1h2.4M672.6 107h2.4M674.7 29.1V146.8M673.5 29.1h2.4M673.5 146.8h2.4M676 16.6V79.6M674.8 79.6h2.4M676.8 58.1V128.7M675.6 58.1h2.4M675.6 128.7h2.4M678.5 102V163.1M677.3 102h2.4M677.3 163.1h2.4M679.2 30.5V108.9M678 30.5h2.4M678 108.9h2.4M680.1 43.2V153.3M678.9 43.2h2.4M678.9 153.3h2.4M681.2 23.3V113.9M680 23.3h2.4M680 113.9h2.4M682.3 54.6V116.5M681.1 54.6h2.4M681.1 116.5h2.4M684.1 76V160.4M682.9 76h2.4M682.9 160.4h2.4M685 61V150.1M683.8 61h2.4M683.8 150.1h2.4M687 26.8V132.8M685.8 26.8h2.4M685.8 132.8h2.4M688.4 43.1V141.7M687.2 43.1h2.4M687.2 141.7h2.4M689.4 16.6V82.2M688.2 82.2h2.4M690.4 26.4V127.9M689.2 26.4h2.4M689.2 127.9h2.4M691.2 55.1V149.6M690 55.1h2.4M690 149.6h2.4M692.3 72.4V136.9M691.1 72.4h2.4M691.1 136.9h2.4M693.2 36.3V137.9M692 36.3h2.4M692 137.9h2.4M694.2 16.6V103.2M693 103.2h2.4M695.1 16.6V120.4M693.9 120.4h2.4M696.2 72.8V170.1M695 72.8h2.4M695 170.1h2.4M697.2 40.3V147.9M696 40.3h2.4M696 147.9h2.4M698.6 47.2V128M697.4 47.2h2.4M697.4 128h2.4" stroke="#555" stroke-width="0.85" fill="none" stroke-opacity="0.78"/>
<path d="M548.5 133h1M549 67h1M550.5 88h1M552 71.5h1M553 107.5h1M554 120h1M555.5 87.5h1M557 47.5h1M557.5 111.5h1M560 112h1M560.5 90h1M561.5 61.5h1M562.5 53.5h1M563.5 93h1M564.5 69h1M566 99h1M567 39.5h1M568 85h1M569 88h1M569.5 73.5h1M571 79h1M571.5 105.5h1M573 90h1M573.5 64h1M574.5 56h1M576 85h1M577 60h1M578 128h1M579 67.5h1M580 96.5h1M581 79h1M582 75h1M583 127h1M583.5 85.5h1M585 79.5h1M586 82h1M587.5 72h1M588.5 90h1M589.5 62.5h1M590.5 101h1M591 107h1M592 113h1M593 95.5h1M594 125.5h1M595 109h1M596.5 90h1M597.5 73.5h1M598.5 85.5h1M599.5 57.5h1M600 66h1M601.5 97h1M602.5 82.5h1M603.5 55h1M604 85.5h1M605 67.5h1M607 84h1M607.5 59h1M609 77.5h1M609.5 114.5h1M610.5 107.5h1M611.5 95h1M612.5 121.5h1M613.5 49h1M614.5 77.5h1M615.5 91.5h1M617 97.5h1M618 68h1M619 60.5h1M620 65h1M621 54.5h1M622 80h1M622.5 92h1M623.5 69h1M624.5 105h1M625.5 109h1M626 110h1M627.5 86h1M628 76h1M629 50h1M630 67h1M631 79.5h1M632 70.5h1M633 100.5h1M634 71.5h1M635 111.5h1M635 112.5h1M635.5 69h1M637.5 77.5h1M638.5 89h1M639.5 88h1M640 64.5h1M642 96h1M643.5 97.5h1M644 93.5h1M645 80h1M647.5 85h1M648.5 114.5h1M650.5 105.5h1M651.5 100h1M652.5 74h1M653 83h1M654.5 101.5h1M655 96.5h1M656.5 83.5h1M658 107h1M659 56.5h1M660 90h1M661 100.5h1M662 76h1M663.5 78.5h1M664.5 86.5h1M665.5 83h1M666.5 110h1M668 72.5h1M669 52.5h1M670 106h1M671 78.5h1M672 81.5h1M673 94.5h1M674 73h1M674.5 88h1M676 41h1M677 93.5h1M678.5 132.5h1M679 69.5h1M680 98h1M681 68.5h1M682.5 85.5h1M684 118h1M685 105.5h1M687 80h1M688.5 92.5h1M689.5 45h1M690.5 77h1M691 102.5h1M692.5 104.5h1M693 87h1M694 53.5h1M695 64.5h1M696 121.5h1M697 94h1M698.5 87.5h1" stroke="#222" stroke-width="1" transform="translate(-0.5 0)" stroke-opacity="0.8"/>
<path d="M582.8 248V261.4M581.6 248h2.4M581.6 261.4h2.4M584.8 257V267M583.6 257h2.4M583.6 267h2.4M586.5 239.5V253.1M585.3 239.5h2.4M585.3 253.1h2.4M588.6 251.8V261.8M587.4 251.8h2.4M587.4 261.8h2.4M590.3 244.7V257.5M589.1 244.7h2.4M589.1 257.5h2.4M592.4 243.1V255.8M591.2 243.1h2.4M591.2 255.8h2.4M594.2 248.1V258.5M593 248.1h2.4M593 258.5h2.4M596.3 247.3V259.4M595.1 247.3h2.4M595.1 259.4h2.4M598.2 257.6V268.7M597 257.6h2.4M597 268.7h2.4M600 255.9V269.7M598.8 255.9h2.4M598.8 269.7h2.4M601.8 244.7V256.8M600.6 244.7h2.4M600.6 256.8h2.4M603.8 245.2V257.8M602.6 245.2h2.4M602.6 257.8h2.4M605.9 239.5V250M604.7 239.5h2.4M604.7 250h2.4M607.6 254.2V267.5M606.4 254.2h2.4M606.4 267.5h2.4M609.6 254.3V265.6M608.4 254.3h2.4M608.4 265.6h2.4M611.7 247.7V262M610.5 247.7h2.4M610.5 262h2.4M613.5 250.8V264.9M612.3 250.8h2.4M612.3 264.9h2.4M615.5 238.3V248.7M614.3 238.3h2.4M614.3 248.7h2.4M617.2 250.7V261.8M616 250.7h2.4M616 261.8h2.4M619.5 234.3V244.9M618.3 234.3h2.4M618.3 244.9h2.4M621.4 244.4V258.9M620.2 244.4h2.4M620.2 258.9h2.4M623.2 260.7V274M622 260.7h2.4M622 274h2.4M625.1 267.3V277.5M623.9 267.3h2.4M623.9 277.5h2.4M627.2 241.7V254.6M626 241.7h2.4M626 254.6h2.4M629.2 245.5V259.2M628 245.5h2.4M628 259.2h2.4M631 249.1V259.2M629.8 249.1h2.4M629.8 259.2h2.4M632.5 250.3V261.4M631.3 250.3h2.4M631.3 261.4h2.4M634.8 241.6V252.6M633.6 241.6h2.4M633.6 252.6h2.4M636.7 261.2V271.9M635.5 261.2h2.4M635.5 271.9h2.4M638.5 254.8V265.3M637.3 254.8h2.4M637.3 265.3h2.4M640.4 243.3V256.4M639.2 243.3h2.4M639.2 256.4h2.4M642.7 251.9V262.6M641.5 251.9h2.4M641.5 262.6h2.4M644.4 262.1V275.6M643.2 262.1h2.4M643.2 275.6h2.4M646.1 234.7V246.9M644.9 234.7h2.4M644.9 246.9h2.4M648.2 248.6V259.3M647 248.6h2.4M647 259.3h2.4M650.2 244.5V257M649 244.5h2.4M649 257h2.4M652.1 241V255.5M650.9 241h2.4M650.9 255.5h2.4M654 226.7V241.2M652.8 226.7h2.4M652.8 241.2h2.4M655.8 247.4V262.3M654.6 247.4h2.4M654.6 262.3h2.4M657.9 246.2V259M656.7 246.2h2.4M656.7 259h2.4M659.9 269.4V280M658.7 269.4h2.4M658.7 280h2.4M661.7 239.1V249.9M660.5 239.1h2.4M660.5 249.9h2.4M663.6 263.5V277.5M662.4 263.5h2.4M662.4 277.5h2.4M665.6 243.1V255.9M664.4 243.1h2.4M664.4 255.9h2.4M667.5 244.3V258.9M666.3 244.3h2.4M666.3 258.9h2.4M669.5 249.2V263.6M668.3 249.2h2.4M668.3 263.6h2.4M671.3 248.5V261.9M670.1 248.5h2.4M670.1 261.9h2.4M673.4 251.8V266M672.2 251.8h2.4M672.2 266h2.4M675.3 245.7V258.3M674.1 245.7h2.4M674.1 258.3h2.4M677.2 245.1V259.7M676 245.1h2.4M676 259.7h2.4M679.2 243.9V256.3M678 243.9h2.4M678 256.3h2.4M681 241.7V254.7M679.8 241.7h2.4M679.8 254.7h2.4M683 238.9V253.9M681.8 238.9h2.4M681.8 253.9h2.4M685.1 272.7V286.7M683.9 272.7h2.4M683.9 286.7h2.4M687 243.7V256.5M685.8 243.7h2.4M685.8 256.5h2.4M688.9 253.9V264.7M687.7 253.9h2.4M687.7 264.7h2.4M691 236.6V247.4M689.8 236.6h2.4M689.8 247.4h2.4" stroke="#555" stroke-width="0.7" fill="none"/>
<path d="M583 254.5h1M585 262h1M586.5 246.5h1M588.5 257h1M590.5 251h1M592.5 249.5h1M594 253.5h1M596.5 253.5h1M598 263h1M600 263h1M602 250.5h1M604 251.5h1M606 245h1M607.5 261h1M609.5 260h1M611.5 255h1M613.5 258h1M615.5 243.5h1M617 256.5h1M619.5 239.5h1M621.5 251.5h1M623 267.5h1M625 272.5h1M627 248h1M629 252.5h1M631 254h1M632.5 256h1M635 247h1M636.5 266.5h1M638.5 260h1M640.5 250h1M642.5 257.5h1M644.5 269h1M646 241h1M648 254h1M650 250.5h1M652 248.5h1M654 234h1M656 255h1M658 252.5h1M660 274.5h1M661.5 244.5h1M663.5 270.5h1M665.5 249.5h1M667.5 251.5h1M669.5 256.5h1M671.5 255h1M673.5 259h1M675.5 252h1M677 252.5h1M679 250h1M681 248h1M683 246.5h1M685 279.5h1M687 250h1M689 259.5h1M691 242h1" stroke="#222" stroke-width="1" transform="translate(-0.5 0)" stroke-opacity="0.8"/>
<g fill="#000"><circle cx="405.1" cy="39.4" r="1.6"/><circle cx="394.3" cy="49.3" r="1.6"/><circle cx="400.4" cy="56" r="1.6"/><circle cx="413.5" cy="59.2" r="1.6"/><circle cx="416.2" cy="63.8" r="1.6"/><circle cx="399.2" cy="65.5" r="1.6"/><circle cx="429.3" cy="66.9" r="1.6"/><circle cx="412.3" cy="68.6" r="1.6"/><circle cx="386.1" cy="71.8" r="1.6"/><circle cx="418.2" cy="72.4" r="1.6"/><circle cx="389.3" cy="77.4" r="1.6"/><circle cx="402.4" cy="74.5" r="1.6"/><circle cx="427.1" cy="78" r="1.6"/><circle cx="408.2" cy="79.8" r="1.6"/><circle cx="421.2" cy="81.2" r="1.6"/><circle cx="409.4" cy="86" r="1.6"/><circle cx="420.1" cy="86" r="1.6"/><circle cx="424.4" cy="86.6" r="1.6"/><circle cx="425.9" cy="89.7" r="1.6"/><circle cx="440.2" cy="88.2" r="1.6"/><circle cx="406.3" cy="93.2" r="1.6"/><circle cx="415" cy="92.9" r="1.6"/><circle cx="423.2" cy="93.5" r="1.6"/><circle cx="387.3" cy="96.8" r="1.6"/><circle cx="393.1" cy="96.1" r="1.6"/><circle cx="407.4" cy="96.8" r="1.6"/><circle cx="398.3" cy="99.1" r="1.6"/><circle cx="411.5" cy="99.1" r="1.6"/><circle cx="428.3" cy="98.8" r="1.6"/><circle cx="437.9" cy="97.9" r="1.6"/><circle cx="401.6" cy="102.8" r="1.6"/><circle cx="441" cy="101.7" r="1.6"/><circle cx="444.3" cy="100.9" r="1.6"/><circle cx="404.1" cy="109.6" r="1.6"/><circle cx="419.1" cy="106.7" r="1.6"/><circle cx="433.2" cy="108.2" r="1.6"/><circle cx="455.2" cy="106.7" r="1.6"/><circle cx="430.3" cy="112" r="1.6"/><circle cx="436.9" cy="113.2" r="1.6"/><circle cx="449" cy="113.7" r="1.6"/><circle cx="439.1" cy="116.7" r="1.6"/><circle cx="463.2" cy="115.1" r="1.6"/><circle cx="390.4" cy="119.4" r="1.6"/><circle cx="410.4" cy="117.5" r="1.6"/><circle cx="431.2" cy="119" r="1.6"/><circle cx="446.4" cy="120.5" r="1.6"/><circle cx="461.1" cy="122" r="1.6"/><circle cx="395.1" cy="124.6" r="1.6"/><circle cx="397.5" cy="124.9" r="1.6"/><circle cx="432.3" cy="126.9" r="1.6"/><circle cx="435.3" cy="129.6" r="1.6"/><circle cx="443.4" cy="130.7" r="1.6"/><circle cx="462.2" cy="127.8" r="1.6"/><circle cx="460.1" cy="130.7" r="1.6"/><circle cx="465.8" cy="132.5" r="1.6"/><circle cx="391.3" cy="134.5" r="1.6"/><circle cx="450.2" cy="136.8" r="1.6"/><circle cx="445.1" cy="139.5" r="1.6"/><circle cx="456.4" cy="140.4" r="1.6"/><circle cx="417.2" cy="144" r="1.6"/><circle cx="422.4" cy="142.4" r="1.6"/><circle cx="442.2" cy="143" r="1.6"/><circle cx="448.2" cy="142.4" r="1.6"/><circle cx="434.4" cy="146.5" r="1.6"/><circle cx="464.2" cy="145.6" r="1.6"/><circle cx="385.2" cy="149.5" r="1.6"/><circle cx="453.1" cy="159.4" r="1.6"/><circle cx="457.2" cy="157.4" r="1.6"/><circle cx="465.2" cy="159.4" r="1.6"/><circle cx="459" cy="164.9" r="1.6"/><circle cx="452.2" cy="173.7" r="1.6"/><circle cx="522.5" cy="41.1" r="1.6"/><circle cx="536.9" cy="46.3" r="1.6"/><circle cx="515" cy="55.1" r="1.6"/><circle cx="542.1" cy="56.2" r="1.6"/><circle cx="504.1" cy="59.7" r="1.6"/><circle cx="543.1" cy="69.2" r="1.6"/><circle cx="526" cy="75.1" r="1.6"/><circle cx="528.1" cy="73.8" r="1.6"/><circle cx="513.8" cy="78.3" r="1.6"/><circle cx="520.1" cy="79.1" r="1.6"/><circle cx="507.6" cy="82.4" r="1.6"/><circle cx="509.1" cy="85.3" r="1.6"/><circle cx="517.1" cy="85.3" r="1.6"/><circle cx="538" cy="83.9" r="1.6"/><circle cx="534.3" cy="87" r="1.6"/><circle cx="497" cy="88.2" r="1.6"/><circle cx="511.1" cy="90.6" r="1.6"/><circle cx="518.4" cy="89.1" r="1.6"/><circle cx="501.4" cy="91.4" r="1.6"/><circle cx="497.9" cy="95.8" r="1.6"/><circle cx="510.3" cy="94.7" r="1.6"/><circle cx="521.1" cy="96.6" r="1.6"/><circle cx="529.3" cy="93.8" r="1.6"/><circle cx="541" cy="95.6" r="1.6"/><circle cx="546.8" cy="96.2" r="1.6"/><circle cx="505.2" cy="98.8" r="1.6"/><circle cx="523.4" cy="103" r="1.6"/><circle cx="519.3" cy="104.4" r="1.6"/><circle cx="535.9" cy="101.8" r="1.6"/><circle cx="545.3" cy="103.8" r="1.6"/><circle cx="472.1" cy="109.3" r="1.6"/><circle cx="500.2" cy="107.3" r="1.6"/><circle cx="526.9" cy="108.7" r="1.6"/><circle cx="506.2" cy="111.6" r="1.6"/><circle cx="499.2" cy="114.7" r="1.6"/><circle cx="538.9" cy="113.5" r="1.6"/><circle cx="540.1" cy="116.3" r="1.6"/><circle cx="532.2" cy="117.3" r="1.6"/><circle cx="516.1" cy="117.8" r="1.6"/><circle cx="483.9" cy="119.6" r="1.6"/><circle cx="502.9" cy="118.8" r="1.6"/><circle cx="492" cy="120.2" r="1.6"/><circle cx="496.2" cy="121.4" r="1.6"/><circle cx="512.3" cy="122.8" r="1.6"/><circle cx="489.2" cy="125.7" r="1.6"/><circle cx="473.3" cy="129.3" r="1.6"/><circle cx="479.2" cy="128.4" r="1.6"/><circle cx="475.1" cy="132.5" r="1.6"/><circle cx="477.4" cy="132.5" r="1.6"/><circle cx="495" cy="132.5" r="1.6"/><circle cx="531.2" cy="132.2" r="1.6"/><circle cx="544.2" cy="136" r="1.6"/><circle cx="481" cy="137.4" r="1.6"/><circle cx="471" cy="140.1" r="1.6"/><circle cx="474.2" cy="143.4" r="1.6"/><circle cx="488.3" cy="144.8" r="1.6"/><circle cx="482.4" cy="149.5" r="1.6"/><circle cx="483.3" cy="147.7" r="1.6"/><circle cx="470.1" cy="152" r="1.6"/><circle cx="492.9" cy="151.6" r="1.6"/><circle cx="486.1" cy="153.6" r="1.6"/><circle cx="487.3" cy="152.6" r="1.6"/><circle cx="525.2" cy="149.1" r="1.6"/><circle cx="476.3" cy="167.4" r="1.6"/><circle cx="467.2" cy="175" r="1.6"/><circle cx="478.3" cy="179.3" r="1.6"/><circle cx="468.3" cy="179.3" r="1.6"/><circle cx="451.1" cy="181.1" r="1.6"/><circle cx="468.6" cy="180.7" r="1.6"/><circle cx="478.3" cy="180.3" r="1.6"/><circle cx="454.3" cy="191.4" r="1.6"/><circle cx="426.3" cy="246.3" r="1.6"/><circle cx="422.3" cy="254.7" r="1.6"/><circle cx="424.4" cy="262" r="1.6"/><circle cx="428.5" cy="256.8" r="1.6"/><circle cx="430.3" cy="251.1" r="1.6"/><circle cx="432.6" cy="251" r="1.6"/><circle cx="434.5" cy="259.3" r="1.6"/><circle cx="436.8" cy="267.1" r="1.6"/><circle cx="438.9" cy="285.3" r="1.6"/><circle cx="442.7" cy="288.5" r="1.6"/><circle cx="440.8" cy="292.9" r="1.6"/><circle cx="447.1" cy="293.7" r="1.6"/><circle cx="444.9" cy="296.6" r="1.6"/><circle cx="457.4" cy="300.2" r="1.6"/><circle cx="461.8" cy="297.5" r="1.6"/><circle cx="449" cy="312" r="1.6"/><circle cx="451.1" cy="313" r="1.6"/><circle cx="455.3" cy="313.6" r="1.6"/><circle cx="453.4" cy="309.5" r="1.6"/><circle cx="459.3" cy="313.6" r="1.6"/><circle cx="463.8" cy="309.8" r="1.6"/><circle cx="470" cy="306.1" r="1.6"/><circle cx="472.2" cy="309.8" r="1.6"/><circle cx="474.1" cy="311.1" r="1.6"/><circle cx="465.7" cy="325.6" r="1.6"/><circle cx="467.8" cy="330.6" r="1.6"/><circle cx="475.7" cy="312.1" r="1.6"/><circle cx="478.2" cy="302.1" r="1.6"/><circle cx="482.2" cy="312.1" r="1.6"/><circle cx="480.3" cy="320.2" r="1.6"/><circle cx="484.2" cy="299.8" r="1.6"/><circle cx="486.7" cy="303.6" r="1.6"/><circle cx="488.5" cy="309.9" r="1.6"/><circle cx="490.4" cy="274.7" r="1.6"/><circle cx="492.6" cy="278.7" r="1.6"/><circle cx="494.8" cy="266.5" r="1.6"/><circle cx="496.8" cy="256.8" r="1.6"/><circle cx="500.8" cy="254.9" r="1.6"/><circle cx="503" cy="252.6" r="1.6"/><circle cx="498.9" cy="236.7" r="1.6"/><circle cx="505.2" cy="274.7" r="1.6"/><circle cx="509.2" cy="270.5" r="1.6"/><circle cx="507.1" cy="244.5" r="1.6"/><circle cx="511.3" cy="249.5" r="1.6"/><circle cx="513.4" cy="251.6" r="1.6"/><circle cx="515.5" cy="256.4" r="1.6"/><circle cx="517.5" cy="255.2" r="1.6"/><circle cx="519.7" cy="258.9" r="1.6"/><circle cx="521.8" cy="252" r="1.6"/><circle cx="523.8" cy="252.4" r="1.6"/><circle cx="526" cy="250.1" r="1.6"/><circle cx="527.9" cy="248.2" r="1.6"/><circle cx="530.1" cy="246.4" r="1.6"/><circle cx="532.3" cy="279.7" r="1.6"/><circle cx="534.4" cy="250.1" r="1.6"/><circle cx="536.4" cy="259.3" r="1.6"/><circle cx="538.6" cy="242" r="1.6"/></g>
<path d="M384.5 92.3 L430.6 92.3 L431.8 92.7 L433 94.5 L434.2 97.3 L435.3 100.9 L436.5 105 L437.7 109.5 L438.9 114.3 L440.1 119.3 L441.2 124.2 L442.4 129 L443.6 133.3 L444.8 137.1 L446 139.5 L447.2 141.3 L448.3 142.7 L449.5 143.9 L450.7 145 L451.9 145.9 L453.1 146.7 L454.2 147.5 L455.4 148.1 L456.6 148.6 L457.8 149.1 L459 149.5 L460.2 149.8 L461.3 150.1 L462.5 150.3 L463.7 150.4 L464.9 150.5 L466.1 150.5 L467.2 150.5 L468.4 150.4 L469.6 150.3 L470.8 150.1 L472 149.8 L473.1 149.5 L474.3 149.1 L475.5 148.6 L476.7 148.1 L477.9 147.5 L479.1 146.7 L480.2 145.9 L481.4 145 L482.6 143.9 L483.8 142.7 L485 141.3 L486.1 139.5 L487.3 137.1 L488.5 133.3 L489.7 129 L490.9 124.2 L492 119.3 L493.2 114.3 L494.4 109.5 L495.6 105 L496.8 100.9 L498 97.3 L499.1 94.5 L500.3 92.7 L501.5 92.3 L547.5 92.3" fill="none" stroke="#f01010" stroke-width="1.1"/>
<path d="M384.5 253.2 L430.6 253.2 L431.8 253.7 L433 255.5 L434.2 258.3 L435.3 261.9 L436.5 266 L437.7 270.5 L438.9 275.3 L440.1 280.3 L441.2 285.2 L442.4 290 L443.6 294.3 L444.8 298.1 L446 300.5 L447.2 302.2 L448.3 303.7 L449.5 304.9 L450.7 306 L451.9 306.9 L453.1 307.7 L454.2 308.4 L455.4 309.1 L456.6 309.6 L457.8 310.1 L459 310.5 L460.2 310.8 L461.3 311 L462.5 311.2 L463.7 311.4 L464.9 311.5 L466.1 311.5 L467.2 311.5 L468.4 311.4 L469.6 311.2 L470.8 311 L472 310.8 L473.1 310.5 L474.3 310.1 L475.5 309.6 L476.7 309.1 L477.9 308.4 L479.1 307.7 L480.2 306.9 L481.4 306 L482.6 304.9 L483.8 303.7 L485 302.2 L486.1 300.5 L487.3 298.1 L488.5 294.3 L489.7 290 L490.9 285.2 L492 280.3 L493.2 275.3 L494.4 270.5 L495.6 266 L496.8 261.9 L498 258.3 L499.1 255.5 L500.3 253.7 L501.5 253.2 L547.5 253.2" fill="none" stroke="#f01010" stroke-width="1.1"/>
<path d="M547.5 92.3 L698.5 92.3" fill="none" stroke="#f01010" stroke-width="1.1"/>
<path d="M547.5 253.2 L698.5 253.2" fill="none" stroke="#f01010" stroke-width="1.1"/>
<path d="M398 341.4v-3.5M432.2 341.4v-3.5M466.4 341.4v-3.5M500.6 341.4v-3.5M534.8 341.4v-3.5M384.5 15.6h3.5M384.5 53.9h3.5M384.5 92.3h3.5M384.5 130.6h3.5M384.5 168.9h3.5M384.5 207.2h3.5M384.5 245.6h3.5M384.5 283.9h3.5M384.5 322.2h3.5" stroke="#555" stroke-width="0.8" fill="none"/>
<path d="M398 341.4v-3.5M398 15.6v3.5M432.2 341.4v-3.5M432.2 15.6v3.5M466.4 341.4v-3.5M466.4 15.6v3.5M500.6 341.4v-3.5M500.6 15.6v3.5M534.8 341.4v-3.5M534.8 15.6v3.5" stroke="#555" stroke-width="0.8" fill="none"/>
<path d="M560.2 341.4v-3.5M560.2 15.6v3.5M592 341.4v-3.5M592 15.6v3.5M623.8 341.4v-3.5M623.8 15.6v3.5M655.6 341.4v-3.5M655.6 15.6v3.5M687.4 341.4v-3.5M687.4 15.6v3.5M547.5 15.6h3.5M698.5 15.6h-3.5M547.5 53.9h3.5M698.5 53.9h-3.5M547.5 92.3h3.5M698.5 92.3h-3.5M547.5 130.6h3.5M698.5 130.6h-3.5M547.5 168.9h3.5M698.5 168.9h-3.5M547.5 207.2h3.5M698.5 207.2h-3.5M547.5 245.6h3.5M698.5 245.6h-3.5M547.5 283.9h3.5M698.5 283.9h-3.5M547.5 322.2h3.5M698.5 322.2h-3.5" stroke="#555" stroke-width="0.8" fill="none"/>
<rect x="384.5" y="15.6" width="163" height="325.8" fill="none" stroke="#444" stroke-width="1"/>
<rect x="547.5" y="15.6" width="151" height="325.8" fill="none" stroke="#444" stroke-width="1"/>
<text x="380.5" y="18.1" font-size="7.2" text-anchor="end" textLength="14.77" lengthAdjust="spacingAndGlyphs" stroke="#000" stroke-width="0.2">-0.02</text>
<text x="380.5" y="56.4" font-size="7.2" text-anchor="end" textLength="14.77" lengthAdjust="spacingAndGlyphs" stroke="#000" stroke-width="0.2">-0.01</text>
<text x="380.5" y="94.8" font-size="7.2" text-anchor="end" textLength="3.6" lengthAdjust="spacingAndGlyphs" stroke="#000" stroke-width="0.2">0</text>
<text x="380.5" y="133.1" font-size="7.2" text-anchor="end" textLength="12.61" lengthAdjust="spacingAndGlyphs" stroke="#000" stroke-width="0.2">0.01</text>
<text x="380.5" y="171.4" font-size="7.2" text-anchor="end" textLength="12.61" lengthAdjust="spacingAndGlyphs" stroke="#000" stroke-width="0.2">0.02</text>
<text x="380.5" y="209.7" font-size="7.2" text-anchor="end" textLength="12.61" lengthAdjust="spacingAndGlyphs" stroke="#000" stroke-width="0.2">0.03</text>
<text x="380.5" y="248.1" font-size="7.2" text-anchor="end" textLength="12.61" lengthAdjust="spacingAndGlyphs" stroke="#000" stroke-width="0.2">0.04</text>
<text x="380.5" y="286.4" font-size="7.2" text-anchor="end" textLength="12.61" lengthAdjust="spacingAndGlyphs" stroke="#000" stroke-width="0.2">0.05</text>
<text x="380.5" y="324.7" font-size="7.2" text-anchor="end" textLength="12.61" lengthAdjust="spacingAndGlyphs" stroke="#000" stroke-width="0.2">0.06</text>
<text x="398" y="351.9" font-size="7.6" text-anchor="middle" textLength="11.79" lengthAdjust="spacingAndGlyphs" stroke="#000" stroke-width="0.2">-0.1</text>
<text x="432.2" y="351.9" font-size="7.6" text-anchor="middle" textLength="15.59" lengthAdjust="spacingAndGlyphs" stroke="#000" stroke-width="0.2">-0.05</text>
<text x="466.4" y="351.9" font-size="7.6" text-anchor="middle" textLength="3.8" lengthAdjust="spacingAndGlyphs" stroke="#000" stroke-width="0.2">0</text>
<text x="500.6" y="351.9" font-size="7.6" text-anchor="middle" textLength="13.31" lengthAdjust="spacingAndGlyphs" stroke="#000" stroke-width="0.2">0.05</text>
<text x="534.8" y="351.9" font-size="7.6" text-anchor="middle" textLength="9.51" lengthAdjust="spacingAndGlyphs" stroke="#000" stroke-width="0.2">0.1</text>
<text x="560.2" y="351.9" font-size="7.6" text-anchor="middle" textLength="11.79" lengthAdjust="spacingAndGlyphs" stroke="#000" stroke-width="0.2">-0.1</text>
<text x="592" y="351.9" font-size="7.6" text-anchor="middle" textLength="15.59" lengthAdjust="spacingAndGlyphs" stroke="#000" stroke-width="0.2">-0.05</text>
<text x="623.8" y="351.9" font-size="7.6" text-anchor="middle" textLength="3.8" lengthAdjust="spacingAndGlyphs" stroke="#000" stroke-width="0.2">0</text>
<text x="655.6" y="351.9" font-size="7.6" text-anchor="middle" textLength="13.31" lengthAdjust="spacingAndGlyphs" stroke="#000" stroke-width="0.2">0.05</text>
<text x="687.4" y="351.9" font-size="7.6" text-anchor="middle" textLength="9.51" lengthAdjust="spacingAndGlyphs" stroke="#000" stroke-width="0.2">0.1</text>
<text x="466.2" y="363" font-size="10" text-anchor="middle" textLength="133.5" lengthAdjust="spacingAndGlyphs" stroke="#000" stroke-width="0.2">Time from transit center (days)</text>
<text x="623.3" y="363" font-size="10" text-anchor="middle" textLength="133.5" lengthAdjust="spacingAndGlyphs" stroke="#000" stroke-width="0.2">Time from transit center (days)</text>
<text x="364.9" y="178.2" font-size="10.1" text-anchor="middle" textLength="110" lengthAdjust="spacingAndGlyphs" transform="rotate(-90 364.9 178.2)" stroke="#000" stroke-width="0.2">&#916; (mag) - Arbitrary offsets</text>
<text x="398.6" y="26.7" font-size="9" textLength="28.2" lengthAdjust="spacingAndGlyphs" stroke="#000" stroke-width="0.2">R-band</text>
<text x="439" y="26.7" font-size="9" textLength="97.9" lengthAdjust="spacingAndGlyphs" stroke="#000" stroke-width="0.2">2016 Dec 1 - PEST 0.3m</text>
<text x="398.2" y="218.7" font-size="9" stroke="#000" stroke-width="0.2">i</text>
<text x="439" y="218.7" font-size="9" textLength="97" lengthAdjust="spacingAndGlyphs" stroke="#000" stroke-width="0.2">2017 Oct 2 - CHAT 0.7m</text>
<text x="547.8" y="8.9" font-size="9.8" text-anchor="middle" font-weight="bold" textLength="151.1" lengthAdjust="spacingAndGlyphs">HATS-63 Follow-up Light Curves</text>
<path d="M40.2 442.6 L41.5 444.3 L42.7 446.1 L44 447.8 L45.3 449.6 L46.6 451.5 L47.8 453.3 L49.1 455.2 L50.4 457.1 L51.6 459.1 L52.9 461 L54.2 463 L55.5 465 L56.7 467 L58 469.1 L59.3 471.1 L60.5 473.2 L61.8 475.2 L63.1 477.3 L64.4 479.4 L65.6 481.5 L66.9 483.5 L68.2 485.6 L69.4 487.7 L70.7 489.7 L72 491.8 L73.3 493.8 L74.5 495.9 L75.8 497.9 L77.1 499.9 L78.3 501.9 L79.6 503.8 L80.9 505.8 L82.2 507.7 L83.4 509.6 L84.7 511.4 L86 513.3 L87.3 515.1 L88.5 516.8 L89.8 518.6 L91.1 520.3 L92.3 521.9 L93.6 523.5 L94.9 525.1 L96.2 526.6 L97.4 528.1 L98.7 529.6 L100 531 L101.2 532.3 L102.5 533.6 L103.8 534.9 L105.1 536.1 L106.3 537.2 L107.6 538.3 L108.9 539.3 L110.1 540.3 L111.4 541.2 L112.7 542 L114 542.8 L115.2 543.6 L116.5 544.2 L117.8 544.9 L119 545.4 L120.3 545.9 L121.6 546.3 L122.9 546.7 L124.1 547 L125.4 547.2 L126.7 547.3 L127.9 547.4 L129.2 547.5 L130.5 547.4 L131.8 547.3 L133 547.2 L134.3 547 L135.6 546.7 L136.8 546.3 L138.1 545.9 L139.4 545.4 L140.7 544.9 L141.9 544.2 L143.2 543.6 L144.5 542.8 L145.7 542 L147 541.2 L148.3 540.3 L149.6 539.3 L150.8 538.3 L152.1 537.2 L153.4 536.1 L154.6 534.9 L155.9 533.6 L157.2 532.3 L158.5 531 L159.7 529.6 L161 528.1 L162.3 526.6 L163.6 525.1 L164.8 523.5 L166.1 521.9 L167.4 520.3 L168.6 518.6 L169.9 516.8 L171.2 515.1 L172.5 513.3 L173.7 511.4 L175 509.6 L176.3 507.7 L177.5 505.8 L178.8 503.8 L180.1 501.9 L181.4 499.9 L182.6 497.9 L183.9 495.9 L185.2 493.8 L186.4 491.8 L187.7 489.7 L189 487.7 L190.3 485.6 L191.5 483.5 L192.8 481.4 L194.1 479.4 L195.3 477.3 L196.6 475.2 L197.9 473.2 L199.2 471.1 L200.4 469.1 L201.7 467 L203 465 L204.2 463 L205.5 461 L206.8 459.1 L208.1 457.1 L209.3 455.2 L210.6 453.3 L211.9 451.5 L213.1 449.6 L214.4 447.8 L215.7 446.1 L217 444.3 L218.2 442.6 L219.5 441 L220.8 439.4 L222 437.8 L223.3 436.3 L224.6 434.8 L225.9 433.3 L227.1 431.9 L228.4 430.6 L229.7 429.3 L230.9 428 L232.2 426.8 L233.5 425.7 L234.8 424.6 L236 423.6 L237.3 422.6 L238.6 421.7 L239.9 420.9 L241.1 420.1 L242.4 419.3 L243.7 418.7 L244.9 418 L246.2 417.5 L247.5 417 L248.8 416.6 L250 416.2 L251.3 415.9 L252.6 415.7 L253.8 415.6 L255.1 415.5 L256.4 415.4 L257.7 415.5 L258.9 415.6 L260.2 415.7 L261.5 415.9 L262.7 416.2 L264 416.6 L265.3 417 L266.6 417.5 L267.8 418 L269.1 418.7 L270.4 419.3 L271.6 420.1 L272.9 420.9 L274.2 421.7 L275.5 422.6 L276.7 423.6 L278 424.6 L279.3 425.7 L280.5 426.8 L281.8 428 L283.1 429.3 L284.4 430.6 L285.6 431.9 L286.9 433.3 L288.2 434.8 L289.4 436.3 L290.7 437.8 L292 439.4 L293.3 441 L294.5 442.6 L295.8 444.3 L297.1 446.1 L298.3 447.8 L299.6 449.6 L300.9 451.5 L302.2 453.3 L303.4 455.2 L304.7 457.1 L306 459.1 L307.2 461 L308.5 463 L309.8 465 L311.1 467 L312.3 469.1 L313.6 471.1 L314.9 473.2 L316.2 475.2 L317.4 477.3 L318.7 479.4 L320 481.5 L321.2 483.5 L322.5 485.6 L323.8 487.7 L325.1 489.7 L326.3 491.8 L327.6 493.8 L328.9 495.9 L330.1 497.9 L331.4 499.9 L332.7 501.9 L334 503.8 L335.2 505.8 L336.5 507.7 L337.8 509.6 L339 511.4 L340.3 513.3 L341.6 515.1 L342.9 516.8 L344.1 518.6 L345.4 520.3" fill="none" stroke="#555" stroke-width="0.8"/>
<path d="M92.8 501.6V539.2M91.5 501.6h2.6M91.5 539.2h2.6M100.4 513.3V549.7M99.1 513.3h2.6M99.1 549.7h2.6M137.2 520V556.5M135.9 520h2.6M135.9 556.5h2.6M138.5 534.5V572.7M137.2 534.5h2.6M137.2 572.7h2.6M162 501.4V540.5M160.7 501.4h2.6M160.7 540.5h2.6M212.4 474V512M211.1 474h2.6M211.1 512h2.6M221.3 448.2V485.6M220 448.2h2.6M220 485.6h2.6M225.7 398.5V435.1M224.4 398.5h2.6M224.4 435.1h2.6M233 395.2V432.4M231.7 395.2h2.6M231.7 432.4h2.6M259.9 391.7V429.2M258.6 391.7h2.6M258.6 429.2h2.6M265.9 410V447.4M264.6 410h2.6M264.6 447.4h2.6M299.5 394.4V433M298.2 394.4h2.6M298.2 433h2.6M303.3 417.5V456.3M302 417.5h2.6M302 456.3h2.6" stroke="#cc7777" stroke-width="0.8" fill="none"/>
<path d="M92.8 517.4L96.3 522.8L89.3 522.8ZM100.4 527.9L103.9 533.3L96.9 533.3ZM137.2 534.8L140.7 540.2L133.7 540.2ZM138.5 550.4L142 555.8L135 555.8ZM162 517.9L165.5 523.3L158.5 523.3ZM212.4 489.4L215.9 494.8L208.9 494.8ZM221.3 463.1L224.8 468.5L217.8 468.5ZM225.7 413.4L229.2 418.8L222.2 418.8ZM233 410.1L236.5 415.5L229.5 415.5ZM259.9 406.9L263.4 412.3L256.4 412.3ZM265.9 424.8L269.4 430.2L262.4 430.2ZM299.5 410.1L303 415.5L296 415.5ZM303.3 432.9L306.8 438.3L299.8 438.3Z" fill="#8b0000"/>
<path d="M81 395.3H108M81 393.8v3M108 393.8v3" stroke="#cc7777" stroke-width="0.8" fill="none"/>
<path d="M94.5 392L98 397.4L91 397.4Z" fill="#8b0000"/>
<text x="42" y="398.6" font-size="9.4" textLength="33" lengthAdjust="spacingAndGlyphs" stroke="#000" stroke-width="0.2">FEROS</text>
<path d="M40.2 626.9H345.4" stroke="#333" stroke-width="0.8" stroke-dasharray="1 1.5"/>
<path d="M40.2 716.9H345.4" stroke="#333" stroke-width="0.8" stroke-dasharray="1 1.5"/>
<path d="M92.6 613.9V637.4M91.3 613.9h2.6M91.3 637.4h2.6M100.5 615.3V638.3M99.2 615.3h2.6M99.2 638.3h2.6M137.4 610.5V632.9M136.1 610.5h2.6M136.1 632.9h2.6M138.5 620.4V643.6M137.2 620.4h2.6M137.2 643.6h2.6M162.3 611.6V635.7M161 611.6h2.6M161 635.7h2.6M212.4 642.5V666.3M211.1 642.5h2.6M211.1 666.3h2.6M221.2 633.4V656.9M219.9 633.4h2.6M219.9 656.9h2.6M225.7 605.4V628.6M224.4 605.4h2.6M224.4 628.6h2.6M233.3 607.7V631.4M232 607.7h2.6M232 631.4h2.6M259.7 612.2V636M258.4 612.2h2.6M258.4 636h2.6M265.9 622.4V645.9M264.6 622.4h2.6M264.6 645.9h2.6M299.3 591.5V615.3M298 591.5h2.6M298 615.3h2.6M303.5 603.1V626.9M302.2 603.1h2.6M302.2 626.9h2.6" stroke="#cc7777" stroke-width="0.8" fill="none"/>
<path d="M92.6 621.9L96.1 627.3L89.1 627.3ZM100.5 623.1L104 628.5L97 628.5ZM137.4 618.5L140.9 623.9L133.9 623.9ZM138.5 628.4L142 633.8L135 633.8ZM162.3 619.9L165.8 625.3L158.8 625.3ZM212.4 650.8L215.9 656.2L208.9 656.2ZM221.2 641.4L224.7 646.8L217.7 646.8ZM225.7 613.4L229.2 618.8L222.2 618.8ZM233.3 616L236.8 621.4L229.8 621.4ZM259.7 620.5L263.2 625.9L256.2 625.9ZM265.9 630.4L269.4 635.8L262.4 635.8ZM299.3 600.4L302.8 605.8L295.8 605.8ZM303.5 611.4L307 616.8L300 616.8Z" fill="#8b0000"/>
<path d="M92.6 721V738.5M91.3 721h2.6M91.3 738.5h2.6M100.5 729.4V744.5M99.2 729.4h2.6M99.2 744.5h2.6M137.4 686.1V701.1M136.1 686.1h2.6M136.1 701.1h2.6M138.5 746.7V762.6M137.2 746.7h2.6M137.2 762.6h2.6M162.3 694V713.9M161 694h2.6M161 713.9h2.6M212.4 700.5V717.5M211.1 700.5h2.6M211.1 717.5h2.6M221.2 703V720M219.9 703h2.6M219.9 720h2.6M225.7 703V720M224.4 703h2.6M224.4 720h2.6M233.3 721.8V736.5M232 721.8h2.6M232 736.5h2.6M259.7 743V761.7M258.4 743h2.6M258.4 761.7h2.6M265.9 700.5V717.5M264.6 700.5h2.6M264.6 717.5h2.6M299.3 685.5V704.2M298 685.5h2.6M298 704.2h2.6M303.5 695.7V716.4M302.2 695.7h2.6M302.2 716.4h2.6" stroke="#cc7777" stroke-width="0.8" fill="none"/>
<path d="M92.6 725.9L96.1 731.3L89.1 731.3ZM100.5 733.5L104 738.9L97 738.9ZM137.4 689.9L140.9 695.3L133.9 695.3ZM138.5 751.1L142 756.5L135 756.5ZM162.3 700.7L165.8 706.1L158.8 706.1ZM212.4 705.1L215.9 710.5L208.9 710.5ZM221.2 707.4L224.7 712.8L217.7 712.8ZM225.7 707.4L229.2 712.8L222.2 712.8ZM233.3 725.5L236.8 730.9L229.8 730.9ZM259.7 748.5L263.2 753.9L256.2 753.9ZM265.9 705.1L269.4 710.5L262.4 710.5ZM299.3 691.3L302.8 696.7L295.8 696.7ZM303.5 702L307 707.4L300 707.4Z" fill="#8b0000"/>
<path d="M65.6 575.1v-3.5M65.6 387.8v3.5M116.5 575.1v-3.5M116.5 387.8v3.5M167.4 575.1v-3.5M167.4 387.8v3.5M218.2 575.1v-3.5M218.2 387.8v3.5M269.1 575.1v-3.5M269.1 387.8v3.5M320 575.1v-3.5M320 387.8v3.5M40.2 387.8h3.5M345.4 387.8h-3.5M40.2 411.2h3.5M345.4 411.2h-3.5M40.2 434.6h3.5M345.4 434.6h-3.5M40.2 458h3.5M345.4 458h-3.5M40.2 481.5h3.5M345.4 481.5h-3.5M40.2 504.9h3.5M345.4 504.9h-3.5M40.2 528.3h3.5M345.4 528.3h-3.5M40.2 551.7h3.5M345.4 551.7h-3.5M40.2 575.1h3.5M345.4 575.1h-3.5" stroke="#555" stroke-width="0.8" fill="none"/>
<path d="M65.6 671.1v-3.5M65.6 582.7v3.5M116.5 671.1v-3.5M116.5 582.7v3.5M167.4 671.1v-3.5M167.4 582.7v3.5M218.2 671.1v-3.5M218.2 582.7v3.5M269.1 671.1v-3.5M269.1 582.7v3.5M320 671.1v-3.5M320 582.7v3.5M40.2 582.7h3.5M345.4 582.7h-3.5M40.2 597.4h3.5M345.4 597.4h-3.5M40.2 612.2h3.5M345.4 612.2h-3.5M40.2 626.9h3.5M345.4 626.9h-3.5M40.2 641.6h3.5M345.4 641.6h-3.5M40.2 656.4h3.5M345.4 656.4h-3.5M40.2 671.1h3.5M345.4 671.1h-3.5" stroke="#555" stroke-width="0.8" fill="none"/>
<path d="M65.6 770.2v-3.5M65.6 681.3v3.5M116.5 770.2v-3.5M116.5 681.3v3.5M167.4 770.2v-3.5M167.4 681.3v3.5M218.2 770.2v-3.5M218.2 681.3v3.5M269.1 770.2v-3.5M269.1 681.3v3.5M320 770.2v-3.5M320 681.3v3.5M40.2 681.3h3.5M345.4 681.3h-3.5M40.2 690.2h3.5M345.4 690.2h-3.5M40.2 699.1h3.5M345.4 699.1h-3.5M40.2 708h3.5M345.4 708h-3.5M40.2 716.9h3.5M345.4 716.9h-3.5M40.2 725.8h3.5M345.4 725.8h-3.5M40.2 734.6h3.5M345.4 734.6h-3.5M40.2 743.5h3.5M345.4 743.5h-3.5M40.2 752.4h3.5M345.4 752.4h-3.5M40.2 761.3h3.5M345.4 761.3h-3.5M40.2 770.2h3.5M345.4 770.2h-3.5" stroke="#555" stroke-width="0.8" fill="none"/>
<rect x="40.2" y="387.8" width="305.2" height="187.3" fill="none" stroke="#555" stroke-width="1"/>
<rect x="40.2" y="582.7" width="305.2" height="88.4" fill="none" stroke="#555" stroke-width="1"/>
<rect x="40.2" y="681.3" width="305.2" height="88.9" fill="none" stroke="#555" stroke-width="1"/>
<text x="33.8" y="391.4" font-size="10" text-anchor="end" textLength="15.18" lengthAdjust="spacingAndGlyphs" stroke="#000" stroke-width="0.2">200</text>
<text x="33.8" y="414.8" font-size="10" text-anchor="end" textLength="15.18" lengthAdjust="spacingAndGlyphs" stroke="#000" stroke-width="0.2">150</text>
<text x="33.8" y="438.2" font-size="10" text-anchor="end" textLength="15.18" lengthAdjust="spacingAndGlyphs" stroke="#000" stroke-width="0.2">100</text>
<text x="33.8" y="461.6" font-size="10" text-anchor="end" textLength="10.12" lengthAdjust="spacingAndGlyphs" stroke="#000" stroke-width="0.2">50</text>
<text x="33.8" y="485" font-size="10" text-anchor="end" textLength="5.06" lengthAdjust="spacingAndGlyphs" stroke="#000" stroke-width="0.2">0</text>
<text x="33.8" y="508.4" font-size="10" text-anchor="end" textLength="13.15" lengthAdjust="spacingAndGlyphs" stroke="#000" stroke-width="0.2">-50</text>
<text x="33.8" y="531.8" font-size="10" text-anchor="end" textLength="18.21" lengthAdjust="spacingAndGlyphs" stroke="#000" stroke-width="0.2">-100</text>
<text x="33.8" y="555.2" font-size="10" text-anchor="end" textLength="18.21" lengthAdjust="spacingAndGlyphs" stroke="#000" stroke-width="0.2">-150</text>
<text x="33.8" y="578.6" font-size="10" text-anchor="end" textLength="18.21" lengthAdjust="spacingAndGlyphs" stroke="#000" stroke-width="0.2">-200</text>
<text x="33.8" y="586.2" font-size="10" text-anchor="end" textLength="15.18" lengthAdjust="spacingAndGlyphs" stroke="#000" stroke-width="0.2">150</text>
<text x="33.8" y="601" font-size="10" text-anchor="end" textLength="15.18" lengthAdjust="spacingAndGlyphs" stroke="#000" stroke-width="0.2">100</text>
<text x="33.8" y="615.7" font-size="10" text-anchor="end" textLength="10.12" lengthAdjust="spacingAndGlyphs" stroke="#000" stroke-width="0.2">50</text>
<text x="33.8" y="630.5" font-size="10" text-anchor="end" textLength="5.06" lengthAdjust="spacingAndGlyphs" stroke="#000" stroke-width="0.2">0</text>
<text x="33.8" y="645.2" font-size="10" text-anchor="end" textLength="13.15" lengthAdjust="spacingAndGlyphs" stroke="#000" stroke-width="0.2">-50</text>
<text x="33.8" y="659.9" font-size="10" text-anchor="end" textLength="18.21" lengthAdjust="spacingAndGlyphs" stroke="#000" stroke-width="0.2">-100</text>
<text x="33.8" y="674.6" font-size="10" text-anchor="end" textLength="18.21" lengthAdjust="spacingAndGlyphs" stroke="#000" stroke-width="0.2">-150</text>
<text x="33.8" y="684.8" font-size="10" text-anchor="end" textLength="10.12" lengthAdjust="spacingAndGlyphs" stroke="#000" stroke-width="0.2">80</text>
<text x="33.8" y="693.7" font-size="10" text-anchor="end" textLength="10.12" lengthAdjust="spacingAndGlyphs" stroke="#000" stroke-width="0.2">60</text>
<text x="33.8" y="702.6" font-size="10" text-anchor="end" textLength="10.12" lengthAdjust="spacingAndGlyphs" stroke="#000" stroke-width="0.2">40</text>
<text x="33.8" y="711.5" font-size="10" text-anchor="end" textLength="10.12" lengthAdjust="spacingAndGlyphs" stroke="#000" stroke-width="0.2">20</text>
<text x="33.8" y="720.4" font-size="10" text-anchor="end" textLength="5.06" lengthAdjust="spacingAndGlyphs" stroke="#000" stroke-width="0.2">0</text>
<text x="33.8" y="729.3" font-size="10" text-anchor="end" textLength="13.15" lengthAdjust="spacingAndGlyphs" stroke="#000" stroke-width="0.2">-20</text>
<text x="33.8" y="738.2" font-size="10" text-anchor="end" textLength="13.15" lengthAdjust="spacingAndGlyphs" stroke="#000" stroke-width="0.2">-40</text>
<text x="33.8" y="747.1" font-size="10" text-anchor="end" textLength="13.15" lengthAdjust="spacingAndGlyphs" stroke="#000" stroke-width="0.2">-60</text>
<text x="33.8" y="756" font-size="10" text-anchor="end" textLength="13.15" lengthAdjust="spacingAndGlyphs" stroke="#000" stroke-width="0.2">-80</text>
<text x="33.8" y="764.9" font-size="10" text-anchor="end" textLength="18.21" lengthAdjust="spacingAndGlyphs" stroke="#000" stroke-width="0.2">-100</text>
<text x="33.8" y="773.8" font-size="10" text-anchor="end" textLength="18.21" lengthAdjust="spacingAndGlyphs" stroke="#000" stroke-width="0.2">-120</text>
<text x="65.6" y="784.4" font-size="10" text-anchor="middle" textLength="12.79" lengthAdjust="spacingAndGlyphs" stroke="#000" stroke-width="0.2">0.0</text>
<text x="116.5" y="784.4" font-size="10" text-anchor="middle" textLength="12.79" lengthAdjust="spacingAndGlyphs" stroke="#000" stroke-width="0.2">0.2</text>
<text x="167.4" y="784.4" font-size="10" text-anchor="middle" textLength="12.79" lengthAdjust="spacingAndGlyphs" stroke="#000" stroke-width="0.2">0.4</text>
<text x="218.2" y="784.4" font-size="10" text-anchor="middle" textLength="12.79" lengthAdjust="spacingAndGlyphs" stroke="#000" stroke-width="0.2">0.6</text>
<text x="269.1" y="784.4" font-size="10" text-anchor="middle" textLength="12.79" lengthAdjust="spacingAndGlyphs" stroke="#000" stroke-width="0.2">0.8</text>
<text x="320" y="784.4" font-size="10" text-anchor="middle" textLength="12.79" lengthAdjust="spacingAndGlyphs" stroke="#000" stroke-width="0.2">1.0</text>
<text x="192.2" y="376.2" font-size="9.8" text-anchor="middle" font-weight="bold" textLength="103.8" lengthAdjust="spacingAndGlyphs">HATS-63 RVs and BSs</text>
<text x="13.8" y="481" font-size="8.6" text-anchor="middle" transform="rotate(-90 13.8 481)" stroke="#000" stroke-width="0.2">RV (ms<tspan font-size="6" dy="-3.5">-1</tspan><tspan dy="3.5">)</tspan></text>
<text x="13.8" y="627" font-size="8.6" text-anchor="middle" transform="rotate(-90 13.8 627)" stroke="#000" stroke-width="0.2">O-C (ms<tspan font-size="6" dy="-3.5">-1</tspan><tspan dy="3.5">)</tspan></text>
<text x="13.8" y="716.7" font-size="8.6" text-anchor="middle" transform="rotate(-90 13.8 716.7)" stroke="#000" stroke-width="0.2">BS (ms<tspan font-size="6" dy="-3.5">-1</tspan><tspan dy="3.5">)</tspan></text>
<text x="193.2" y="792" font-size="9.9" text-anchor="middle" stroke="#000" stroke-width="0.2">Phase with respect to T<tspan font-size="6.8" dy="2.5">c</tspan></text>
<clipPath id="cmdclip"><rect x="396.3" y="395.1" width="292.3" height="139.1"/></clipPath>
<path d="M403 395.1L407.5 400L412.1 405L416.8 409.9L421.6 414.9L426.4 419.8L431.2 424.8L436.1 429.7L441 434.7L445.9 439.6L450.8 444.6L455.7 449.5L460.7 454.5L465.6 459.4L470.6 464.4L475.6 469.3L480.5 474.2L485.5 479.2L490.5 484.1L495.6 489.1L500.6 494L505.6 499L510.6 503.9L515.7 508.9L520.7 513.8L525.8 518.8L530.9 523.7L535.9 528.7L541 533.6M410.3 395.1L414.6 400L419 405L423.5 409.9L428.1 414.9L432.7 419.8L437.3 424.8L442 429.7L446.7 434.7L451.4 439.6L456.1 444.6L460.8 449.5L465.5 454.5L470.3 459.4L475 464.4L479.8 469.3L484.6 474.2L489.4 479.2L494.2 484.1L499 489.1L503.8 494L508.6 499L513.4 503.9L518.3 508.9L523.1 513.8L527.9 518.8L532.8 523.7L537.6 528.7L542.5 533.6M420 395.1L424.5 400L429 405L433.5 409.9L438 414.9L442.5 419.8L447 424.8L451.5 429.7L456 434.7L460.5 439.6L465 444.6L469.5 449.5L474 454.5L478.5 459.4L483 464.4L487.5 469.3L492 474.2L496.5 479.2L501 484.1L505.5 489.1L510 494L514.5 499L519 503.9L523.5 508.9L528 513.8L532.5 518.8L537 523.7L541.5 528.7L546 533.6M432.6 395.1L436.7 400L440.9 405L445 409.9L449.1 414.9L453.3 419.8L457.4 424.8L461.5 429.7L465.7 434.7L469.8 439.6L473.9 444.6L478.1 449.5L482.2 454.5L486.3 459.4L490.4 464.4L494.6 469.3L498.7 474.2L502.8 479.2L507 484.1L511.1 489.1L515.2 494L519.4 499L523.5 503.9L527.6 508.9L531.8 513.8L535.9 518.8L540 523.7L544.2 528.7L548.3 533.6M441.1 395.1L445 400L448.9 405L452.8 409.9L456.7 414.9L460.7 419.8L464.6 424.8L468.5 429.7L472.4 434.7L476.3 439.6L480.2 444.6L484.1 449.5L488 454.5L491.9 459.4L495.9 464.4L499.8 469.3L503.7 474.2L507.6 479.2L511.5 484.1L515.4 489.1L519.3 494L523.2 499L527.1 503.9L531 508.9L535 513.8L538.9 518.8L542.8 523.7L546.7 528.7L550.6 533.6M446.3 395.1L450.1 400L453.9 405L457.7 409.9L461.5 414.9L465.4 419.8L469.2 424.8L473 429.7L476.8 434.7L480.6 439.6L484.4 444.6L488.2 449.5L492 454.5L495.8 459.4L499.6 464.4L503.5 469.3L507.3 474.2L511.1 479.2L514.9 484.1L518.7 489.1L522.5 494L526.3 499L530.1 503.9L533.9 508.9L537.8 513.8L541.6 518.8L545.4 523.7L549.2 528.7L553 533.6M453.1 395.1L456.8 400L460.4 405L464.1 409.9L467.7 414.9L471.4 419.8L475 424.8L478.7 429.7L482.4 434.7L486 439.6L489.7 444.6L493.3 449.5L497 454.5L500.6 459.4L504.3 464.4L508 469.3L511.6 474.2L515.3 479.2L518.9 484.1L522.6 489.1L526.2 494L529.9 499L533.6 503.9L537.2 508.9L540.9 513.8L544.5 518.8L548.2 523.7L551.8 528.7L555.5 533.6M461.7 395.1L465.1 400L468.5 405L472 409.9L475.4 414.9L478.8 419.8L482.2 424.8L485.6 429.7L489 434.7L492.5 439.6L495.9 444.6L499.3 449.5L502.7 454.5L506.1 459.4L509.5 464.4L513 469.3L516.4 474.2L519.8 479.2L523.2 484.1L526.6 489.1L530.1 494L533.5 499L536.9 503.9L540.3 508.9L543.7 513.8L547.1 518.8L550.6 523.7L554 528.7L557.4 533.6M469.1 395.1L472.5 400L475.8 405L479.2 409.9L482.5 414.9L485.9 419.8L489.2 424.8L492.6 429.7L496 434.7L499.3 439.6L502.7 444.6L506 449.5L509.4 454.5L512.7 459.4L516.1 464.4L519.5 469.3L522.8 474.2L526.2 479.2L529.5 484.1L532.9 489.1L536.2 494L539.6 499L543 503.9L546.3 508.9L549.7 513.8L553 518.8L556.4 523.7L559.7 528.7L563.1 533.6M476.4 395.1L479.6 400L482.8 405L485.9 409.9L489.1 414.9L492.3 419.8L495.5 424.8L498.6 429.7L501.8 434.7L505 439.6L508.2 444.6L511.4 449.5L514.5 454.5L517.7 459.4L520.9 464.4L524.1 469.3L527.3 474.2L530.4 479.2L533.6 484.1L536.8 489.1L540 494L543.1 499L546.3 503.9L549.5 508.9L552.7 513.8L555.9 518.8L559 523.7L562.2 528.7L565.4 533.6M485 395.1L488 400L491 405L494 409.9L497 414.9L500 419.8L503 424.8L506 429.7L509 434.7L512 439.6L515 444.6L518 449.5L521 454.5L524 459.4L527 464.4L529.9 469.3L532.9 474.2L535.9 479.2L538.9 484.1L541.9 489.1L544.9 494L547.9 499L550.9 503.9L553.9 508.9L556.9 513.8L559.9 518.8L562.9 523.7L565.9 528.7L568.9 533.6M497.9 395.1L499.6 400L501.7 405L504 409.9L506.4 414.9L508.8 419.8L511.3 424.8L513.9 429.7L516.6 434.7L519.2 439.6L522 444.6L524.7 449.5L527.5 454.5L530.3 459.4L533.2 464.4L536.1 469.3L539 474.2L541.9 479.2L544.9 484.1L547.9 489.1L550.9 494L553.9 499L557 503.9L560.1 508.9L563.2 513.8L566.3 518.8L569.4 523.7L572.5 528.7L575.7 533.6M508.6 395.1L509.8 400L511.4 405L513.2 409.9L515.2 414.9L517.2 419.8L519.4 424.8L521.6 429.7L523.9 434.7L526.3 439.6L528.7 444.6L531.2 449.5L533.7 454.5L536.2 459.4L538.9 464.4L541.5 469.3L544.2 474.2L547 479.2L549.7 484.1L552.5 489.1L555.4 494L558.2 499L561.1 503.9L564.1 508.9L567 513.8L570 518.8L573 523.7L576 528.7L579.1 533.6M523.6 395.1L524 400L524.8 405L525.7 409.9L526.9 414.9L528.2 419.8L529.6 424.8L531.1 429.7L532.8 434.7L534.6 439.6L536.5 444.6L538.5 449.5L540.5 454.5L542.7 459.4L545 464.4L547.3 469.3L549.7 474.2L552.2 479.2L554.7 484.1L557.4 489.1L560.1 494L562.8 499L565.7 503.9L568.6 508.9L571.5 513.8L574.6 518.8L577.6 523.7L580.8 528.7L584 533.6M536.4 395.1L536.4 400L536.6 405L536.8 409.9L537.2 414.9L537.7 419.8L538.3 424.8L539 429.7L539.9 434.7L540.9 439.6L542.1 444.6L543.4 449.5L544.8 454.5L546.4 459.4L548.2 464.4L550.1 469.3L552.1 474.2L554.3 479.2L556.7 484.1L559.2 489.1L561.8 494L564.7 499L567.6 503.9L570.8 508.9L574.1 513.8L577.6 518.8L581.2 523.7L585 528.7L589 533.6" stroke="#333" stroke-width="0.7" fill="none" clip-path="url(#cmdclip)"/>
<path d="M418.5 395.5L421 402M438 395.5L447 429M455.5 442L456.5 450M465 395.5L465.7 419L473.6 449M479.3 461.6L488 473M496.4 395.5L494 440L497 480M536.4 401L523.6 424.3L524 470M532 493L556 533M551 470L557 505M565 520L570 533" stroke="#33bb33" stroke-width="0.7" fill="none" stroke-dasharray="2.5 1.5"/>
<ellipse cx="548" cy="469.9" rx="10.5" ry="6.2" fill="none" stroke="#1010f0" stroke-width="1.4"/>
<ellipse cx="548" cy="470" rx="6" ry="4.2" fill="#1010f0"/>
<text x="422" y="413.2" font-size="9.0" text-anchor="middle" font-weight="bold" fill="#fff" stroke="#fff" stroke-width="3" stroke-linejoin="round">1.20</text>
<text x="452.9" y="438.9" font-size="9.0" text-anchor="middle" font-weight="bold" fill="#fff" stroke="#fff" stroke-width="3" stroke-linejoin="round">1.15</text>
<text x="476" y="459.4" font-size="9.0" text-anchor="middle" font-weight="bold" fill="#fff" stroke="#fff" stroke-width="3" stroke-linejoin="round">1.10</text>
<text x="507.4" y="487" font-size="9.0" text-anchor="middle" font-weight="bold" fill="#fff" stroke="#fff" stroke-width="3" stroke-linejoin="round">1.05</text>
<text x="528.6" y="489.9" font-size="9.0" text-anchor="middle" font-weight="bold" fill="#fff" stroke="#fff" stroke-width="3" stroke-linejoin="round">1.00</text>
<text x="562.3" y="516.7" font-size="9.0" text-anchor="middle" font-weight="bold" fill="#fff" stroke="#fff" stroke-width="3" stroke-linejoin="round">0.95</text>
<text x="534.9" y="432.4" font-size="9.0" text-anchor="middle" font-weight="bold" fill="#fff" stroke="#fff" stroke-width="3" stroke-linejoin="round">12.0</text>
<text x="525.7" y="440.7" font-size="9.0" text-anchor="middle" font-weight="bold" fill="#fff" stroke="#fff" stroke-width="3" stroke-linejoin="round">11.0</text>
<text x="520.6" y="446.4" font-size="9.0" text-anchor="middle" font-weight="bold" fill="#fff" stroke="#fff" stroke-width="3" stroke-linejoin="round">10.0</text>
<text x="517.7" y="456.2" font-size="9.0" text-anchor="middle" font-weight="bold" fill="#fff" stroke="#fff" stroke-width="3" stroke-linejoin="round">9.0</text>
<text x="514.9" y="464.2" font-size="9.0" text-anchor="middle" font-weight="bold" fill="#fff" stroke="#fff" stroke-width="3" stroke-linejoin="round">8.0</text>
<text x="514.3" y="472.2" font-size="9.0" text-anchor="middle" font-weight="bold" fill="#fff" stroke="#fff" stroke-width="3" stroke-linejoin="round">7.0</text>
<text x="513.7" y="479.9" font-size="9.0" text-anchor="middle" font-weight="bold" fill="#fff" stroke="#fff" stroke-width="3" stroke-linejoin="round">6.0</text>
<text x="516.6" y="489" font-size="9.0" text-anchor="middle" font-weight="bold" fill="#fff" stroke="#fff" stroke-width="3" stroke-linejoin="round">5.0</text>
<text x="518" y="496.7" font-size="9.0" text-anchor="middle" font-weight="bold" fill="#fff" stroke="#fff" stroke-width="3" stroke-linejoin="round">4.0</text>
<text x="521.4" y="504.4" font-size="9.0" text-anchor="middle" font-weight="bold" fill="#fff" stroke="#fff" stroke-width="3" stroke-linejoin="round">3.0</text>
<text x="525.1" y="513.3" font-size="9.0" text-anchor="middle" font-weight="bold" fill="#fff" stroke="#fff" stroke-width="3" stroke-linejoin="round">2.0</text>
<text x="533.4" y="521" font-size="9.0" text-anchor="middle" font-weight="bold" fill="#fff" stroke="#fff" stroke-width="3" stroke-linejoin="round">1.0</text>
<text x="534.9" y="530.4" font-size="9.0" text-anchor="middle" font-weight="bold" fill="#fff" stroke="#fff" stroke-width="3" stroke-linejoin="round">0.2</text>
<text x="534.9" y="432.4" font-size="9.0" text-anchor="middle" font-weight="bold">12.0</text>
<text x="525.7" y="440.7" font-size="9.0" text-anchor="middle" font-weight="bold">11.0</text>
<text x="520.6" y="446.4" font-size="9.0" text-anchor="middle" font-weight="bold">10.0</text>
<text x="517.7" y="456.2" font-size="9.0" text-anchor="middle" font-weight="bold">9.0</text>
<text x="514.9" y="464.2" font-size="9.0" text-anchor="middle" font-weight="bold">8.0</text>
<text x="514.3" y="472.2" font-size="9.0" text-anchor="middle" font-weight="bold">7.0</text>
<text x="513.7" y="479.9" font-size="9.0" text-anchor="middle" font-weight="bold">6.0</text>
<text x="516.6" y="489" font-size="9.0" text-anchor="middle" font-weight="bold">5.0</text>
<text x="518" y="496.7" font-size="9.0" text-anchor="middle" font-weight="bold">4.0</text>
<text x="521.4" y="504.4" font-size="9.0" text-anchor="middle" font-weight="bold">3.0</text>
<text x="525.1" y="513.3" font-size="9.0" text-anchor="middle" font-weight="bold">2.0</text>
<text x="533.4" y="521" font-size="9.0" text-anchor="middle" font-weight="bold">1.0</text>
<text x="534.9" y="530.4" font-size="9.0" text-anchor="middle" font-weight="bold">0.2</text>
<text x="422" y="413.2" font-size="9.0" text-anchor="middle" font-weight="bold" fill="#1aaa1a">1.20</text>
<text x="452.9" y="438.9" font-size="9.0" text-anchor="middle" font-weight="bold" fill="#1aaa1a">1.15</text>
<text x="476" y="459.4" font-size="9.0" text-anchor="middle" font-weight="bold" fill="#1aaa1a">1.10</text>
<text x="507.4" y="487" font-size="9.0" text-anchor="middle" font-weight="bold" fill="#1aaa1a">1.05</text>
<text x="528.6" y="489.9" font-size="9.0" text-anchor="middle" font-weight="bold" fill="#1aaa1a">1.00</text>
<text x="562.3" y="516.7" font-size="9.0" text-anchor="middle" font-weight="bold" fill="#1aaa1a">0.95</text>
<path d="M432.8 534.2v-3M432.8 395.1v3M469.4 534.2v-3M469.4 395.1v3M505.9 534.2v-3M505.9 395.1v3M542.5 534.2v-3M542.5 395.1v3M579 534.2v-3M579 395.1v3M615.5 534.2v-3M615.5 395.1v3M652.1 534.2v-3M652.1 395.1v3M396.3 534.2v-1.6M396.3 395.1v1.6M403.6 534.2v-1.6M403.6 395.1v1.6M410.9 534.2v-1.6M410.9 395.1v1.6M418.2 534.2v-1.6M418.2 395.1v1.6M425.5 534.2v-1.6M425.5 395.1v1.6M432.8 534.2v-1.6M432.8 395.1v1.6M440.1 534.2v-1.6M440.1 395.1v1.6M447.5 534.2v-1.6M447.5 395.1v1.6M454.8 534.2v-1.6M454.8 395.1v1.6M462.1 534.2v-1.6M462.1 395.1v1.6M469.4 534.2v-1.6M469.4 395.1v1.6M476.7 534.2v-1.6M476.7 395.1v1.6M484 534.2v-1.6M484 395.1v1.6M491.3 534.2v-1.6M491.3 395.1v1.6M498.6 534.2v-1.6M498.6 395.1v1.6M505.9 534.2v-1.6M505.9 395.1v1.6M513.2 534.2v-1.6M513.2 395.1v1.6M520.5 534.2v-1.6M520.5 395.1v1.6M527.8 534.2v-1.6M527.8 395.1v1.6M535.1 534.2v-1.6M535.1 395.1v1.6M542.5 534.2v-1.6M542.5 395.1v1.6M549.8 534.2v-1.6M549.8 395.1v1.6M557.1 534.2v-1.6M557.1 395.1v1.6M564.4 534.2v-1.6M564.4 395.1v1.6M571.7 534.2v-1.6M571.7 395.1v1.6M579 534.2v-1.6M579 395.1v1.6M586.3 534.2v-1.6M586.3 395.1v1.6M593.6 534.2v-1.6M593.6 395.1v1.6M600.9 534.2v-1.6M600.9 395.1v1.6M608.2 534.2v-1.6M608.2 395.1v1.6M615.5 534.2v-1.6M615.5 395.1v1.6M622.8 534.2v-1.6M622.8 395.1v1.6M630.1 534.2v-1.6M630.1 395.1v1.6M637.4 534.2v-1.6M637.4 395.1v1.6M644.8 534.2v-1.6M644.8 395.1v1.6M652.1 534.2v-1.6M652.1 395.1v1.6M659.4 534.2v-1.6M659.4 395.1v1.6M666.7 534.2v-1.6M666.7 395.1v1.6M674 534.2v-1.6M674 395.1v1.6M681.3 534.2v-1.6M681.3 395.1v1.6M688.6 534.2v-1.6M688.6 395.1v1.6M396.3 409h3M688.6 409h-3M396.3 436.8h3M688.6 436.8h-3M396.3 464.7h3M688.6 464.7h-3M396.3 492.5h3M688.6 492.5h-3M396.3 520.3h3M688.6 520.3h-3M396.3 395.1h1.6M688.6 395.1h-1.6M396.3 402.1h1.6M688.6 402.1h-1.6M396.3 409h1.6M688.6 409h-1.6M396.3 416h1.6M688.6 416h-1.6M396.3 422.9h1.6M688.6 422.9h-1.6M396.3 429.9h1.6M688.6 429.9h-1.6M396.3 436.8h1.6M688.6 436.8h-1.6M396.3 443.8h1.6M688.6 443.8h-1.6M396.3 450.7h1.6M688.6 450.7h-1.6M396.3 457.7h1.6M688.6 457.7h-1.6M396.3 464.7h1.6M688.6 464.7h-1.6M396.3 471.6h1.6M688.6 471.6h-1.6M396.3 478.6h1.6M688.6 478.6h-1.6M396.3 485.5h1.6M688.6 485.5h-1.6M396.3 492.5h1.6M688.6 492.5h-1.6M396.3 499.4h1.6M688.6 499.4h-1.6M396.3 506.4h1.6M688.6 506.4h-1.6M396.3 513.3h1.6M688.6 513.3h-1.6M396.3 520.3h1.6M688.6 520.3h-1.6M396.3 527.2h1.6M688.6 527.2h-1.6M396.3 534.2h1.6M688.6 534.2h-1.6" stroke="#555" stroke-width="0.8" fill="none"/>
<rect x="396.3" y="395.1" width="292.3" height="139.1" fill="none" stroke="#555" stroke-width="1"/>
<text x="390" y="412.6" font-size="9.8" text-anchor="end" stroke="#000" stroke-width="0.2">4.2</text>
<text x="390" y="440.4" font-size="9.8" text-anchor="end" stroke="#000" stroke-width="0.2">4.4</text>
<text x="390" y="468.3" font-size="9.8" text-anchor="end" stroke="#000" stroke-width="0.2">4.6</text>
<text x="390" y="496.1" font-size="9.8" text-anchor="end" stroke="#000" stroke-width="0.2">4.8</text>
<text x="390" y="523.9" font-size="9.8" text-anchor="end" stroke="#000" stroke-width="0.2">5.0</text>
<text x="396.3" y="547.3" font-size="9.8" text-anchor="middle" textLength="18.5" lengthAdjust="spacingAndGlyphs" stroke="#000" stroke-width="0.2">0.65</text>
<text x="432.8" y="547.3" font-size="9.8" text-anchor="middle" textLength="18.5" lengthAdjust="spacingAndGlyphs" stroke="#000" stroke-width="0.2">0.70</text>
<text x="469.4" y="547.3" font-size="9.8" text-anchor="middle" textLength="18.5" lengthAdjust="spacingAndGlyphs" stroke="#000" stroke-width="0.2">0.75</text>
<text x="505.9" y="547.3" font-size="9.8" text-anchor="middle" textLength="18.5" lengthAdjust="spacingAndGlyphs" stroke="#000" stroke-width="0.2">0.80</text>
<text x="542.5" y="547.3" font-size="9.8" text-anchor="middle" textLength="18.5" lengthAdjust="spacingAndGlyphs" stroke="#000" stroke-width="0.2">0.85</text>
<text x="579" y="547.3" font-size="9.8" text-anchor="middle" textLength="18.5" lengthAdjust="spacingAndGlyphs" stroke="#000" stroke-width="0.2">0.90</text>
<text x="615.5" y="547.3" font-size="9.8" text-anchor="middle" textLength="18.5" lengthAdjust="spacingAndGlyphs" stroke="#000" stroke-width="0.2">0.95</text>
<text x="652.1" y="547.3" font-size="9.8" text-anchor="middle" textLength="18.5" lengthAdjust="spacingAndGlyphs" stroke="#000" stroke-width="0.2">1.00</text>
<text x="688.6" y="547.3" font-size="9.8" text-anchor="middle" textLength="18.5" lengthAdjust="spacingAndGlyphs" stroke="#000" stroke-width="0.2">1.05</text>
<text x="542.5" y="383.5" font-size="9.8" text-anchor="middle" font-weight="bold" textLength="168.9" lengthAdjust="spacingAndGlyphs">HATS-63 [Fe/H] = 0.06 CMD and SED</text>
<text x="542.4" y="560.7" font-size="9.6" text-anchor="middle" stroke="#000" stroke-width="0.2">BP<tspan font-size="7.2" dy="2.8">0</tspan><tspan dy="-2.8">-RP</tspan><tspan font-size="7.2" dy="2.8">0</tspan><tspan dy="-2.8"> [mag]</tspan></text>
<text x="363.8" y="464.5" font-size="10.4" text-anchor="middle" transform="rotate(-90 363.8 464.5)" stroke="#000" stroke-width="0.2">G<tspan font-size="7" dy="2.8">abs</tspan><tspan dy="-2.8"> [mag]</tspan></text>
<path d="M414.8 686 L466.9 668.5 L519 644.2" fill="none" stroke="#666" stroke-width="1.0"/>
<path d="M519 644.2 L571.2 616.7" fill="none" stroke="#666" stroke-width="1.5"/>
<path d="M571.2 616.7 L623.2 600.6 L675.6 597.2" fill="none" stroke="#666" stroke-width="2.2"/>
<g fill="#000"><circle cx="414.8" cy="686" r="3.1"/><circle cx="466.9" cy="668.5" r="3.1"/><circle cx="519" cy="644.2" r="3.1"/><circle cx="571.2" cy="616.7" r="3.1"/><circle cx="623.2" cy="600.6" r="3.1"/><circle cx="675.6" cy="597.2" r="3.1"/></g>
<path d="M401.6 587h3M688.4 587h-3M401.6 596.5h3M688.4 596.5h-3M401.6 605.9h3M688.4 605.9h-3M401.6 615.4h3M688.4 615.4h-3M401.6 624.9h3M688.4 624.9h-3M401.6 634.3h3M688.4 634.3h-3M401.6 643.8h3M688.4 643.8h-3M401.6 653.2h3M688.4 653.2h-3M401.6 662.7h3M688.4 662.7h-3M401.6 672.2h3M688.4 672.2h-3M401.6 681.6h3M688.4 681.6h-3M401.6 691.1h3M688.4 691.1h-3M401.6 591.7h1.6M688.4 591.7h-1.6M401.6 601.2h1.6M688.4 601.2h-1.6M401.6 610.7h1.6M688.4 610.7h-1.6M401.6 620.1h1.6M688.4 620.1h-1.6M401.6 629.6h1.6M688.4 629.6h-1.6M401.6 639h1.6M688.4 639h-1.6M401.6 648.5h1.6M688.4 648.5h-1.6M401.6 658h1.6M688.4 658h-1.6M401.6 667.4h1.6M688.4 667.4h-1.6M401.6 676.9h1.6M688.4 676.9h-1.6M401.6 686.4h1.6M688.4 686.4h-1.6" stroke="#555" stroke-width="0.8" fill="none"/>
<path d="M414.8 691.1v-3M414.8 587v3M466.9 691.1v-3M466.9 587v3M519 691.1v-3M519 587v3M571.2 691.1v-3M571.2 587v3M623.2 691.1v-3M623.2 587v3M675.6 691.1v-3M675.6 587v3" stroke="#555" stroke-width="0.8"/>
<rect x="401.6" y="587" width="286.8" height="104.1" fill="none" stroke="#555" stroke-width="1"/>
<text x="395.6" y="590" font-size="8.6" text-anchor="end" textLength="18.6" lengthAdjust="spacingAndGlyphs" stroke="#000" stroke-width="0.2">12.0</text>
<text x="395.6" y="599.5" font-size="8.6" text-anchor="end" textLength="18.6" lengthAdjust="spacingAndGlyphs" stroke="#000" stroke-width="0.2">12.2</text>
<text x="395.6" y="608.9" font-size="8.6" text-anchor="end" textLength="18.6" lengthAdjust="spacingAndGlyphs" stroke="#000" stroke-width="0.2">12.4</text>
<text x="395.6" y="618.4" font-size="8.6" text-anchor="end" textLength="18.6" lengthAdjust="spacingAndGlyphs" stroke="#000" stroke-width="0.2">12.6</text>
<text x="395.6" y="627.9" font-size="8.6" text-anchor="end" textLength="18.6" lengthAdjust="spacingAndGlyphs" stroke="#000" stroke-width="0.2">12.8</text>
<text x="395.6" y="637.3" font-size="8.6" text-anchor="end" textLength="18.6" lengthAdjust="spacingAndGlyphs" stroke="#000" stroke-width="0.2">13.0</text>
<text x="395.6" y="646.8" font-size="8.6" text-anchor="end" textLength="18.6" lengthAdjust="spacingAndGlyphs" stroke="#000" stroke-width="0.2">13.2</text>
<text x="395.6" y="656.2" font-size="8.6" text-anchor="end" textLength="18.6" lengthAdjust="spacingAndGlyphs" stroke="#000" stroke-width="0.2">13.4</text>
<text x="395.6" y="665.7" font-size="8.6" text-anchor="end" textLength="18.6" lengthAdjust="spacingAndGlyphs" stroke="#000" stroke-width="0.2">13.6</text>
<text x="395.6" y="675.2" font-size="8.6" text-anchor="end" textLength="18.6" lengthAdjust="spacingAndGlyphs" stroke="#000" stroke-width="0.2">13.8</text>
<text x="395.6" y="684.6" font-size="8.6" text-anchor="end" textLength="18.6" lengthAdjust="spacingAndGlyphs" stroke="#000" stroke-width="0.2">14.0</text>
<text x="395.6" y="694.1" font-size="8.6" text-anchor="end" textLength="18.6" lengthAdjust="spacingAndGlyphs" stroke="#000" stroke-width="0.2">14.2</text>
<text x="414.8" y="705.2" font-size="10.2" text-anchor="middle" textLength="12.65" lengthAdjust="spacingAndGlyphs" stroke="#000" stroke-width="0.2">BP</text>
<text x="466.9" y="705.2" font-size="10.2" text-anchor="middle" textLength="7.38" lengthAdjust="spacingAndGlyphs" stroke="#000" stroke-width="0.2">G</text>
<text x="519" y="705.2" font-size="10.2" text-anchor="middle" textLength="13.18" lengthAdjust="spacingAndGlyphs" stroke="#000" stroke-width="0.2">RP</text>
<text x="571.2" y="705.2" font-size="10.2" text-anchor="middle" textLength="4.74" lengthAdjust="spacingAndGlyphs" stroke="#000" stroke-width="0.2">J</text>
<text x="623.2" y="705.2" font-size="10.2" text-anchor="middle" textLength="6.85" lengthAdjust="spacingAndGlyphs" stroke="#000" stroke-width="0.2">H</text>
<text x="675.6" y="705.2" font-size="10.2" text-anchor="middle" textLength="6.33" lengthAdjust="spacingAndGlyphs" stroke="#000" stroke-width="0.2">K</text>
<text x="364.4" y="639.3" font-size="9.9" text-anchor="middle" textLength="90.5" lengthAdjust="spacingAndGlyphs" transform="rotate(-90 364.4 639.3)" stroke="#000" stroke-width="0.2">Observed Magnitude</text>
<path d="M420.4 736.3L426.9 736.9L433.5 737.5L440 738L446.6 738.4L453.1 738.7L459.7 738.9L466.2 739.1L472.7 739.1L479.3 739L485.8 738.9L492.4 738.7L498.9 738.5L505.5 738.3L512 738L518.6 737.7L525.1 737.4L531.6 736.9L538.2 736.4L544.7 735.8L551.3 735.2L557.8 734.5L564.4 733.9L570.9 733.4L577.4 733L584 732.5L590.5 732.1L597.1 731.7L603.6 731.3L610.2 731L616.7 730.7L623.3 730.5L629.8 730.4L636.3 730.3L642.9 730.2L649.4 730.1L656 730L662.5 730L669.1 729.9L675.6 729.9L675.6 751.1L669.1 751.1L662.5 751L656 751L649.4 750.9L642.9 750.8L636.3 750.7L629.8 750.6L623.3 750.5L616.7 750.3L610.2 750L603.6 749.7L597.1 749.3L590.5 748.9L584 748.5L577.4 748L570.9 747.6L564.4 747.1L557.8 746.5L551.3 745.8L544.7 745.2L538.2 744.6L531.6 744.1L525.1 743.6L518.6 743.3L512 743L505.5 742.7L498.9 742.5L492.4 742.3L485.8 742.1L479.3 742L472.7 741.9L466.2 741.9L459.7 742.1L453.1 742.3L446.6 742.6L440 743L433.5 743.5L426.9 744.1L420.4 744.7Z" fill="#c4c4c4" fill-opacity="1"/>
<path d="M420.4 736.8L426.9 737.4L433.5 737.9L440 738.3L446.6 738.7L453.1 739L459.7 739.2L466.2 739.4L472.7 739.4L479.3 739.4L485.8 739.3L492.4 739.1L498.9 738.9L505.5 738.7L512 738.5L518.6 738.2L525.1 738L531.6 737.7L538.2 737.3L544.7 736.8L551.3 736.3L557.8 735.9L564.4 735.4L570.9 735.1L577.4 734.7L584 734.4L590.5 734.1L597.1 733.9L603.6 733.6L610.2 733.4L616.7 733.2L623.3 733.1L629.8 733.1L636.3 733L642.9 733L649.4 733L656 732.9L662.5 732.9L669.1 732.9L675.6 732.9L675.6 748.1L669.1 748.1L662.5 748.1L656 748.1L649.4 748L642.9 748L636.3 748L629.8 747.9L623.3 747.9L616.7 747.8L610.2 747.6L603.6 747.4L597.1 747.1L590.5 746.9L584 746.6L577.4 746.3L570.9 745.9L564.4 745.6L557.8 745.1L551.3 744.7L544.7 744.2L538.2 743.7L531.6 743.3L525.1 743L518.6 742.8L512 742.5L505.5 742.3L498.9 742.1L492.4 741.9L485.8 741.7L479.3 741.6L472.7 741.6L466.2 741.6L459.7 741.8L453.1 742L446.6 742.3L440 742.7L433.5 743.1L426.9 743.6L420.4 744.2Z" fill="#9a9a9a" fill-opacity="1"/>
<path d="M420.4 737.1L426.9 737.6L433.5 738.1L440 738.6L446.6 738.9L453.1 739.2L459.7 739.4L466.2 739.6L472.7 739.6L479.3 739.6L485.8 739.5L492.4 739.3L498.9 739.2L505.5 739L512 738.8L518.6 738.6L525.1 738.4L531.6 738.1L538.2 737.8L544.7 737.4L551.3 737.1L557.8 736.7L564.4 736.3L570.9 736L577.4 735.8L584 735.5L590.5 735.3L597.1 735.1L603.6 734.9L610.2 734.8L616.7 734.6L623.3 734.5L629.8 734.4L636.3 734.4L642.9 734.3L649.4 734.2L656 734.2L662.5 734.1L669.1 734.1L675.6 734.1L675.6 746.9L669.1 746.9L662.5 746.9L656 746.8L649.4 746.8L642.9 746.7L636.3 746.6L629.8 746.6L623.3 746.5L616.7 746.4L610.2 746.2L603.6 746.1L597.1 745.9L590.5 745.7L584 745.5L577.4 745.2L570.9 745L564.4 744.7L557.8 744.3L551.3 743.9L544.7 743.6L538.2 743.2L531.6 742.9L525.1 742.6L518.6 742.4L512 742.2L505.5 742L498.9 741.8L492.4 741.7L485.8 741.5L479.3 741.4L472.7 741.4L466.2 741.4L459.7 741.6L453.1 741.8L446.6 742.1L440 742.4L433.5 742.9L426.9 743.4L420.4 743.9Z" fill="#808080" fill-opacity="1"/>
<path d="M574 742.7V764.8M572.7 742.7h2.6M572.7 764.8h2.6M624.7 746.1V769M623.4000000000001 746.1h2.6M623.4000000000001 769h2.6M675.6 735V757.4M674.3000000000001 735h2.6M674.3000000000001 757.4h2.6" stroke="#333" stroke-width="0.8" fill="none"/>
<g fill="#000"><circle cx="420.4" cy="745.5" r="3.1"/><circle cx="471.3" cy="740.1" r="3.1"/><circle cx="522.5" cy="741" r="3.1"/><circle cx="574" cy="754" r="3.1"/><circle cx="624.7" cy="757.7" r="3.1"/><circle cx="675.6" cy="746.4" r="3.1"/></g>
<path d="M407.8 722.6h3M688.4 722.6h-3M407.8 731.8h3M688.4 731.8h-3M407.8 740.9h3M688.4 740.9h-3M407.8 750.1h3M688.4 750.1h-3M407.8 759.3h3M688.4 759.3h-3M407.8 768.4h3M688.4 768.4h-3M407.8 777.6h3M688.4 777.6h-3M407.8 727.2h1.6M688.4 727.2h-1.6M407.8 736.4h1.6M688.4 736.4h-1.6M407.8 745.5h1.6M688.4 745.5h-1.6M407.8 754.7h1.6M688.4 754.7h-1.6M407.8 763.9h1.6M688.4 763.9h-1.6M407.8 773h1.6M688.4 773h-1.6" stroke="#555" stroke-width="0.8" fill="none"/>
<path d="M420.4 777.6v-3M420.4 722.6v3M471.3 777.6v-3M471.3 722.6v3M522.5 777.6v-3M522.5 722.6v3M574 777.6v-3M574 722.6v3M624.7 777.6v-3M624.7 722.6v3M675.6 777.6v-3M675.6 722.6v3" stroke="#555" stroke-width="0.8"/>
<rect x="407.8" y="722.6" width="280.6" height="55" fill="none" stroke="#555" stroke-width="1"/>
<text x="401.4" y="725.6" font-size="8.8" text-anchor="end" textLength="21.7" lengthAdjust="spacingAndGlyphs" stroke="#000" stroke-width="0.2">-0.04</text>
<text x="401.4" y="734.8" font-size="8.8" text-anchor="end" textLength="21.7" lengthAdjust="spacingAndGlyphs" stroke="#000" stroke-width="0.2">-0.02</text>
<text x="401.4" y="743.9" font-size="8.8" text-anchor="end" textLength="18.9" lengthAdjust="spacingAndGlyphs" stroke="#000" stroke-width="0.2">0.00</text>
<text x="401.4" y="753.1" font-size="8.8" text-anchor="end" textLength="18.9" lengthAdjust="spacingAndGlyphs" stroke="#000" stroke-width="0.2">0.02</text>
<text x="401.4" y="762.3" font-size="8.8" text-anchor="end" textLength="18.9" lengthAdjust="spacingAndGlyphs" stroke="#000" stroke-width="0.2">0.04</text>
<text x="401.4" y="771.4" font-size="8.8" text-anchor="end" textLength="18.9" lengthAdjust="spacingAndGlyphs" stroke="#000" stroke-width="0.2">0.06</text>
<text x="401.4" y="780.6" font-size="8.8" text-anchor="end" textLength="18.9" lengthAdjust="spacingAndGlyphs" stroke="#000" stroke-width="0.2">0.08</text>
<text x="420.4" y="791.2" font-size="10.2" text-anchor="middle" textLength="12.65" lengthAdjust="spacingAndGlyphs" stroke="#000" stroke-width="0.2">BP</text>
<text x="471.3" y="791.2" font-size="10.2" text-anchor="middle" textLength="7.38" lengthAdjust="spacingAndGlyphs" stroke="#000" stroke-width="0.2">G</text>
<text x="522.5" y="791.2" font-size="10.2" text-anchor="middle" textLength="13.18" lengthAdjust="spacingAndGlyphs" stroke="#000" stroke-width="0.2">RP</text>
<text x="574" y="791.2" font-size="10.2" text-anchor="middle" textLength="4.74" lengthAdjust="spacingAndGlyphs" stroke="#000" stroke-width="0.2">J</text>
<text x="624.7" y="791.2" font-size="10.2" text-anchor="middle" textLength="6.85" lengthAdjust="spacingAndGlyphs" stroke="#000" stroke-width="0.2">H</text>
<text x="675.6" y="791.2" font-size="10.2" text-anchor="middle" textLength="6.33" lengthAdjust="spacingAndGlyphs" stroke="#000" stroke-width="0.2">K</text>
<text x="365.2" y="750.6" font-size="9.6" text-anchor="middle" textLength="26.8" lengthAdjust="spacingAndGlyphs" transform="rotate(-90 365.2 750.6)" stroke="#000" stroke-width="0.2">&#916; Mag</text>
</svg>
</body></html>
